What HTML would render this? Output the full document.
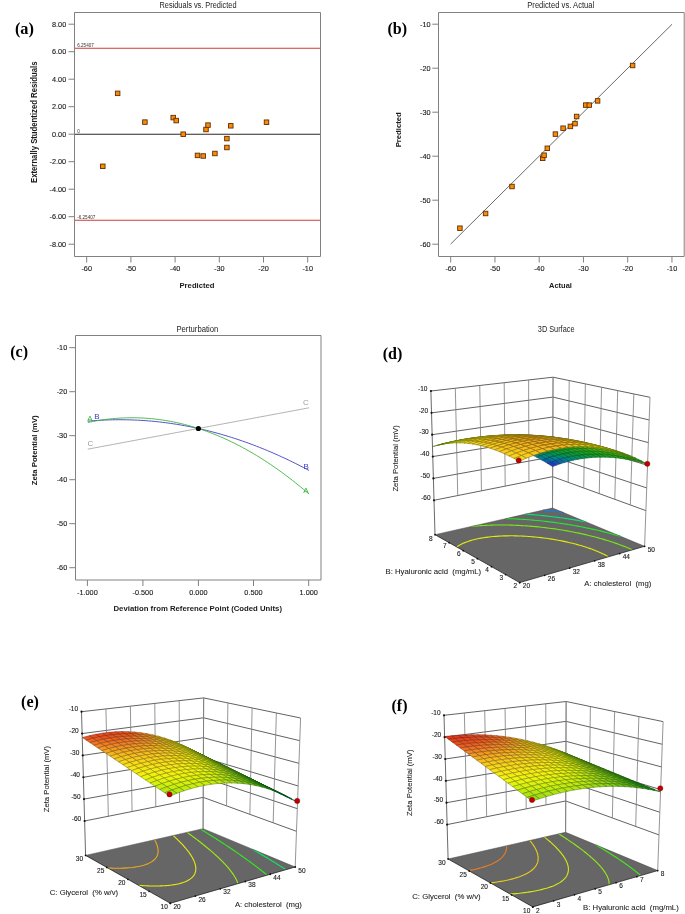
<!DOCTYPE html>
<html><head><meta charset="utf-8"><style>
html,body{margin:0;padding:0;background:#fff;}
svg{display:block;will-change:transform;filter:blur(0.3px);}
.s{font-family:"Liberation Sans",sans-serif;}
.tk{font-family:"Liberation Sans",sans-serif;fill:#1a1a1a;stroke:#1a1a1a;stroke-width:0.12px;}
.tk2{font-family:"Liberation Sans",sans-serif;fill:#222;stroke:#222;stroke-width:0.08px;}
.t{font-family:"Liberation Sans",sans-serif;fill:#222;}
.b{font-family:"Liberation Sans",sans-serif;font-weight:bold;fill:#1a1a1a;}
.pl{font-family:"Liberation Serif",serif;font-weight:bold;fill:#000;}
</style></head><body>
<svg width="685" height="914" viewBox="0 0 685 914">
<rect width="685" height="914" fill="#fff"/>
<text x="198.00" y="8.40" font-size="8.3" class="t" text-anchor="middle" textLength="77.00" lengthAdjust="spacingAndGlyphs">Residuals vs. Predicted</text>
<line x1="74.50" y1="48.30" x2="320.50" y2="48.30" stroke="#d23a3a" stroke-width="1.1"/>
<line x1="74.50" y1="220.20" x2="320.50" y2="220.20" stroke="#d23a3a" stroke-width="1.1"/>
<line x1="74.50" y1="134.30" x2="320.50" y2="134.30" stroke="#2a2a2a" stroke-width="1.1"/>
<text x="77.20" y="47.00" font-size="4.6" class="s" fill="#333">6.25407</text>
<text x="77.20" y="132.90" font-size="4.6" class="s" fill="#333">0</text>
<text x="77.20" y="218.80" font-size="4.6" class="s" fill="#333">-6.25407</text>
<path d="M74.50,12.50 L320.50,12.50 L320.50,256.50 L74.50,256.50 Z" fill="none" stroke="#808080" stroke-width="1"/>
<line x1="68.50" y1="24.20" x2="74.50" y2="24.20" stroke="#808080" stroke-width="1"/>
<text x="66.20" y="26.70" font-size="7.3" class="tk" text-anchor="end">8.00</text>
<line x1="68.50" y1="51.70" x2="74.50" y2="51.70" stroke="#808080" stroke-width="1"/>
<text x="66.20" y="54.20" font-size="7.3" class="tk" text-anchor="end">6.00</text>
<line x1="68.50" y1="79.20" x2="74.50" y2="79.20" stroke="#808080" stroke-width="1"/>
<text x="66.20" y="81.70" font-size="7.3" class="tk" text-anchor="end">4.00</text>
<line x1="68.50" y1="106.70" x2="74.50" y2="106.70" stroke="#808080" stroke-width="1"/>
<text x="66.20" y="109.20" font-size="7.3" class="tk" text-anchor="end">2.00</text>
<line x1="68.50" y1="134.20" x2="74.50" y2="134.20" stroke="#808080" stroke-width="1"/>
<text x="66.20" y="136.70" font-size="7.3" class="tk" text-anchor="end">0.00</text>
<line x1="68.50" y1="161.70" x2="74.50" y2="161.70" stroke="#808080" stroke-width="1"/>
<text x="66.20" y="164.20" font-size="7.3" class="tk" text-anchor="end">-2.00</text>
<line x1="68.50" y1="189.20" x2="74.50" y2="189.20" stroke="#808080" stroke-width="1"/>
<text x="66.20" y="191.70" font-size="7.3" class="tk" text-anchor="end">-4.00</text>
<line x1="68.50" y1="216.70" x2="74.50" y2="216.70" stroke="#808080" stroke-width="1"/>
<text x="66.20" y="219.20" font-size="7.3" class="tk" text-anchor="end">-6.00</text>
<line x1="68.50" y1="244.20" x2="74.50" y2="244.20" stroke="#808080" stroke-width="1"/>
<text x="66.20" y="246.70" font-size="7.3" class="tk" text-anchor="end">-8.00</text>
<line x1="86.70" y1="256.50" x2="86.70" y2="262.50" stroke="#808080" stroke-width="1"/>
<text x="86.70" y="270.90" font-size="7.3" class="tk" text-anchor="middle">-60</text>
<line x1="130.90" y1="256.50" x2="130.90" y2="262.50" stroke="#808080" stroke-width="1"/>
<text x="130.90" y="270.90" font-size="7.3" class="tk" text-anchor="middle">-50</text>
<line x1="175.10" y1="256.50" x2="175.10" y2="262.50" stroke="#808080" stroke-width="1"/>
<text x="175.10" y="270.90" font-size="7.3" class="tk" text-anchor="middle">-40</text>
<line x1="219.30" y1="256.50" x2="219.30" y2="262.50" stroke="#808080" stroke-width="1"/>
<text x="219.30" y="270.90" font-size="7.3" class="tk" text-anchor="middle">-30</text>
<line x1="263.50" y1="256.50" x2="263.50" y2="262.50" stroke="#808080" stroke-width="1"/>
<text x="263.50" y="270.90" font-size="7.3" class="tk" text-anchor="middle">-20</text>
<line x1="307.70" y1="256.50" x2="307.70" y2="262.50" stroke="#808080" stroke-width="1"/>
<text x="307.70" y="270.90" font-size="7.3" class="tk" text-anchor="middle">-10</text>
<text x="197.00" y="287.70" font-size="7.6" class="b" text-anchor="middle" textLength="35.00" lengthAdjust="spacingAndGlyphs">Predicted</text>
<text x="37.40" y="122.20" font-size="8.4" class="b" text-anchor="middle" textLength="121.50" lengthAdjust="spacingAndGlyphs" transform="rotate(-90 37.40 122.20)">Externally Studentized Residuals</text>
<rect x="115.40" y="91.10" width="4.5" height="4.5" fill="#ff8a00" stroke="#5a300a" stroke-width="0.9"/>
<rect x="142.65" y="119.85" width="4.5" height="4.5" fill="#ff8a00" stroke="#5a300a" stroke-width="0.9"/>
<rect x="170.95" y="115.35" width="4.5" height="4.5" fill="#ff8a00" stroke="#5a300a" stroke-width="0.9"/>
<rect x="173.95" y="118.35" width="4.5" height="4.5" fill="#ff8a00" stroke="#5a300a" stroke-width="0.9"/>
<rect x="180.95" y="131.95" width="4.5" height="4.5" fill="#ff8a00" stroke="#5a300a" stroke-width="0.9"/>
<rect x="203.75" y="127.25" width="4.5" height="4.5" fill="#ff8a00" stroke="#5a300a" stroke-width="0.9"/>
<rect x="205.75" y="122.85" width="4.5" height="4.5" fill="#ff8a00" stroke="#5a300a" stroke-width="0.9"/>
<rect x="228.55" y="123.55" width="4.5" height="4.5" fill="#ff8a00" stroke="#5a300a" stroke-width="0.9"/>
<rect x="264.25" y="119.95" width="4.5" height="4.5" fill="#ff8a00" stroke="#5a300a" stroke-width="0.9"/>
<rect x="224.65" y="136.35" width="4.5" height="4.5" fill="#ff8a00" stroke="#5a300a" stroke-width="0.9"/>
<rect x="224.65" y="145.25" width="4.5" height="4.5" fill="#ff8a00" stroke="#5a300a" stroke-width="0.9"/>
<rect x="212.65" y="151.25" width="4.5" height="4.5" fill="#ff8a00" stroke="#5a300a" stroke-width="0.9"/>
<rect x="195.25" y="153.15" width="4.5" height="4.5" fill="#ff8a00" stroke="#5a300a" stroke-width="0.9"/>
<rect x="200.95" y="153.75" width="4.5" height="4.5" fill="#ff8a00" stroke="#5a300a" stroke-width="0.9"/>
<rect x="100.55" y="164.05" width="4.5" height="4.5" fill="#ff8a00" stroke="#5a300a" stroke-width="0.9"/>
<text x="14.90" y="33.60" font-size="16" class="pl" textLength="19.00" lengthAdjust="spacingAndGlyphs">(a)</text>
<text x="560.75" y="8.40" font-size="8.3" class="t" text-anchor="middle" textLength="67.00" lengthAdjust="spacingAndGlyphs">Predicted vs. Actual</text>
<line x1="450.60" y1="244.10" x2="672.00" y2="24.30" stroke="#6a6a6a" stroke-width="1"/>
<path d="M438.50,12.50 L684.20,12.50 L684.20,256.50 L438.50,256.50 Z" fill="none" stroke="#808080" stroke-width="1"/>
<line x1="432.30" y1="24.20" x2="438.50" y2="24.20" stroke="#808080" stroke-width="1"/>
<text x="430.50" y="26.70" font-size="7.3" class="tk" text-anchor="end">-10</text>
<line x1="432.30" y1="68.20" x2="438.50" y2="68.20" stroke="#808080" stroke-width="1"/>
<text x="430.50" y="70.70" font-size="7.3" class="tk" text-anchor="end">-20</text>
<line x1="432.30" y1="112.20" x2="438.50" y2="112.20" stroke="#808080" stroke-width="1"/>
<text x="430.50" y="114.70" font-size="7.3" class="tk" text-anchor="end">-30</text>
<line x1="432.30" y1="156.20" x2="438.50" y2="156.20" stroke="#808080" stroke-width="1"/>
<text x="430.50" y="158.70" font-size="7.3" class="tk" text-anchor="end">-40</text>
<line x1="432.30" y1="200.20" x2="438.50" y2="200.20" stroke="#808080" stroke-width="1"/>
<text x="430.50" y="202.70" font-size="7.3" class="tk" text-anchor="end">-50</text>
<line x1="432.30" y1="244.20" x2="438.50" y2="244.20" stroke="#808080" stroke-width="1"/>
<text x="430.50" y="246.70" font-size="7.3" class="tk" text-anchor="end">-60</text>
<line x1="450.70" y1="256.50" x2="450.70" y2="262.50" stroke="#808080" stroke-width="1"/>
<text x="450.70" y="270.90" font-size="7.3" class="tk" text-anchor="middle">-60</text>
<line x1="494.95" y1="256.50" x2="494.95" y2="262.50" stroke="#808080" stroke-width="1"/>
<text x="494.95" y="270.90" font-size="7.3" class="tk" text-anchor="middle">-50</text>
<line x1="539.20" y1="256.50" x2="539.20" y2="262.50" stroke="#808080" stroke-width="1"/>
<text x="539.20" y="270.90" font-size="7.3" class="tk" text-anchor="middle">-40</text>
<line x1="583.45" y1="256.50" x2="583.45" y2="262.50" stroke="#808080" stroke-width="1"/>
<text x="583.45" y="270.90" font-size="7.3" class="tk" text-anchor="middle">-30</text>
<line x1="627.70" y1="256.50" x2="627.70" y2="262.50" stroke="#808080" stroke-width="1"/>
<text x="627.70" y="270.90" font-size="7.3" class="tk" text-anchor="middle">-20</text>
<line x1="671.95" y1="256.50" x2="671.95" y2="262.50" stroke="#808080" stroke-width="1"/>
<text x="671.95" y="270.90" font-size="7.3" class="tk" text-anchor="middle">-10</text>
<text x="560.50" y="287.80" font-size="7.6" class="b" text-anchor="middle" textLength="22.90" lengthAdjust="spacingAndGlyphs">Actual</text>
<text x="401.20" y="129.80" font-size="7.6" class="b" text-anchor="middle" textLength="35.10" lengthAdjust="spacingAndGlyphs" transform="rotate(-90 401.20 129.80)">Predicted</text>
<rect x="457.65" y="225.95" width="4.5" height="4.5" fill="#ff8a00" stroke="#5a300a" stroke-width="0.9"/>
<rect x="483.35" y="211.25" width="4.5" height="4.5" fill="#ff8a00" stroke="#5a300a" stroke-width="0.9"/>
<rect x="509.75" y="184.25" width="4.5" height="4.5" fill="#ff8a00" stroke="#5a300a" stroke-width="0.9"/>
<rect x="540.45" y="156.05" width="4.5" height="4.5" fill="#ff8a00" stroke="#5a300a" stroke-width="0.9"/>
<rect x="541.85" y="152.95" width="4.5" height="4.5" fill="#ff8a00" stroke="#5a300a" stroke-width="0.9"/>
<rect x="545.05" y="146.05" width="4.5" height="4.5" fill="#ff8a00" stroke="#5a300a" stroke-width="0.9"/>
<rect x="553.15" y="131.85" width="4.5" height="4.5" fill="#ff8a00" stroke="#5a300a" stroke-width="0.9"/>
<rect x="560.85" y="125.95" width="4.5" height="4.5" fill="#ff8a00" stroke="#5a300a" stroke-width="0.9"/>
<rect x="568.15" y="124.15" width="4.5" height="4.5" fill="#ff8a00" stroke="#5a300a" stroke-width="0.9"/>
<rect x="572.75" y="121.35" width="4.5" height="4.5" fill="#ff8a00" stroke="#5a300a" stroke-width="0.9"/>
<rect x="574.35" y="114.25" width="4.5" height="4.5" fill="#ff8a00" stroke="#5a300a" stroke-width="0.9"/>
<rect x="583.55" y="102.85" width="4.5" height="4.5" fill="#ff8a00" stroke="#5a300a" stroke-width="0.9"/>
<rect x="587.05" y="102.85" width="4.5" height="4.5" fill="#ff8a00" stroke="#5a300a" stroke-width="0.9"/>
<rect x="595.35" y="98.65" width="4.5" height="4.5" fill="#ff8a00" stroke="#5a300a" stroke-width="0.9"/>
<rect x="630.35" y="63.25" width="4.5" height="4.5" fill="#ff8a00" stroke="#5a300a" stroke-width="0.9"/>
<text x="387.50" y="34.30" font-size="16" class="pl" textLength="19.60" lengthAdjust="spacingAndGlyphs">(b)</text>
<text x="197.40" y="331.70" font-size="8.3" class="t" text-anchor="middle" textLength="42.00" lengthAdjust="spacingAndGlyphs">Perturbation</text>
<path d="M75.50,335.50 L321.00,335.50 L321.00,580.00 L75.50,580.00 Z" fill="none" stroke="#808080" stroke-width="1"/>
<line x1="69.30" y1="347.70" x2="75.50" y2="347.70" stroke="#808080" stroke-width="1"/>
<text x="67.20" y="350.20" font-size="7.3" class="tk" text-anchor="end">-10</text>
<line x1="69.30" y1="391.70" x2="75.50" y2="391.70" stroke="#808080" stroke-width="1"/>
<text x="67.20" y="394.20" font-size="7.3" class="tk" text-anchor="end">-20</text>
<line x1="69.30" y1="435.70" x2="75.50" y2="435.70" stroke="#808080" stroke-width="1"/>
<text x="67.20" y="438.20" font-size="7.3" class="tk" text-anchor="end">-30</text>
<line x1="69.30" y1="479.70" x2="75.50" y2="479.70" stroke="#808080" stroke-width="1"/>
<text x="67.20" y="482.20" font-size="7.3" class="tk" text-anchor="end">-40</text>
<line x1="69.30" y1="523.70" x2="75.50" y2="523.70" stroke="#808080" stroke-width="1"/>
<text x="67.20" y="526.20" font-size="7.3" class="tk" text-anchor="end">-50</text>
<line x1="69.30" y1="567.70" x2="75.50" y2="567.70" stroke="#808080" stroke-width="1"/>
<text x="67.20" y="570.20" font-size="7.3" class="tk" text-anchor="end">-60</text>
<line x1="87.40" y1="580.00" x2="87.40" y2="586.00" stroke="#808080" stroke-width="1"/>
<text x="87.40" y="594.60" font-size="7.3" class="tk" text-anchor="middle">-1.000</text>
<line x1="142.90" y1="580.00" x2="142.90" y2="586.00" stroke="#808080" stroke-width="1"/>
<text x="142.90" y="594.60" font-size="7.3" class="tk" text-anchor="middle">-0.500</text>
<line x1="198.40" y1="580.00" x2="198.40" y2="586.00" stroke="#808080" stroke-width="1"/>
<text x="198.40" y="594.60" font-size="7.3" class="tk" text-anchor="middle">0.000</text>
<line x1="253.50" y1="580.00" x2="253.50" y2="586.00" stroke="#808080" stroke-width="1"/>
<text x="253.50" y="594.60" font-size="7.3" class="tk" text-anchor="middle">0.500</text>
<line x1="308.70" y1="580.00" x2="308.70" y2="586.00" stroke="#808080" stroke-width="1"/>
<text x="308.70" y="594.60" font-size="7.3" class="tk" text-anchor="middle">1.000</text>
<text x="197.75" y="611.00" font-size="7.6" class="b" text-anchor="middle" textLength="168.50" lengthAdjust="spacingAndGlyphs">Deviation from Reference Point (Coded Units)</text>
<text x="37.30" y="450.30" font-size="7.6" class="b" text-anchor="middle" textLength="70.00" lengthAdjust="spacingAndGlyphs" transform="rotate(-90 37.30 450.30)">Zeta Potential (mV)</text>
<path d="M87.75,449.16 L90.52,448.65 L93.28,448.13 L96.05,447.61 L98.81,447.10 L101.58,446.58 L104.35,446.06 L107.11,445.54 L109.88,445.03 L112.65,444.51 L115.41,443.99 L118.18,443.48 L120.95,442.96 L123.71,442.44 L126.48,441.93 L129.24,441.41 L132.01,440.89 L134.78,440.38 L137.54,439.86 L140.31,439.34 L143.07,438.82 L145.84,438.31 L148.61,437.79 L151.37,437.27 L154.14,436.76 L156.91,436.24 L159.67,435.72 L162.44,435.20 L165.21,434.69 L167.97,434.17 L170.74,433.65 L173.50,433.14 L176.27,432.62 L179.04,432.10 L181.80,431.59 L184.57,431.07 L187.34,430.55 L190.10,430.03 L192.87,429.52 L195.63,429.00 L198.40,428.48 L201.17,427.97 L203.93,427.45 L206.70,426.93 L209.47,426.42 L212.23,425.90 L215.00,425.38 L217.76,424.87 L220.53,424.35 L223.30,423.83 L226.06,423.31 L228.83,422.80 L231.60,422.28 L234.36,421.76 L237.13,421.25 L239.89,420.73 L242.66,420.21 L245.43,419.69 L248.19,419.18 L250.96,418.66 L253.73,418.14 L256.49,417.63 L259.26,417.11 L262.02,416.59 L264.79,416.08 L267.56,415.56 L270.32,415.04 L273.09,414.52 L275.86,414.01 L278.62,413.49 L281.39,412.97 L284.15,412.46 L286.92,411.94 L289.69,411.42 L292.45,410.91 L295.22,410.39 L297.99,409.87 L300.75,409.36 L303.52,408.84 L306.28,408.32 L309.05,407.80" fill="none" stroke="#a8a8a8" stroke-width="0.9" stroke-linejoin="round"/>
<path d="M87.75,421.18 L90.52,420.94 L93.28,420.72 L96.05,420.53 L98.81,420.35 L101.58,420.20 L104.35,420.07 L107.11,419.96 L109.88,419.87 L112.65,419.80 L115.41,419.76 L118.18,419.73 L120.95,419.73 L123.71,419.75 L126.48,419.79 L129.24,419.86 L132.01,419.94 L134.78,420.05 L137.54,420.18 L140.31,420.33 L143.07,420.50 L145.84,420.69 L148.61,420.91 L151.37,421.14 L154.14,421.40 L156.91,421.68 L159.67,421.98 L162.44,422.31 L165.21,422.65 L167.97,423.02 L170.74,423.41 L173.50,423.82 L176.27,424.25 L179.04,424.70 L181.80,425.18 L184.57,425.67 L187.34,426.19 L190.10,426.73 L192.87,427.30 L195.63,427.88 L198.40,428.48 L201.17,429.11 L203.93,429.76 L206.70,430.43 L209.47,431.12 L212.23,431.83 L215.00,432.57 L217.76,433.33 L220.53,434.11 L223.30,434.91 L226.06,435.73 L228.83,436.57 L231.60,437.44 L234.36,438.32 L237.13,439.23 L239.89,440.16 L242.66,441.11 L245.43,442.09 L248.19,443.08 L250.96,444.10 L253.73,445.14 L256.49,446.20 L259.26,447.28 L262.02,448.38 L264.79,449.51 L267.56,450.66 L270.32,451.82 L273.09,453.01 L275.86,454.23 L278.62,455.46 L281.39,456.72 L284.15,457.99 L286.92,459.29 L289.69,460.61 L292.45,461.95 L295.22,463.32 L297.99,464.70 L300.75,466.11 L303.52,467.54 L306.28,468.99 L309.05,470.46" fill="none" stroke="#4040c8" stroke-width="0.9" stroke-linejoin="round"/>
<path d="M87.75,422.52 L90.52,421.94 L93.28,421.41 L96.05,420.90 L98.81,420.44 L101.58,420.01 L104.35,419.62 L107.11,419.26 L109.88,418.95 L112.65,418.67 L115.41,418.43 L118.18,418.22 L120.95,418.06 L123.71,417.92 L126.48,417.83 L129.24,417.78 L132.01,417.76 L134.78,417.78 L137.54,417.83 L140.31,417.93 L143.07,418.06 L145.84,418.22 L148.61,418.43 L151.37,418.67 L154.14,418.95 L156.91,419.27 L159.67,419.62 L162.44,420.01 L165.21,420.44 L167.97,420.91 L170.74,421.41 L173.50,421.95 L176.27,422.53 L179.04,423.14 L181.80,423.79 L184.57,424.48 L187.34,425.21 L190.10,425.97 L192.87,426.77 L195.63,427.61 L198.40,428.48 L201.17,429.40 L203.93,430.35 L206.70,431.33 L209.47,432.36 L212.23,433.42 L215.00,434.52 L217.76,435.65 L220.53,436.83 L223.30,438.04 L226.06,439.28 L228.83,440.57 L231.60,441.89 L234.36,443.25 L237.13,444.65 L239.89,446.08 L242.66,447.55 L245.43,449.06 L248.19,450.60 L250.96,452.19 L253.73,453.81 L256.49,455.46 L259.26,457.16 L262.02,458.89 L264.79,460.66 L267.56,462.46 L270.32,464.31 L273.09,466.19 L275.86,468.11 L278.62,470.06 L281.39,472.05 L284.15,474.08 L286.92,476.15 L289.69,478.25 L292.45,480.39 L295.22,482.57 L297.99,484.79 L300.75,487.04 L303.52,489.33 L306.28,491.66 L309.05,494.02" fill="none" stroke="#3cb43c" stroke-width="0.9" stroke-linejoin="round"/>
<circle cx="198.40" cy="428.48" r="2.6" fill="#000"/>
<text x="90.40" y="446.20" font-size="8" class="s" fill="#9a9a9a" text-anchor="middle">C</text>
<text x="89.80" y="421.30" font-size="8" class="s" fill="#3cb43c" text-anchor="middle">A</text>
<text x="96.80" y="418.80" font-size="8" class="s" fill="#3a3ac8" text-anchor="middle">B</text>
<text x="305.90" y="404.50" font-size="8" class="s" fill="#9a9a9a" text-anchor="middle">C</text>
<text x="306.10" y="468.70" font-size="8" class="s" fill="#3a3ac8" text-anchor="middle">B</text>
<text x="306.00" y="492.60" font-size="8" class="s" fill="#3cb43c" text-anchor="middle">A</text>
<text x="10.20" y="357.40" font-size="16" class="pl" textLength="17.80" lengthAdjust="spacingAndGlyphs">(c)</text>
<path d="M430.90,391.00 L553.05,377.20 L650.00,397.30" fill="none" stroke="#3a3a3a" stroke-width="0.8"/>
<path d="M431.52,412.86 L552.97,397.09 L649.18,419.96" fill="none" stroke="#3a3a3a" stroke-width="0.8"/>
<path d="M432.15,434.71 L552.88,416.99 L648.36,442.62" fill="none" stroke="#3a3a3a" stroke-width="0.8"/>
<path d="M432.77,456.57 L552.80,436.88 L647.54,465.28" fill="none" stroke="#3a3a3a" stroke-width="0.8"/>
<path d="M433.39,478.42 L552.72,456.77 L646.71,487.95" fill="none" stroke="#3a3a3a" stroke-width="0.8"/>
<path d="M434.02,500.28 L552.63,476.67 L645.89,510.61" fill="none" stroke="#3a3a3a" stroke-width="0.8"/>
<line x1="430.90" y1="391.00" x2="435.00" y2="534.70" stroke="#444" stroke-width="0.8"/>
<line x1="455.33" y1="388.24" x2="457.74" y2="495.56" stroke="#7a7a7a" stroke-width="0.8"/>
<line x1="479.76" y1="385.48" x2="481.46" y2="490.83" stroke="#7a7a7a" stroke-width="0.8"/>
<line x1="504.19" y1="382.72" x2="505.19" y2="486.11" stroke="#7a7a7a" stroke-width="0.8"/>
<line x1="528.62" y1="379.96" x2="528.91" y2="481.39" stroke="#7a7a7a" stroke-width="0.8"/>
<line x1="553.05" y1="377.20" x2="552.50" y2="508.00" stroke="#7a7a7a" stroke-width="0.8"/>
<line x1="650.00" y1="397.30" x2="644.60" y2="546.30" stroke="#7a7a7a" stroke-width="0.8"/>
<line x1="633.84" y1="393.95" x2="630.35" y2="504.95" stroke="#7a7a7a" stroke-width="0.8"/>
<line x1="617.68" y1="390.60" x2="614.81" y2="499.29" stroke="#7a7a7a" stroke-width="0.8"/>
<line x1="601.52" y1="387.25" x2="599.26" y2="493.64" stroke="#7a7a7a" stroke-width="0.8"/>
<line x1="585.37" y1="383.90" x2="583.72" y2="487.98" stroke="#7a7a7a" stroke-width="0.8"/>
<line x1="569.21" y1="380.55" x2="568.18" y2="482.32" stroke="#7a7a7a" stroke-width="0.8"/>
<line x1="553.05" y1="377.20" x2="552.50" y2="508.00" stroke="#7a7a7a" stroke-width="0.8"/>
<circle cx="430.90" cy="391.00" r="1.1" fill="#111"/>
<text x="427.50" y="390.70" font-size="6.5" class="tk" text-anchor="end">-10</text>
<circle cx="431.52" cy="412.86" r="1.1" fill="#111"/>
<text x="428.12" y="412.56" font-size="6.5" class="tk" text-anchor="end">-20</text>
<circle cx="432.15" cy="434.71" r="1.1" fill="#111"/>
<text x="428.75" y="434.41" font-size="6.5" class="tk" text-anchor="end">-30</text>
<circle cx="432.77" cy="456.57" r="1.1" fill="#111"/>
<text x="429.37" y="456.27" font-size="6.5" class="tk" text-anchor="end">-40</text>
<circle cx="433.39" cy="478.42" r="1.1" fill="#111"/>
<text x="429.99" y="478.12" font-size="6.5" class="tk" text-anchor="end">-50</text>
<circle cx="434.02" cy="500.28" r="1.1" fill="#111"/>
<text x="430.62" y="499.98" font-size="6.5" class="tk" text-anchor="end">-60</text>
<text x="398.50" y="458.40" font-size="7.7" class="tk2" text-anchor="middle" textLength="66.40" lengthAdjust="spacingAndGlyphs" transform="rotate(-90 398.50 458.40)">Zeta Potential (mV)</text>
<path d="M519.70,582.60 L644.60,546.30 L552.50,508.00 L435.00,534.70 Z" fill="#666666" stroke="none" stroke-width="1"/>
<path d="M608.55,556.71 L607.02,555.87 L605.45,555.04 L603.84,554.24 L602.19,553.45 L600.50,552.68 L598.78,551.92 L597.02,551.18 L595.23,550.46 L593.40,549.75 L591.54,549.06 L589.64,548.38 L588.34,547.94 L587.71,547.72 L585.74,547.08 L583.74,546.44 L581.70,545.82 L579.64,545.22 L578.61,544.93 L577.53,544.63 L575.38,544.06 L573.21,543.49 L571.36,543.03 L571.00,542.95 L568.73,542.42 L566.44,541.90 L565.21,541.63 L564.10,541.39 L561.72,540.91 L559.70,540.51 L559.30,540.43 L556.82,539.98 L554.66,539.60 L554.31,539.54 L551.73,539.12 L549.98,538.84 L549.10,538.71 L546.41,538.32 L545.56,538.21 L543.65,537.96 L541.37,537.67 L540.83,537.61 L537.93,537.28 L537.38,537.23 L534.94,536.98 L533.55,536.85 L531.86,536.71 L529.87,536.55 L528.68,536.46 L526.32,536.30 L525.38,536.25 L522.88,536.11 L521.93,536.07 L519.55,535.97 L518.33,535.93 L516.32,535.88 L514.52,535.84 L513.18,535.82 L510.48,535.81 L510.13,535.81 L507.16,535.85 L506.10,535.87 L504.26,535.92 L501.43,536.02 L501.30,536.03 L498.68,536.17 L495.98,536.35 L495.78,536.36 L493.36,536.56 L490.80,536.81 L488.92,537.02 L488.29,537.09 L485.86,537.41 L483.47,537.76 L481.15,538.15 L478.88,538.57 L476.68,539.03 L474.53,539.53 L472.45,540.06 L470.43,540.64 L468.47,541.25 L466.58,541.91 L464.76,542.62 L463.17,543.30 L463.00,543.37 L461.34,544.18 L459.74,545.04 L459.35,545.28 L458.25,545.97 L456.85,546.94 L456.84,546.95" fill="none" stroke="#e2eb0c" stroke-width="1.1"/>
<path d="M632.31,549.80 L630.60,549.04 L628.86,548.30 L627.10,547.56 L625.32,546.84 L623.52,546.13 L621.70,545.43 L619.86,544.74 L618.00,544.06 L616.12,543.39 L614.22,542.74 L614.02,542.67 L612.29,542.09 L610.35,541.46 L608.39,540.84 L606.41,540.22 L604.41,539.62 L602.69,539.11 L602.40,539.03 L600.35,538.44 L598.29,537.87 L596.21,537.31 L594.33,536.81 L594.11,536.75 L591.98,536.21 L589.84,535.68 L587.68,535.16 L587.28,535.06 L585.48,534.64 L583.27,534.14 L581.04,533.65 L581.02,533.64 L578.77,533.16 L576.49,532.69 L575.31,532.45 L574.17,532.23 L571.83,531.77 L570.00,531.43 L569.47,531.33 L567.07,530.90 L565.02,530.54 L564.65,530.48 L562.19,530.07 L560.30,529.76 L559.70,529.67 L557.18,529.28 L555.80,529.08 L554.62,528.91 L552.03,528.54 L551.49,528.47 L549.39,528.19 L547.35,527.93 L546.71,527.85 L543.99,527.53 L543.35,527.45 L541.22,527.22 L539.48,527.03 L538.40,526.92 L535.73,526.65 L535.53,526.64 L532.59,526.37 L532.08,526.33 L529.59,526.13 L528.53,526.04 L526.52,525.90 L525.07,525.80 L523.37,525.69 L521.70,525.59 L520.14,525.50 L518.39,525.41 L516.82,525.34 L515.17,525.27 L513.39,525.20 L512.00,525.15 L509.84,525.09 L508.91,525.07 L506.16,525.02 L505.87,525.01 L502.89,524.98 L502.30,524.98 L499.96,524.98 L498.25,524.99 L497.09,525.00 L494.26,525.05 L493.98,525.06 L491.48,525.12 L489.39,525.20 L488.75,525.22 L486.06,525.34 L484.39,525.43 L483.42,525.48 L480.82,525.64 L478.83,525.79 L478.25,525.83 L475.73,526.04 L473.25,526.27 L472.32,526.36" fill="none" stroke="#76eb12" stroke-width="1.1"/>
<path d="M621.00,536.52 L620.48,536.37 L618.49,535.78 L616.48,535.19 L614.47,534.62 L612.44,534.05 L611.39,533.77 L610.39,533.50 L608.32,532.95 L606.24,532.41 L604.15,531.88 L603.51,531.71 L602.04,531.35 L599.91,530.84 L597.77,530.33 L596.61,530.06 L595.61,529.83 L593.43,529.34 L591.24,528.86 L590.37,528.67 L589.03,528.38 L586.79,527.92 L584.60,527.47 L584.55,527.46 L582.27,527.01 L579.98,526.57 L579.23,526.43 L577.67,526.14 L575.34,525.71 L574.15,525.50 L572.98,525.30 L570.60,524.89 L569.32,524.68 L568.20,524.50 L565.77,524.11 L564.70,523.94 L563.32,523.73 L560.84,523.36 L560.27,523.27 L558.33,523.00 L556.00,522.67 L555.80,522.64 L553.23,522.30 L551.88,522.13 L550.63,521.97 L548.00,521.65 L547.88,521.64 L545.32,521.34 L544.00,521.20 L542.62,521.05 L540.23,520.79 L539.87,520.76 L537.08,520.48 L536.55,520.43 L534.24,520.22 L532.96,520.11 L531.35,519.98 L529.45,519.82 L528.42,519.74 L526.02,519.56 L525.43,519.52 L522.66,519.33 L522.38,519.32 L519.37,519.14 L519.26,519.13 L516.14,518.96 L516.06,518.96 L512.97,518.82 L512.79,518.81 L509.86,518.70 L509.43,518.68 L506.80,518.60 L505.97,518.58" fill="none" stroke="#25eb2b" stroke-width="1.1"/>
<path d="M585.81,521.84 L584.06,521.52 L581.77,521.10 L580.75,520.92 L579.45,520.70 L577.13,520.30 L575.91,520.10 L574.78,519.91 L572.41,519.53 L571.27,519.35 L570.02,519.15 L567.62,518.78 L566.81,518.66 L565.19,518.42 L562.74,518.07 L562.50,518.04 L560.26,517.73 L558.32,517.47 L557.76,517.39 L555.23,517.07 L554.27,516.95 L552.67,516.75 L550.33,516.47 L550.10,516.44 L547.48,516.14 L546.50,516.03 L544.84,515.85 L542.76,515.63 L542.17,515.57 L539.46,515.30 L539.10,515.26 L536.71,515.04 L535.53,514.93 L533.92,514.79 L532.03,514.62 L531.10,514.55 L528.60,514.35 L528.23,514.32 L525.32,514.10" fill="none" stroke="#01eb7a" stroke-width="1.1"/>
<path d="M563.39,512.48 L563.06,512.44 L560.60,512.11 L559.35,511.95 L558.12,511.80 L555.63,511.49 L555.41,511.46 L553.10,511.19 L551.57,511.01 L550.56,510.90 L547.99,510.61 L547.81,510.59 L545.39,510.33 L544.14,510.20 L542.77,510.07" fill="none" stroke="#157ceb" stroke-width="1.1"/>
<path d="M435.00,534.70 L519.70,582.60 L644.60,546.30" fill="none" stroke="#111" stroke-width="0.7"/>
<line x1="552.50" y1="508.00" x2="435.00" y2="534.70" stroke="#444" stroke-width="0.5"/>
<line x1="552.50" y1="508.00" x2="644.60" y2="546.30" stroke="#444" stroke-width="0.5"/>
<circle cx="519.70" cy="582.60" r="0.9" fill="#111"/>
<text x="522.80" y="588.30" font-size="6.5" class="tk">20</text>
<circle cx="544.68" cy="575.34" r="0.9" fill="#111"/>
<text x="547.78" y="581.04" font-size="6.5" class="tk">26</text>
<circle cx="569.66" cy="568.08" r="0.9" fill="#111"/>
<text x="572.76" y="573.78" font-size="6.5" class="tk">32</text>
<circle cx="594.64" cy="560.82" r="0.9" fill="#111"/>
<text x="597.74" y="566.52" font-size="6.5" class="tk">38</text>
<circle cx="619.62" cy="553.56" r="0.9" fill="#111"/>
<text x="622.72" y="559.26" font-size="6.5" class="tk">44</text>
<circle cx="644.60" cy="546.30" r="0.9" fill="#111"/>
<text x="647.70" y="552.00" font-size="6.5" class="tk">50</text>
<circle cx="519.70" cy="582.60" r="0.9" fill="#111"/>
<text x="517.20" y="588.40" font-size="6.5" class="tk" text-anchor="end">2</text>
<circle cx="505.58" cy="574.62" r="0.9" fill="#111"/>
<text x="503.08" y="580.42" font-size="6.5" class="tk" text-anchor="end">3</text>
<circle cx="491.47" cy="566.63" r="0.9" fill="#111"/>
<text x="488.97" y="572.43" font-size="6.5" class="tk" text-anchor="end">4</text>
<circle cx="477.35" cy="558.65" r="0.9" fill="#111"/>
<text x="474.85" y="564.45" font-size="6.5" class="tk" text-anchor="end">5</text>
<circle cx="463.23" cy="550.67" r="0.9" fill="#111"/>
<text x="460.73" y="556.47" font-size="6.5" class="tk" text-anchor="end">6</text>
<circle cx="449.12" cy="542.68" r="0.9" fill="#111"/>
<text x="446.62" y="548.48" font-size="6.5" class="tk" text-anchor="end">7</text>
<circle cx="435.00" cy="534.70" r="0.9" fill="#111"/>
<text x="432.50" y="540.50" font-size="6.5" class="tk" text-anchor="end">8</text>
<text x="433.35" y="574.40" font-size="7.7" class="tk2" text-anchor="middle" textLength="95.70" lengthAdjust="spacingAndGlyphs">B: Hyaluronic acid &#160;(mg/mL)</text>
<text x="617.80" y="586.10" font-size="7.7" class="tk2" text-anchor="middle" textLength="67.00" lengthAdjust="spacingAndGlyphs">A: cholesterol &#160;(mg)</text>
<path d="M551.33,461.64 L556.70,465.04 L552.58,466.61 L547.23,463.21 Z" fill="#1e3cbe" stroke="#0f1e5f" stroke-width="0.5" stroke-linejoin="round"/>
<path d="M545.89,458.47 L551.33,461.64 L547.23,463.21 L541.81,460.03 Z" fill="#0f5eaf" stroke="#082f58" stroke-width="0.5" stroke-linejoin="round"/>
<path d="M555.49,460.22 L560.88,463.61 L556.70,465.04 L551.33,461.64 Z" fill="#1453b4" stroke="#0a2a5a" stroke-width="0.5" stroke-linejoin="round"/>
<path d="M540.39,455.53 L545.89,458.47 L541.81,460.03 L536.32,457.07 Z" fill="#017fa1" stroke="#013f51" stroke-width="0.5" stroke-linejoin="round"/>
<path d="M550.04,457.05 L555.49,460.22 L551.33,461.64 L545.89,458.47 Z" fill="#0575a5" stroke="#033b53" stroke-width="0.5" stroke-linejoin="round"/>
<path d="M559.72,458.92 L565.12,462.31 L560.88,463.61 L555.49,460.22 Z" fill="#0b69ab" stroke="#053555" stroke-width="0.5" stroke-linejoin="round"/>
<path d="M534.81,452.82 L540.39,455.53 L536.32,457.07 L530.76,454.35 Z" fill="#008c79" stroke="#00463c" stroke-width="0.5" stroke-linejoin="round"/>
<path d="M544.52,454.12 L550.04,457.05 L545.89,458.47 L540.39,455.53 Z" fill="#008984" stroke="#004542" stroke-width="0.5" stroke-linejoin="round"/>
<path d="M554.25,455.77 L559.72,458.92 L555.49,460.22 L550.04,457.05 Z" fill="#008593" stroke="#004349" stroke-width="0.5" stroke-linejoin="round"/>
<path d="M564.01,457.77 L569.42,461.15 L565.12,462.31 L559.72,458.92 Z" fill="#027ea2" stroke="#013f51" stroke-width="0.5" stroke-linejoin="round"/>
<path d="M529.16,450.35 L534.81,452.82 L530.76,454.35 L525.13,451.87 Z" fill="#009650" stroke="#004b28" stroke-width="0.5" stroke-linejoin="round"/>
<path d="M538.93,451.42 L544.52,454.12 L540.39,455.53 L534.81,452.82 Z" fill="#009458" stroke="#004a2c" stroke-width="0.5" stroke-linejoin="round"/>
<path d="M548.72,452.84 L554.25,455.77 L550.04,457.05 L544.52,454.12 Z" fill="#009164" stroke="#004832" stroke-width="0.5" stroke-linejoin="round"/>
<path d="M558.53,454.62 L564.01,457.77 L559.72,458.92 L554.25,455.77 Z" fill="#008d75" stroke="#00463a" stroke-width="0.5" stroke-linejoin="round"/>
<path d="M568.36,456.76 L573.79,460.12 L569.42,461.15 L564.01,457.77 Z" fill="#008889" stroke="#004445" stroke-width="0.5" stroke-linejoin="round"/>
<path d="M523.45,448.12 L529.16,450.35 L525.13,451.87 L519.43,449.63 Z" fill="#079b3d" stroke="#044d1e" stroke-width="0.5" stroke-linejoin="round"/>
<path d="M533.26,448.96 L538.93,451.42 L534.81,452.82 L529.16,450.35 Z" fill="#069a40" stroke="#034d20" stroke-width="0.5" stroke-linejoin="round"/>
<path d="M543.11,450.16 L548.72,452.84 L544.52,454.12 L538.93,451.42 Z" fill="#049945" stroke="#024c22" stroke-width="0.5" stroke-linejoin="round"/>
<path d="M552.97,451.71 L558.53,454.62 L554.25,455.77 L548.72,452.84 Z" fill="#02974b" stroke="#014c26" stroke-width="0.5" stroke-linejoin="round"/>
<path d="M562.87,453.62 L568.36,456.76 L564.01,457.77 L558.53,454.62 Z" fill="#009459" stroke="#004a2c" stroke-width="0.5" stroke-linejoin="round"/>
<path d="M517.67,446.15 L523.45,448.12 L519.43,449.63 L513.67,447.64 Z" fill="#0e9f2b" stroke="#075016" stroke-width="0.5" stroke-linejoin="round"/>
<path d="M572.78,455.89 L578.22,459.25 L573.79,460.12 L568.36,456.76 Z" fill="#008e6e" stroke="#004737" stroke-width="0.5" stroke-linejoin="round"/>
<path d="M527.53,446.75 L533.26,448.96 L529.16,450.35 L523.45,448.12 Z" fill="#0d9f2d" stroke="#074f16" stroke-width="0.5" stroke-linejoin="round"/>
<path d="M537.42,447.72 L543.11,450.16 L538.93,451.42 L533.26,448.96 Z" fill="#0c9e31" stroke="#064f18" stroke-width="0.5" stroke-linejoin="round"/>
<path d="M547.35,449.04 L552.97,451.71 L548.72,452.84 L543.11,450.16 Z" fill="#0a9c36" stroke="#054e1b" stroke-width="0.5" stroke-linejoin="round"/>
<path d="M557.30,450.72 L562.87,453.62 L558.53,454.62 L552.97,451.71 Z" fill="#079b3e" stroke="#034d1f" stroke-width="0.5" stroke-linejoin="round"/>
<path d="M511.81,444.43 L517.67,446.15 L513.67,447.64 L507.84,445.90 Z" fill="#17a522" stroke="#0b5211" stroke-width="0.5" stroke-linejoin="round"/>
<path d="M567.27,452.77 L572.78,455.89 L568.36,456.76 L562.87,453.62 Z" fill="#039847" stroke="#024c24" stroke-width="0.5" stroke-linejoin="round"/>
<path d="M521.72,444.80 L527.53,446.75 L523.45,448.12 L517.67,446.15 Z" fill="#17a522" stroke="#0b5211" stroke-width="0.5" stroke-linejoin="round"/>
<path d="M577.26,455.17 L582.71,458.52 L578.22,459.25 L572.78,455.89 Z" fill="#009555" stroke="#004a2b" stroke-width="0.5" stroke-linejoin="round"/>
<path d="M531.67,445.53 L537.42,447.72 L533.26,448.96 L527.53,446.75 Z" fill="#15a423" stroke="#0b5211" stroke-width="0.5" stroke-linejoin="round"/>
<path d="M541.65,446.62 L547.35,449.04 L543.11,450.16 L537.42,447.72 Z" fill="#13a225" stroke="#095113" stroke-width="0.5" stroke-linejoin="round"/>
<path d="M505.89,442.97 L511.81,444.43 L507.84,445.90 L501.94,444.42 Z" fill="#20aa1b" stroke="#10550d" stroke-width="0.5" stroke-linejoin="round"/>
<path d="M551.66,448.07 L557.30,450.72 L552.97,451.71 L547.35,449.04 Z" fill="#0fa028" stroke="#075014" stroke-width="0.5" stroke-linejoin="round"/>
<path d="M561.69,449.89 L567.27,452.77 L562.87,453.62 L557.30,450.72 Z" fill="#0c9e31" stroke="#064f18" stroke-width="0.5" stroke-linejoin="round"/>
<path d="M515.85,443.10 L521.72,444.80 L517.67,446.15 L511.81,444.43 Z" fill="#20aa1a" stroke="#10550d" stroke-width="0.5" stroke-linejoin="round"/>
<path d="M571.74,452.06 L577.26,455.17 L572.78,455.89 L567.27,452.77 Z" fill="#089b3b" stroke="#044e1d" stroke-width="0.5" stroke-linejoin="round"/>
<path d="M525.85,443.59 L531.67,445.53 L527.53,446.75 L521.72,444.80 Z" fill="#20aa1a" stroke="#10550d" stroke-width="0.5" stroke-linejoin="round"/>
<path d="M581.81,454.61 L587.27,457.94 L582.71,458.52 L577.26,455.17 Z" fill="#039847" stroke="#024c23" stroke-width="0.5" stroke-linejoin="round"/>
<path d="M535.88,444.45 L541.65,446.62 L537.42,447.72 L531.67,445.53 Z" fill="#1ea91c" stroke="#0f550e" stroke-width="0.5" stroke-linejoin="round"/>
<path d="M499.90,441.78 L505.89,442.97 L501.94,444.42 L495.97,443.20 Z" fill="#28af14" stroke="#14570a" stroke-width="0.5" stroke-linejoin="round"/>
<path d="M545.94,445.67 L551.66,448.07 L547.35,449.04 L541.65,446.62 Z" fill="#1ba71e" stroke="#0d540f" stroke-width="0.5" stroke-linejoin="round"/>
<path d="M509.91,441.66 L515.85,443.10 L511.81,444.43 L505.89,442.97 Z" fill="#2cb114" stroke="#16580a" stroke-width="0.5" stroke-linejoin="round"/>
<path d="M556.03,447.25 L561.69,449.89 L557.30,450.72 L551.66,448.07 Z" fill="#17a522" stroke="#0b5211" stroke-width="0.5" stroke-linejoin="round"/>
<path d="M566.14,449.20 L571.74,452.06 L567.27,452.77 L561.69,449.89 Z" fill="#11a126" stroke="#095113" stroke-width="0.5" stroke-linejoin="round"/>
<path d="M519.95,441.92 L525.85,443.59 L521.72,444.80 L515.85,443.10 Z" fill="#2db114" stroke="#16590a" stroke-width="0.5" stroke-linejoin="round"/>
<path d="M576.28,451.52 L581.81,454.61 L577.26,455.17 L571.74,452.06 Z" fill="#0c9e2f" stroke="#064f18" stroke-width="0.5" stroke-linejoin="round"/>
<path d="M530.04,442.53 L535.88,444.45 L531.67,445.53 L525.85,443.59 Z" fill="#2ab014" stroke="#15580a" stroke-width="0.5" stroke-linejoin="round"/>
<path d="M586.43,454.20 L591.90,457.52 L587.27,457.94 L581.81,454.61 Z" fill="#079b3c" stroke="#044d1e" stroke-width="0.5" stroke-linejoin="round"/>
<path d="M493.85,440.85 L499.90,441.78 L495.97,443.20 L489.94,442.25 Z" fill="#3db912" stroke="#1f5c09" stroke-width="0.5" stroke-linejoin="round"/>
<path d="M540.15,443.51 L545.94,445.67 L541.65,446.62 L535.88,444.45 Z" fill="#26ae15" stroke="#13570b" stroke-width="0.5" stroke-linejoin="round"/>
<path d="M503.90,440.50 L509.91,441.66 L505.89,442.97 L499.90,441.78 Z" fill="#44bc11" stroke="#225e09" stroke-width="0.5" stroke-linejoin="round"/>
<path d="M550.30,444.86 L556.03,447.25 L551.66,448.07 L545.94,445.67 Z" fill="#23ac18" stroke="#11560c" stroke-width="0.5" stroke-linejoin="round"/>
<path d="M560.47,446.58 L566.14,449.20 L561.69,449.89 L556.03,447.25 Z" fill="#1ea91c" stroke="#0f550e" stroke-width="0.5" stroke-linejoin="round"/>
<path d="M513.99,440.51 L519.95,441.92 L515.85,443.10 L509.91,441.66 Z" fill="#47bd11" stroke="#245f09" stroke-width="0.5" stroke-linejoin="round"/>
<path d="M570.66,448.67 L576.28,451.52 L571.74,452.06 L566.14,449.20 Z" fill="#18a521" stroke="#0c5310" stroke-width="0.5" stroke-linejoin="round"/>
<path d="M524.12,440.88 L530.04,442.53 L525.85,443.59 L519.95,441.92 Z" fill="#47bd11" stroke="#235f09" stroke-width="0.5" stroke-linejoin="round"/>
<path d="M487.72,440.20 L493.85,440.85 L489.94,442.25 L483.84,441.57 Z" fill="#50c110" stroke="#286108" stroke-width="0.5" stroke-linejoin="round"/>
<path d="M580.88,451.13 L586.43,454.20 L581.81,454.61 L576.28,451.52 Z" fill="#11a126" stroke="#085113" stroke-width="0.5" stroke-linejoin="round"/>
<path d="M591.11,453.95 L596.59,457.25 L591.90,457.52 L586.43,454.20 Z" fill="#0b9d32" stroke="#064f19" stroke-width="0.5" stroke-linejoin="round"/>
<path d="M534.29,441.62 L540.15,443.51 L535.88,444.45 L530.04,442.53 Z" fill="#43bb12" stroke="#215e09" stroke-width="0.5" stroke-linejoin="round"/>
<path d="M497.82,439.60 L503.90,440.50 L499.90,441.78 L493.85,440.85 Z" fill="#5ac60f" stroke="#2d6308" stroke-width="0.5" stroke-linejoin="round"/>
<path d="M544.49,442.74 L550.30,444.86 L545.94,445.67 L540.15,443.51 Z" fill="#3ab712" stroke="#1d5c09" stroke-width="0.5" stroke-linejoin="round"/>
<path d="M507.95,439.37 L513.99,440.51 L509.91,441.66 L503.90,440.50 Z" fill="#5fc80f" stroke="#306408" stroke-width="0.5" stroke-linejoin="round"/>
<path d="M554.72,444.22 L560.47,446.58 L556.03,447.25 L550.30,444.86 Z" fill="#2eb213" stroke="#17590a" stroke-width="0.5" stroke-linejoin="round"/>
<path d="M564.97,446.07 L570.66,448.67 L566.14,449.20 L560.47,446.58 Z" fill="#25ad16" stroke="#12570b" stroke-width="0.5" stroke-linejoin="round"/>
<path d="M481.53,439.84 L487.72,440.20 L483.84,441.57 L477.68,441.17 Z" fill="#60c80f" stroke="#306408" stroke-width="0.5" stroke-linejoin="round"/>
<path d="M518.13,439.50 L524.12,440.88 L519.95,441.92 L513.99,440.51 Z" fill="#61c90f" stroke="#316408" stroke-width="0.5" stroke-linejoin="round"/>
<path d="M575.25,448.30 L580.88,451.13 L576.28,451.52 L570.66,448.67 Z" fill="#1fa91c" stroke="#0f550e" stroke-width="0.5" stroke-linejoin="round"/>
<path d="M528.35,440.00 L534.29,441.62 L530.04,442.53 L524.12,440.88 Z" fill="#5fc80f" stroke="#306408" stroke-width="0.5" stroke-linejoin="round"/>
<path d="M491.67,438.99 L497.82,439.60 L493.85,440.85 L487.72,440.20 Z" fill="#6ccd10" stroke="#366608" stroke-width="0.5" stroke-linejoin="round"/>
<path d="M585.55,450.90 L591.11,453.95 L586.43,454.20 L580.88,451.13 Z" fill="#17a522" stroke="#0b5211" stroke-width="0.5" stroke-linejoin="round"/>
<path d="M595.86,453.87 L601.35,457.15 L596.59,457.25 L591.11,453.95 Z" fill="#0ea029" stroke="#075015" stroke-width="0.5" stroke-linejoin="round"/>
<path d="M538.61,440.87 L544.49,442.74 L540.15,443.51 L534.29,441.62 Z" fill="#5ac60f" stroke="#2d6308" stroke-width="0.5" stroke-linejoin="round"/>
<path d="M501.85,438.50 L507.95,439.37 L503.90,440.50 L497.82,439.60 Z" fill="#74d011" stroke="#3a6808" stroke-width="0.5" stroke-linejoin="round"/>
<path d="M548.89,442.11 L554.72,444.22 L550.30,444.86 L544.49,442.74 Z" fill="#50c110" stroke="#286108" stroke-width="0.5" stroke-linejoin="round"/>
<path d="M475.28,439.75 L481.53,439.84 L477.68,441.17 L471.45,441.05 Z" fill="#6dcd10" stroke="#366608" stroke-width="0.5" stroke-linejoin="round"/>
<path d="M512.08,438.39 L518.13,439.50 L513.99,440.51 L507.95,439.37 Z" fill="#79d111" stroke="#3c6909" stroke-width="0.5" stroke-linejoin="round"/>
<path d="M559.21,443.73 L564.97,446.07 L560.47,446.58 L554.72,444.22 Z" fill="#43bb12" stroke="#215e09" stroke-width="0.5" stroke-linejoin="round"/>
<path d="M569.55,445.72 L575.25,448.30 L570.66,448.67 L564.97,446.07 Z" fill="#32b313" stroke="#195a0a" stroke-width="0.5" stroke-linejoin="round"/>
<path d="M485.45,438.65 L491.67,438.99 L487.72,440.20 L481.53,439.84 Z" fill="#7bd212" stroke="#3e6909" stroke-width="0.5" stroke-linejoin="round"/>
<path d="M522.35,438.64 L528.35,440.00 L524.12,440.88 L518.13,439.50 Z" fill="#79d211" stroke="#3d6909" stroke-width="0.5" stroke-linejoin="round"/>
<path d="M579.91,448.09 L585.55,450.90 L580.88,451.13 L575.25,448.30 Z" fill="#24ad17" stroke="#12560b" stroke-width="0.5" stroke-linejoin="round"/>
<path d="M532.65,439.27 L538.61,440.87 L534.29,441.62 L528.35,440.00 Z" fill="#76d011" stroke="#3b6809" stroke-width="0.5" stroke-linejoin="round"/>
<path d="M590.29,450.83 L595.86,453.87 L591.11,453.95 L585.55,450.90 Z" fill="#1ca81d" stroke="#0e540f" stroke-width="0.5" stroke-linejoin="round"/>
<path d="M495.68,437.92 L501.85,438.50 L497.82,439.60 L491.67,438.99 Z" fill="#86d613" stroke="#436b09" stroke-width="0.5" stroke-linejoin="round"/>
<path d="M600.68,453.95 L606.18,457.21 L601.35,457.15 L595.86,453.87 Z" fill="#13a225" stroke="#0a5112" stroke-width="0.5" stroke-linejoin="round"/>
<path d="M543.00,440.27 L548.89,442.11 L544.49,442.74 L538.61,440.87 Z" fill="#6fce10" stroke="#386708" stroke-width="0.5" stroke-linejoin="round"/>
<path d="M468.95,439.96 L475.28,439.75 L471.45,441.05 L465.15,441.22 Z" fill="#76d011" stroke="#3b6809" stroke-width="0.5" stroke-linejoin="round"/>
<path d="M505.95,437.55 L512.08,438.39 L507.95,439.37 L501.85,438.50 Z" fill="#8dd913" stroke="#466c0a" stroke-width="0.5" stroke-linejoin="round"/>
<path d="M553.37,441.65 L559.21,443.73 L554.72,444.22 L548.89,442.11 Z" fill="#64ca0f" stroke="#326508" stroke-width="0.5" stroke-linejoin="round"/>
<path d="M479.17,438.61 L485.45,438.65 L481.53,439.84 L475.28,439.75 Z" fill="#87d713" stroke="#446b09" stroke-width="0.5" stroke-linejoin="round"/>
<path d="M516.27,437.56 L522.35,438.64 L518.13,439.50 L512.08,438.39 Z" fill="#90da13" stroke="#486d0a" stroke-width="0.5" stroke-linejoin="round"/>
<path d="M563.77,443.40 L569.55,445.72 L564.97,446.07 L559.21,443.73 Z" fill="#56c410" stroke="#2b6208" stroke-width="0.5" stroke-linejoin="round"/>
<path d="M574.19,445.54 L579.91,448.09 L575.25,448.30 L569.55,445.72 Z" fill="#43bb12" stroke="#225e09" stroke-width="0.5" stroke-linejoin="round"/>
<path d="M526.63,437.94 L532.65,439.27 L528.35,440.00 L522.35,438.64 Z" fill="#8fda13" stroke="#486d0a" stroke-width="0.5" stroke-linejoin="round"/>
<path d="M489.43,437.62 L495.68,437.92 L491.67,438.99 L485.45,438.65 Z" fill="#95dc14" stroke="#4a6e0a" stroke-width="0.5" stroke-linejoin="round"/>
<path d="M584.64,448.05 L590.29,450.83 L585.55,450.90 L579.91,448.09 Z" fill="#2db114" stroke="#17590a" stroke-width="0.5" stroke-linejoin="round"/>
<path d="M462.57,440.46 L468.95,439.96 L465.15,441.22 L458.80,441.68 Z" fill="#7dd312" stroke="#3f6909" stroke-width="0.5" stroke-linejoin="round"/>
<path d="M537.02,438.70 L543.00,440.27 L538.61,440.87 L532.65,439.27 Z" fill="#8bd813" stroke="#456c09" stroke-width="0.5" stroke-linejoin="round"/>
<path d="M595.10,450.94 L600.68,453.95 L595.86,453.87 L590.29,450.83 Z" fill="#21ab19" stroke="#11550d" stroke-width="0.5" stroke-linejoin="round"/>
<path d="M499.75,437.00 L505.95,437.55 L501.85,438.50 L495.68,437.92 Z" fill="#a0e013" stroke="#507009" stroke-width="0.5" stroke-linejoin="round"/>
<path d="M605.57,454.21 L611.09,457.45 L606.18,457.21 L600.68,453.95 Z" fill="#18a521" stroke="#0c5311" stroke-width="0.5" stroke-linejoin="round"/>
<path d="M547.45,439.83 L553.37,441.65 L548.89,442.11 L543.00,440.27 Z" fill="#83d512" stroke="#416a09" stroke-width="0.5" stroke-linejoin="round"/>
<path d="M472.82,438.85 L479.17,438.61 L475.28,439.75 L468.95,439.96 Z" fill="#91da14" stroke="#486d0a" stroke-width="0.5" stroke-linejoin="round"/>
<path d="M510.12,436.76 L516.27,437.56 L512.08,438.39 L505.95,437.55 Z" fill="#a7e211" stroke="#547109" stroke-width="0.5" stroke-linejoin="round"/>
<path d="M557.91,441.35 L563.77,443.40 L559.21,443.73 L553.37,441.65 Z" fill="#77d111" stroke="#3b6809" stroke-width="0.5" stroke-linejoin="round"/>
<path d="M483.12,437.61 L489.43,437.62 L485.45,438.65 L479.17,438.61 Z" fill="#a3e112" stroke="#527009" stroke-width="0.5" stroke-linejoin="round"/>
<path d="M568.40,443.24 L574.19,445.54 L569.55,445.72 L563.77,443.40 Z" fill="#67cb10" stroke="#336508" stroke-width="0.5" stroke-linejoin="round"/>
<path d="M520.52,436.89 L526.63,437.94 L522.35,438.64 L516.27,437.56 Z" fill="#aae311" stroke="#557209" stroke-width="0.5" stroke-linejoin="round"/>
<path d="M456.12,441.27 L462.57,440.46 L458.80,441.68 L452.38,442.44 Z" fill="#81d412" stroke="#416a09" stroke-width="0.5" stroke-linejoin="round"/>
<path d="M578.91,445.52 L584.64,448.05 L579.91,448.09 L574.19,445.54 Z" fill="#53c310" stroke="#2a6108" stroke-width="0.5" stroke-linejoin="round"/>
<path d="M530.97,437.40 L537.02,438.70 L532.65,439.27 L526.63,437.94 Z" fill="#a7e211" stroke="#547109" stroke-width="0.5" stroke-linejoin="round"/>
<path d="M493.48,436.74 L499.75,437.00 L495.68,437.92 L489.43,437.62 Z" fill="#b2e610" stroke="#597308" stroke-width="0.5" stroke-linejoin="round"/>
<path d="M589.43,448.18 L595.10,450.94 L590.29,450.83 L584.64,448.05 Z" fill="#3cb812" stroke="#1e5c09" stroke-width="0.5" stroke-linejoin="round"/>
<path d="M466.40,439.40 L472.82,438.85 L468.95,439.96 L462.57,440.46 Z" fill="#97dd14" stroke="#4c6e0a" stroke-width="0.5" stroke-linejoin="round"/>
<path d="M599.98,451.22 L605.57,454.21 L600.68,453.95 L595.10,450.94 Z" fill="#26ae16" stroke="#13570b" stroke-width="0.5" stroke-linejoin="round"/>
<path d="M541.46,438.29 L547.45,439.83 L543.00,440.27 L537.02,438.70 Z" fill="#a0e013" stroke="#507009" stroke-width="0.5" stroke-linejoin="round"/>
<path d="M503.89,436.25 L510.12,436.76 L505.95,437.55 L499.75,437.00 Z" fill="#bdea0e" stroke="#5e7507" stroke-width="0.5" stroke-linejoin="round"/>
<path d="M610.53,454.64 L616.06,457.85 L611.09,457.45 L605.57,454.21 Z" fill="#1ba71e" stroke="#0e540f" stroke-width="0.5" stroke-linejoin="round"/>
<path d="M551.97,439.56 L557.91,441.35 L553.37,441.65 L547.45,439.83 Z" fill="#95dc14" stroke="#4a6e0a" stroke-width="0.5" stroke-linejoin="round"/>
<path d="M476.75,437.90 L483.12,437.61 L479.17,438.61 L472.82,438.85 Z" fill="#aee510" stroke="#577208" stroke-width="0.5" stroke-linejoin="round"/>
<path d="M449.60,442.37 L456.12,441.27 L452.38,442.44 L445.89,443.50 Z" fill="#82d512" stroke="#416a09" stroke-width="0.5" stroke-linejoin="round"/>
<path d="M514.35,436.13 L520.52,436.89 L516.27,437.56 L510.12,436.76 Z" fill="#c2ec0e" stroke="#617607" stroke-width="0.5" stroke-linejoin="round"/>
<path d="M562.52,441.22 L568.40,443.24 L563.77,443.40 L557.91,441.35 Z" fill="#87d713" stroke="#446b09" stroke-width="0.5" stroke-linejoin="round"/>
<path d="M573.09,443.25 L578.91,445.52 L574.19,445.54 L568.40,443.24 Z" fill="#76d011" stroke="#3b6809" stroke-width="0.5" stroke-linejoin="round"/>
<path d="M487.15,436.78 L493.48,436.74 L489.43,437.62 L483.12,437.61 Z" fill="#c1eb0e" stroke="#607607" stroke-width="0.5" stroke-linejoin="round"/>
<path d="M524.85,436.39 L530.97,437.40 L526.63,437.94 L520.52,436.89 Z" fill="#c3ec0d" stroke="#617607" stroke-width="0.5" stroke-linejoin="round"/>
<path d="M459.92,440.25 L466.40,439.40 L462.57,440.46 L456.12,441.27 Z" fill="#9cde13" stroke="#4e6f0a" stroke-width="0.5" stroke-linejoin="round"/>
<path d="M583.69,445.67 L589.43,448.18 L584.64,448.05 L578.91,445.52 Z" fill="#61c90f" stroke="#316408" stroke-width="0.5" stroke-linejoin="round"/>
<path d="M535.39,437.03 L541.46,438.29 L537.02,438.70 L530.97,437.40 Z" fill="#bfeb0e" stroke="#5f7507" stroke-width="0.5" stroke-linejoin="round"/>
<path d="M497.60,436.03 L503.89,436.25 L499.75,437.00 L493.48,436.74 Z" fill="#cef00c" stroke="#677806" stroke-width="0.5" stroke-linejoin="round"/>
<path d="M594.30,448.48 L599.98,451.22 L595.10,450.94 L589.43,448.18 Z" fill="#49be11" stroke="#245f09" stroke-width="0.5" stroke-linejoin="round"/>
<path d="M604.93,451.67 L610.53,454.64 L605.57,454.21 L599.98,451.22 Z" fill="#2cb114" stroke="#16580a" stroke-width="0.5" stroke-linejoin="round"/>
<path d="M470.30,438.49 L476.75,437.90 L472.82,438.85 L466.40,439.40 Z" fill="#b6e80f" stroke="#5b7408" stroke-width="0.5" stroke-linejoin="round"/>
<path d="M545.96,438.05 L551.97,439.56 L547.45,439.83 L541.46,438.29 Z" fill="#b6e80f" stroke="#5b7408" stroke-width="0.5" stroke-linejoin="round"/>
<path d="M443.02,443.79 L449.60,442.37 L445.89,443.50 L439.35,444.87 Z" fill="#80d412" stroke="#406a09" stroke-width="0.5" stroke-linejoin="round"/>
<path d="M615.57,455.25 L621.10,458.44 L616.06,457.85 L610.53,454.64 Z" fill="#1fa91b" stroke="#0f550e" stroke-width="0.5" stroke-linejoin="round"/>
<path d="M508.10,435.65 L514.35,436.13 L510.12,436.76 L503.89,436.25 Z" fill="#d5f10c" stroke="#6a7906" stroke-width="0.5" stroke-linejoin="round"/>
<path d="M556.57,439.46 L562.52,441.22 L557.91,441.35 L551.97,439.56 Z" fill="#a9e311" stroke="#547109" stroke-width="0.5" stroke-linejoin="round"/>
<path d="M480.74,437.11 L487.15,436.78 L483.12,437.61 L476.75,437.90 Z" fill="#cbef0c" stroke="#667806" stroke-width="0.5" stroke-linejoin="round"/>
<path d="M518.65,435.66 L524.85,436.39 L520.52,436.89 L514.35,436.13 Z" fill="#d8f20c" stroke="#6c7906" stroke-width="0.5" stroke-linejoin="round"/>
<path d="M453.37,441.41 L459.92,440.25 L456.12,441.27 L449.60,442.37 Z" fill="#9cde13" stroke="#4e6f0a" stroke-width="0.5" stroke-linejoin="round"/>
<path d="M567.20,441.26 L573.09,443.25 L568.40,443.24 L562.52,441.22 Z" fill="#96dc14" stroke="#4b6e0a" stroke-width="0.5" stroke-linejoin="round"/>
<path d="M577.86,443.44 L583.69,445.67 L578.91,445.52 L573.09,443.25 Z" fill="#84d512" stroke="#426b09" stroke-width="0.5" stroke-linejoin="round"/>
<path d="M491.24,436.10 L497.60,436.03 L493.48,436.74 L487.15,436.78 Z" fill="#d9f20c" stroke="#6c7906" stroke-width="0.5" stroke-linejoin="round"/>
<path d="M529.24,436.05 L535.39,437.03 L530.97,437.40 L524.85,436.39 Z" fill="#d7f20c" stroke="#6c7906" stroke-width="0.5" stroke-linejoin="round"/>
<path d="M588.54,446.01 L594.30,448.48 L589.43,448.18 L583.69,445.67 Z" fill="#6ecd10" stroke="#376708" stroke-width="0.5" stroke-linejoin="round"/>
<path d="M463.79,439.39 L470.30,438.49 L466.40,439.40 L459.92,440.25 Z" fill="#b9e90f" stroke="#5d7407" stroke-width="0.5" stroke-linejoin="round"/>
<path d="M436.38,445.52 L443.02,443.79 L439.35,444.87 L432.74,446.54 Z" fill="#7bd212" stroke="#3d6909" stroke-width="0.5" stroke-linejoin="round"/>
<path d="M539.87,436.83 L545.96,438.05 L541.46,438.29 L535.39,437.03 Z" fill="#d3f10c" stroke="#697806" stroke-width="0.5" stroke-linejoin="round"/>
<path d="M599.24,448.96 L604.93,451.67 L599.98,451.22 L594.30,448.48 Z" fill="#54c310" stroke="#2a6108" stroke-width="0.5" stroke-linejoin="round"/>
<path d="M501.79,435.47 L508.10,435.65 L503.89,436.25 L497.60,436.03 Z" fill="#e2f30c" stroke="#717a06" stroke-width="0.5" stroke-linejoin="round"/>
<path d="M609.95,452.31 L615.57,455.25 L610.53,454.64 L604.93,451.67 Z" fill="#36b513" stroke="#1b5b09" stroke-width="0.5" stroke-linejoin="round"/>
<path d="M550.54,437.99 L556.57,439.46 L551.97,439.56 L545.96,438.05 Z" fill="#caef0c" stroke="#657706" stroke-width="0.5" stroke-linejoin="round"/>
<path d="M474.27,437.75 L480.74,437.11 L476.75,437.90 L470.30,438.49 Z" fill="#d1f10c" stroke="#687806" stroke-width="0.5" stroke-linejoin="round"/>
<path d="M620.67,456.04 L626.21,459.21 L621.10,458.44 L615.57,455.25 Z" fill="#22ab19" stroke="#11560d" stroke-width="0.5" stroke-linejoin="round"/>
<path d="M446.77,442.87 L453.37,441.41 L449.60,442.37 L443.02,443.79 Z" fill="#99dd14" stroke="#4d6f0a" stroke-width="0.5" stroke-linejoin="round"/>
<path d="M512.38,435.22 L518.65,435.66 L514.35,436.13 L508.10,435.65 Z" fill="#e8f40c" stroke="#747a06" stroke-width="0.5" stroke-linejoin="round"/>
<path d="M561.23,439.54 L567.20,441.26 L562.52,441.22 L556.57,439.46 Z" fill="#bbe90f" stroke="#5d7507" stroke-width="0.5" stroke-linejoin="round"/>
<path d="M484.81,436.48 L491.24,436.10 L487.15,436.78 L480.74,437.11 Z" fill="#e1f30c" stroke="#707906" stroke-width="0.5" stroke-linejoin="round"/>
<path d="M523.03,435.36 L529.24,436.05 L524.85,436.39 L518.65,435.66 Z" fill="#eaf40c" stroke="#757a06" stroke-width="0.5" stroke-linejoin="round"/>
<path d="M571.96,441.47 L577.86,443.44 L573.09,443.25 L567.20,441.26 Z" fill="#a7e212" stroke="#537109" stroke-width="0.5" stroke-linejoin="round"/>
<path d="M457.21,440.60 L463.79,439.39 L459.92,440.25 L453.37,441.41 Z" fill="#b9e90f" stroke="#5d7407" stroke-width="0.5" stroke-linejoin="round"/>
<path d="M582.70,443.80 L588.54,446.01 L583.69,445.67 L577.86,443.44 Z" fill="#90da13" stroke="#486d0a" stroke-width="0.5" stroke-linejoin="round"/>
<path d="M533.71,435.88 L539.87,436.83 L535.39,437.03 L529.24,436.05 Z" fill="#e8f40c" stroke="#747a06" stroke-width="0.5" stroke-linejoin="round"/>
<path d="M495.40,435.59 L501.79,435.47 L497.60,436.03 L491.24,436.10 Z" fill="#edf50c" stroke="#767a06" stroke-width="0.5" stroke-linejoin="round"/>
<path d="M593.47,446.52 L599.24,448.96 L594.30,448.48 L588.54,446.01 Z" fill="#78d111" stroke="#3c6909" stroke-width="0.5" stroke-linejoin="round"/>
<path d="M467.73,438.69 L474.27,437.75 L470.30,438.49 L463.79,439.39 Z" fill="#d3f10c" stroke="#6a7806" stroke-width="0.5" stroke-linejoin="round"/>
<path d="M440.09,444.66 L446.77,442.87 L443.02,443.79 L436.38,445.52 Z" fill="#93db14" stroke="#496d0a" stroke-width="0.5" stroke-linejoin="round"/>
<path d="M604.25,449.63 L609.95,452.31 L604.93,451.67 L599.24,448.96 Z" fill="#5dc70f" stroke="#2f6408" stroke-width="0.5" stroke-linejoin="round"/>
<path d="M544.43,436.79 L550.54,437.99 L545.96,438.05 L539.87,436.83 Z" fill="#e2f30c" stroke="#717a06" stroke-width="0.5" stroke-linejoin="round"/>
<path d="M506.04,435.09 L512.38,435.22 L508.10,435.65 L501.79,435.47 Z" fill="#f0f20e" stroke="#787907" stroke-width="0.5" stroke-linejoin="round"/>
<path d="M615.05,453.13 L620.67,456.04 L615.57,455.25 L609.95,452.31 Z" fill="#3eb912" stroke="#1f5c09" stroke-width="0.5" stroke-linejoin="round"/>
<path d="M555.19,438.09 L561.23,439.54 L556.57,439.46 L550.54,437.99 Z" fill="#d8f20c" stroke="#6c7906" stroke-width="0.5" stroke-linejoin="round"/>
<path d="M625.85,457.02 L631.40,460.16 L626.21,459.21 L620.67,456.04 Z" fill="#24ac17" stroke="#12560c" stroke-width="0.5" stroke-linejoin="round"/>
<path d="M478.30,437.16 L484.81,436.48 L480.74,437.11 L474.27,437.75 Z" fill="#e6f40c" stroke="#737a06" stroke-width="0.5" stroke-linejoin="round"/>
<path d="M450.57,442.12 L457.21,440.60 L453.37,441.41 L446.77,442.87 Z" fill="#b6e80f" stroke="#5b7408" stroke-width="0.5" stroke-linejoin="round"/>
<path d="M516.73,434.96 L523.03,435.36 L518.65,435.66 L512.38,435.22 Z" fill="#f1f10f" stroke="#797807" stroke-width="0.5" stroke-linejoin="round"/>
<path d="M565.97,439.78 L571.96,441.47 L567.20,441.26 L561.23,439.54 Z" fill="#cbef0c" stroke="#657806" stroke-width="0.5" stroke-linejoin="round"/>
<path d="M488.94,436.01 L495.40,435.59 L491.24,436.10 L484.81,436.48 Z" fill="#f0f30e" stroke="#787907" stroke-width="0.5" stroke-linejoin="round"/>
<path d="M576.78,441.87 L582.70,443.80 L577.86,443.44 L571.96,441.47 Z" fill="#b5e70f" stroke="#5b7408" stroke-width="0.5" stroke-linejoin="round"/>
<path d="M527.47,435.23 L533.71,435.88 L529.24,436.05 L523.03,435.36 Z" fill="#f2f00f" stroke="#797807" stroke-width="0.5" stroke-linejoin="round"/>
<path d="M461.12,439.95 L467.73,438.69 L463.79,439.39 L457.21,440.60 Z" fill="#d3f10c" stroke="#697806" stroke-width="0.5" stroke-linejoin="round"/>
<path d="M587.62,444.35 L593.47,446.52 L588.54,446.01 L582.70,443.80 Z" fill="#9bde13" stroke="#4d6f0a" stroke-width="0.5" stroke-linejoin="round"/>
<path d="M538.24,435.89 L544.43,436.79 L539.87,436.83 L533.71,435.88 Z" fill="#f1f20e" stroke="#787907" stroke-width="0.5" stroke-linejoin="round"/>
<path d="M499.62,435.25 L506.04,435.09 L501.79,435.47 L495.40,435.59 Z" fill="#f3ee10" stroke="#7a7708" stroke-width="0.5" stroke-linejoin="round"/>
<path d="M598.47,447.22 L604.25,449.63 L599.24,448.96 L593.47,446.52 Z" fill="#81d412" stroke="#416a09" stroke-width="0.5" stroke-linejoin="round"/>
<path d="M471.73,438.16 L478.30,437.16 L474.27,437.75 L467.73,438.69 Z" fill="#e8f40c" stroke="#747a06" stroke-width="0.5" stroke-linejoin="round"/>
<path d="M443.87,443.96 L450.57,442.12 L446.77,442.87 L440.09,444.66 Z" fill="#aee510" stroke="#577208" stroke-width="0.5" stroke-linejoin="round"/>
<path d="M609.34,450.48 L615.05,453.13 L609.95,452.31 L604.25,449.63 Z" fill="#65ca10" stroke="#326508" stroke-width="0.5" stroke-linejoin="round"/>
<path d="M549.06,436.94 L555.19,438.09 L550.54,437.99 L544.43,436.79 Z" fill="#eef40c" stroke="#777a06" stroke-width="0.5" stroke-linejoin="round"/>
<path d="M620.22,454.14 L625.85,457.02 L620.67,456.04 L615.05,453.13 Z" fill="#44bc11" stroke="#225e09" stroke-width="0.5" stroke-linejoin="round"/>
<path d="M510.36,434.87 L516.73,434.96 L512.38,435.22 L506.04,435.09 Z" fill="#f5ec12" stroke="#7b7609" stroke-width="0.5" stroke-linejoin="round"/>
<path d="M631.11,458.19 L636.66,461.30 L631.40,460.16 L625.85,457.02 Z" fill="#25ad16" stroke="#13570b" stroke-width="0.5" stroke-linejoin="round"/>
<path d="M559.90,438.38 L565.97,439.78 L561.23,439.54 L555.19,438.09 Z" fill="#e5f40c" stroke="#727a06" stroke-width="0.5" stroke-linejoin="round"/>
<path d="M482.41,436.75 L488.94,436.01 L484.81,436.48 L478.30,437.16 Z" fill="#f1f10f" stroke="#797807" stroke-width="0.5" stroke-linejoin="round"/>
<path d="M454.45,441.53 L461.12,439.95 L457.21,440.60 L450.57,442.12 Z" fill="#cff00c" stroke="#687806" stroke-width="0.5" stroke-linejoin="round"/>
<path d="M521.15,434.88 L527.47,435.23 L523.03,435.36 L516.73,434.96 Z" fill="#f6ea13" stroke="#7b7509" stroke-width="0.5" stroke-linejoin="round"/>
<path d="M570.78,440.22 L576.78,441.87 L571.96,441.47 L565.97,439.78 Z" fill="#d6f10c" stroke="#6b7906" stroke-width="0.5" stroke-linejoin="round"/>
<path d="M581.68,442.45 L587.62,444.35 L582.70,443.80 L576.78,441.87 Z" fill="#c1ec0e" stroke="#617607" stroke-width="0.5" stroke-linejoin="round"/>
<path d="M493.14,435.72 L499.62,435.25 L495.40,435.59 L488.94,436.01 Z" fill="#f5ec12" stroke="#7b7609" stroke-width="0.5" stroke-linejoin="round"/>
<path d="M531.98,435.28 L538.24,435.89 L533.71,435.88 L527.47,435.23 Z" fill="#f6eb12" stroke="#7b7509" stroke-width="0.5" stroke-linejoin="round"/>
<path d="M465.09,439.47 L471.73,438.16 L467.73,438.69 L461.12,439.95 Z" fill="#e7f40c" stroke="#737a06" stroke-width="0.5" stroke-linejoin="round"/>
<path d="M592.61,445.08 L598.47,447.22 L593.47,446.52 L587.62,444.35 Z" fill="#a6e212" stroke="#537109" stroke-width="0.5" stroke-linejoin="round"/>
<path d="M542.85,436.07 L549.06,436.94 L544.43,436.79 L538.24,435.89 Z" fill="#f5ec11" stroke="#7a7609" stroke-width="0.5" stroke-linejoin="round"/>
<path d="M603.55,448.10 L609.34,450.48 L604.25,449.63 L598.47,447.22 Z" fill="#88d713" stroke="#446c09" stroke-width="0.5" stroke-linejoin="round"/>
<path d="M503.92,435.08 L510.36,434.87 L506.04,435.09 L499.62,435.25 Z" fill="#f8e814" stroke="#7c740a" stroke-width="0.5" stroke-linejoin="round"/>
<path d="M614.50,451.52 L620.22,454.14 L615.05,453.13 L609.34,450.48 Z" fill="#6bcc10" stroke="#356608" stroke-width="0.5" stroke-linejoin="round"/>
<path d="M475.81,437.79 L482.41,436.75 L478.30,437.16 L471.73,438.16 Z" fill="#f2f00f" stroke="#797808" stroke-width="0.5" stroke-linejoin="round"/>
<path d="M553.76,437.26 L559.90,438.38 L555.19,438.09 L549.06,436.94 Z" fill="#f2f00f" stroke="#797808" stroke-width="0.5" stroke-linejoin="round"/>
<path d="M447.71,443.43 L454.45,441.53 L450.57,442.12 L443.87,443.96 Z" fill="#c8ee0d" stroke="#647706" stroke-width="0.5" stroke-linejoin="round"/>
<path d="M625.46,455.34 L631.11,458.19 L625.85,457.02 L620.22,454.14 Z" fill="#49be11" stroke="#245f09" stroke-width="0.5" stroke-linejoin="round"/>
<path d="M514.76,434.83 L521.15,434.88 L516.73,434.96 L510.36,434.87 Z" fill="#f8e415" stroke="#7c720a" stroke-width="0.5" stroke-linejoin="round"/>
<path d="M636.43,459.56 L641.99,462.63 L636.66,461.30 L631.11,458.19 Z" fill="#27ae15" stroke="#13570b" stroke-width="0.5" stroke-linejoin="round"/>
<path d="M564.70,438.85 L570.78,440.22 L565.97,439.78 L559.90,438.38 Z" fill="#eef40c" stroke="#777a06" stroke-width="0.5" stroke-linejoin="round"/>
<path d="M486.58,436.50 L493.14,435.72 L488.94,436.01 L482.41,436.75 Z" fill="#f7ea13" stroke="#7b7509" stroke-width="0.5" stroke-linejoin="round"/>
<path d="M525.64,434.97 L531.98,435.28 L527.47,435.23 L521.15,434.88 Z" fill="#f8e315" stroke="#7c720b" stroke-width="0.5" stroke-linejoin="round"/>
<path d="M458.39,441.10 L465.09,439.47 L461.12,439.95 L454.45,441.53 Z" fill="#e3f30c" stroke="#717a06" stroke-width="0.5" stroke-linejoin="round"/>
<path d="M575.66,440.83 L581.68,442.45 L576.78,441.87 L570.78,440.22 Z" fill="#dff30c" stroke="#707906" stroke-width="0.5" stroke-linejoin="round"/>
<path d="M586.66,443.22 L592.61,445.08 L587.62,444.35 L581.68,442.45 Z" fill="#cbef0c" stroke="#667806" stroke-width="0.5" stroke-linejoin="round"/>
<path d="M497.41,435.60 L503.92,435.08 L499.62,435.25 L493.14,435.72 Z" fill="#f8e415" stroke="#7c720b" stroke-width="0.5" stroke-linejoin="round"/>
<path d="M536.57,435.51 L542.85,436.07 L538.24,435.89 L531.98,435.28 Z" fill="#f8e415" stroke="#7c720a" stroke-width="0.5" stroke-linejoin="round"/>
<path d="M597.67,446.00 L603.55,448.10 L598.47,447.22 L592.61,445.08 Z" fill="#aee511" stroke="#577208" stroke-width="0.5" stroke-linejoin="round"/>
<path d="M469.14,439.16 L475.81,437.79 L471.73,438.16 L465.09,439.47 Z" fill="#f1f10f" stroke="#797807" stroke-width="0.5" stroke-linejoin="round"/>
<path d="M547.53,436.44 L553.76,437.26 L549.06,436.94 L542.85,436.07 Z" fill="#f8e814" stroke="#7c740a" stroke-width="0.5" stroke-linejoin="round"/>
<path d="M608.70,449.18 L614.50,451.52 L609.34,450.48 L603.55,448.10 Z" fill="#8ed913" stroke="#476d0a" stroke-width="0.5" stroke-linejoin="round"/>
<path d="M508.29,435.09 L514.76,434.83 L510.36,434.87 L503.92,435.08 Z" fill="#f8df16" stroke="#7c6f0b" stroke-width="0.5" stroke-linejoin="round"/>
<path d="M619.74,452.76 L625.46,455.34 L620.22,454.14 L614.50,451.52 Z" fill="#6fce10" stroke="#376708" stroke-width="0.5" stroke-linejoin="round"/>
<path d="M558.53,437.77 L564.70,438.85 L559.90,438.38 L553.76,437.26 Z" fill="#f5ec12" stroke="#7b7609" stroke-width="0.5" stroke-linejoin="round"/>
<path d="M479.95,437.61 L486.58,436.50 L482.41,436.75 L475.81,437.79 Z" fill="#f7e913" stroke="#7b750a" stroke-width="0.5" stroke-linejoin="round"/>
<path d="M630.78,456.74 L636.43,459.56 L631.11,458.19 L625.46,455.34 Z" fill="#4cbf11" stroke="#266008" stroke-width="0.5" stroke-linejoin="round"/>
<path d="M451.62,443.07 L458.39,441.10 L454.45,441.53 L447.71,443.43 Z" fill="#dcf20c" stroke="#6e7906" stroke-width="0.5" stroke-linejoin="round"/>
<path d="M641.84,461.12 L647.40,464.17 L641.99,462.63 L636.43,459.56 Z" fill="#27ae15" stroke="#14570a" stroke-width="0.5" stroke-linejoin="round"/>
<path d="M519.22,434.97 L525.64,434.97 L521.15,434.88 L514.76,434.83 Z" fill="#f8dc17" stroke="#7c6e0b" stroke-width="0.5" stroke-linejoin="round"/>
<path d="M569.56,439.51 L575.66,440.83 L570.78,440.22 L564.70,438.85 Z" fill="#f1f10e" stroke="#797907" stroke-width="0.5" stroke-linejoin="round"/>
<path d="M490.82,436.44 L497.41,435.60 L493.14,435.72 L486.58,436.50 Z" fill="#f8e116" stroke="#7c710b" stroke-width="0.5" stroke-linejoin="round"/>
<path d="M530.20,435.25 L536.57,435.51 L531.98,435.28 L525.64,434.97 Z" fill="#f8dc17" stroke="#7c6e0c" stroke-width="0.5" stroke-linejoin="round"/>
<path d="M580.62,441.64 L586.66,443.22 L581.68,442.45 L575.66,440.83 Z" fill="#e7f40c" stroke="#737a06" stroke-width="0.5" stroke-linejoin="round"/>
<path d="M462.40,440.86 L469.14,439.16 L465.09,439.47 L458.39,441.10 Z" fill="#f0f20e" stroke="#787907" stroke-width="0.5" stroke-linejoin="round"/>
<path d="M591.70,444.18 L597.67,446.00 L592.61,445.08 L586.66,443.22 Z" fill="#d2f10c" stroke="#697806" stroke-width="0.5" stroke-linejoin="round"/>
<path d="M541.23,435.92 L547.53,436.44 L542.85,436.07 L536.57,435.51 Z" fill="#f8de17" stroke="#7c6f0b" stroke-width="0.5" stroke-linejoin="round"/>
<path d="M501.75,435.66 L508.29,435.09 L503.92,435.08 L497.41,435.60 Z" fill="#f8db17" stroke="#7c6e0c" stroke-width="0.5" stroke-linejoin="round"/>
<path d="M602.80,447.11 L608.70,449.18 L603.55,448.10 L597.67,446.00 Z" fill="#b4e710" stroke="#5a7308" stroke-width="0.5" stroke-linejoin="round"/>
<path d="M473.25,439.03 L479.95,437.61 L475.81,437.79 L469.14,439.16 Z" fill="#f6ea13" stroke="#7b7509" stroke-width="0.5" stroke-linejoin="round"/>
<path d="M613.92,450.46 L619.74,452.76 L614.50,451.52 L608.70,449.18 Z" fill="#92da14" stroke="#496d0a" stroke-width="0.5" stroke-linejoin="round"/>
<path d="M552.29,437.00 L558.53,437.77 L553.76,437.26 L547.53,436.44 Z" fill="#f8e215" stroke="#7c710b" stroke-width="0.5" stroke-linejoin="round"/>
<path d="M512.73,435.28 L519.22,434.97 L514.76,434.83 L508.29,435.09 Z" fill="#f8d718" stroke="#7c6b0c" stroke-width="0.5" stroke-linejoin="round"/>
<path d="M625.05,454.20 L630.78,456.74 L625.46,455.34 L619.74,452.76 Z" fill="#71cf11" stroke="#396708" stroke-width="0.5" stroke-linejoin="round"/>
<path d="M636.18,458.35 L641.84,461.12 L636.43,459.56 L630.78,456.74 Z" fill="#4dc011" stroke="#266008" stroke-width="0.5" stroke-linejoin="round"/>
<path d="M563.38,438.48 L569.56,439.51 L564.70,438.85 L558.53,437.77 Z" fill="#f8e814" stroke="#7c740a" stroke-width="0.5" stroke-linejoin="round"/>
<path d="M484.16,437.60 L490.82,436.44 L486.58,436.50 L479.95,437.61 Z" fill="#f8e116" stroke="#7c710b" stroke-width="0.5" stroke-linejoin="round"/>
<path d="M455.60,442.88 L462.40,440.86 L458.39,441.10 L451.62,443.07 Z" fill="#edf50c" stroke="#777a06" stroke-width="0.5" stroke-linejoin="round"/>
<path d="M523.76,435.29 L530.20,435.25 L525.64,434.97 L519.22,434.97 Z" fill="#f8d519" stroke="#7c6a0c" stroke-width="0.5" stroke-linejoin="round"/>
<path d="M574.50,440.36 L580.62,441.64 L575.66,440.83 L569.56,439.51 Z" fill="#f3ee10" stroke="#7a7708" stroke-width="0.5" stroke-linejoin="round"/>
<path d="M495.14,436.55 L501.75,435.66 L497.41,435.60 L490.82,436.44 Z" fill="#f8d918" stroke="#7c6d0c" stroke-width="0.5" stroke-linejoin="round"/>
<path d="M585.65,442.64 L591.70,444.18 L586.66,443.22 L580.62,441.64 Z" fill="#edf50c" stroke="#767a06" stroke-width="0.5" stroke-linejoin="round"/>
<path d="M534.84,435.71 L541.23,435.92 L536.57,435.51 L530.20,435.25 Z" fill="#f8d519" stroke="#7c6b0c" stroke-width="0.5" stroke-linejoin="round"/>
<path d="M466.48,440.79 L473.25,439.03 L469.14,439.16 L462.40,440.86 Z" fill="#f5ec11" stroke="#7a7609" stroke-width="0.5" stroke-linejoin="round"/>
<path d="M596.83,445.33 L602.80,447.11 L597.67,446.00 L591.70,444.18 Z" fill="#d6f10c" stroke="#6b7906" stroke-width="0.5" stroke-linejoin="round"/>
<path d="M545.96,436.52 L552.29,437.00 L547.53,436.44 L541.23,435.92 Z" fill="#f8d818" stroke="#7c6c0c" stroke-width="0.5" stroke-linejoin="round"/>
<path d="M506.17,435.90 L512.73,435.28 L508.29,435.09 L501.75,435.66 Z" fill="#f8d319" stroke="#7c6a0d" stroke-width="0.5" stroke-linejoin="round"/>
<path d="M608.02,448.43 L613.92,450.46 L608.70,449.18 L602.80,447.11 Z" fill="#b8e80f" stroke="#5c7408" stroke-width="0.5" stroke-linejoin="round"/>
<path d="M477.43,439.08 L484.16,437.60 L479.95,437.61 L473.25,439.03 Z" fill="#f8e215" stroke="#7c710b" stroke-width="0.5" stroke-linejoin="round"/>
<path d="M619.22,451.93 L625.05,454.20 L619.74,452.76 L613.92,450.46 Z" fill="#93db14" stroke="#4a6e0a" stroke-width="0.5" stroke-linejoin="round"/>
<path d="M557.11,437.74 L563.38,438.48 L558.53,437.77 L552.29,437.00 Z" fill="#f8dd17" stroke="#7c6f0b" stroke-width="0.5" stroke-linejoin="round"/>
<path d="M630.44,455.84 L636.18,458.35 L630.78,456.74 L625.05,454.20 Z" fill="#72cf11" stroke="#396708" stroke-width="0.5" stroke-linejoin="round"/>
<path d="M517.25,435.65 L523.76,435.29 L519.22,434.97 L512.73,435.28 Z" fill="#f8ce1a" stroke="#7c670d" stroke-width="0.5" stroke-linejoin="round"/>
<path d="M568.30,439.37 L574.50,440.36 L569.56,439.51 L563.38,438.48 Z" fill="#f8e515" stroke="#7c720a" stroke-width="0.5" stroke-linejoin="round"/>
<path d="M488.45,437.77 L495.14,436.55 L490.82,436.44 L484.16,437.60 Z" fill="#f8d918" stroke="#7c6c0c" stroke-width="0.5" stroke-linejoin="round"/>
<path d="M459.65,442.87 L466.48,440.79 L462.40,440.86 L455.60,442.88 Z" fill="#f2ef10" stroke="#797808" stroke-width="0.5" stroke-linejoin="round"/>
<path d="M528.38,435.80 L534.84,435.71 L530.20,435.25 L523.76,435.29 Z" fill="#f8cc1a" stroke="#7c660d" stroke-width="0.5" stroke-linejoin="round"/>
<path d="M579.52,441.40 L585.65,442.64 L580.62,441.64 L574.50,440.36 Z" fill="#f5ec11" stroke="#7a7609" stroke-width="0.5" stroke-linejoin="round"/>
<path d="M590.76,443.84 L596.83,445.33 L591.70,444.18 L585.65,442.64 Z" fill="#eff40d" stroke="#777a06" stroke-width="0.5" stroke-linejoin="round"/>
<path d="M499.52,436.85 L506.17,435.90 L501.75,435.66 L495.14,436.55 Z" fill="#f8d11a" stroke="#7c680d" stroke-width="0.5" stroke-linejoin="round"/>
<path d="M539.55,436.36 L545.96,436.52 L541.23,435.92 L534.84,435.71 Z" fill="#f8ce1a" stroke="#7c670d" stroke-width="0.5" stroke-linejoin="round"/>
<path d="M470.64,440.90 L477.43,439.08 L473.25,439.03 L466.48,440.79 Z" fill="#f8e615" stroke="#7c730a" stroke-width="0.5" stroke-linejoin="round"/>
<path d="M602.03,446.69 L608.02,448.43 L602.80,447.11 L596.83,445.33 Z" fill="#d9f20c" stroke="#6d7906" stroke-width="0.5" stroke-linejoin="round"/>
<path d="M550.77,437.32 L557.11,437.74 L552.29,437.00 L545.96,436.52 Z" fill="#f8d419" stroke="#7c6a0d" stroke-width="0.5" stroke-linejoin="round"/>
<path d="M613.31,449.95 L619.22,451.93 L613.92,450.46 L608.02,448.43 Z" fill="#bae90f" stroke="#5d7507" stroke-width="0.5" stroke-linejoin="round"/>
<path d="M510.65,436.33 L517.25,435.65 L512.73,435.28 L506.17,435.90 Z" fill="#f8c91b" stroke="#7c650d" stroke-width="0.5" stroke-linejoin="round"/>
<path d="M624.60,453.62 L630.44,455.84 L625.05,454.20 L619.22,451.93 Z" fill="#94db14" stroke="#4a6e0a" stroke-width="0.5" stroke-linejoin="round"/>
<path d="M481.69,439.31 L488.45,437.77 L484.16,437.60 L477.43,439.08 Z" fill="#f8db17" stroke="#7c6d0c" stroke-width="0.5" stroke-linejoin="round"/>
<path d="M562.02,438.69 L568.30,439.37 L563.38,438.48 L557.11,437.74 Z" fill="#f8da18" stroke="#7c6d0c" stroke-width="0.5" stroke-linejoin="round"/>
<path d="M521.84,436.22 L528.38,435.80 L523.76,435.29 L517.25,435.65 Z" fill="#f8c51b" stroke="#7c630e" stroke-width="0.5" stroke-linejoin="round"/>
<path d="M573.30,440.46 L579.52,441.40 L574.50,440.36 L568.30,439.37 Z" fill="#f8e216" stroke="#7c710b" stroke-width="0.5" stroke-linejoin="round"/>
<path d="M492.81,438.13 L499.52,436.85 L495.14,436.55 L488.45,437.77 Z" fill="#f8d11a" stroke="#7c680d" stroke-width="0.5" stroke-linejoin="round"/>
<path d="M463.77,443.05 L470.64,440.90 L466.48,440.79 L459.65,442.87 Z" fill="#f7ea13" stroke="#7b7509" stroke-width="0.5" stroke-linejoin="round"/>
<path d="M533.06,436.51 L539.55,436.36 L534.84,435.71 L528.38,435.80 Z" fill="#f7c51c" stroke="#7c620e" stroke-width="0.5" stroke-linejoin="round"/>
<path d="M584.61,442.65 L590.76,443.84 L585.65,442.64 L579.52,441.40 Z" fill="#f6eb12" stroke="#7b7509" stroke-width="0.5" stroke-linejoin="round"/>
<path d="M595.95,445.25 L602.03,446.69 L596.83,445.33 L590.76,443.84 Z" fill="#f0f30d" stroke="#787907" stroke-width="0.5" stroke-linejoin="round"/>
<path d="M503.98,437.34 L510.65,436.33 L506.17,435.90 L499.52,436.85 Z" fill="#f8c71b" stroke="#7c640e" stroke-width="0.5" stroke-linejoin="round"/>
<path d="M544.34,437.21 L550.77,437.32 L545.96,436.52 L539.55,436.36 Z" fill="#f8c81b" stroke="#7c640e" stroke-width="0.5" stroke-linejoin="round"/>
<path d="M607.31,448.26 L613.31,449.95 L608.02,448.43 L602.03,446.69 Z" fill="#daf20c" stroke="#6d7906" stroke-width="0.5" stroke-linejoin="round"/>
<path d="M474.86,441.20 L481.69,439.31 L477.43,439.08 L470.64,440.90 Z" fill="#f8de16" stroke="#7c6f0b" stroke-width="0.5" stroke-linejoin="round"/>
<path d="M618.68,451.68 L624.60,453.62 L619.22,451.93 L613.31,449.95 Z" fill="#bae90f" stroke="#5d7507" stroke-width="0.5" stroke-linejoin="round"/>
<path d="M555.65,438.31 L562.02,438.69 L557.11,437.74 L550.77,437.32 Z" fill="#f8ce1a" stroke="#7c670d" stroke-width="0.5" stroke-linejoin="round"/>
<path d="M515.22,436.96 L521.84,436.22 L517.25,435.65 L510.65,436.33 Z" fill="#f7c11c" stroke="#7c600e" stroke-width="0.5" stroke-linejoin="round"/>
<path d="M486.02,439.74 L492.81,438.13 L488.45,437.77 L481.69,439.31 Z" fill="#f8d419" stroke="#7c6a0d" stroke-width="0.5" stroke-linejoin="round"/>
<path d="M567.00,439.83 L573.30,440.46 L568.30,439.37 L562.02,438.69 Z" fill="#f8d718" stroke="#7c6b0c" stroke-width="0.5" stroke-linejoin="round"/>
<path d="M526.50,436.98 L533.06,436.51 L528.38,435.80 L521.84,436.22 Z" fill="#f7be1d" stroke="#7c5f0e" stroke-width="0.5" stroke-linejoin="round"/>
<path d="M578.38,441.76 L584.61,442.65 L579.52,441.40 L573.30,440.46 Z" fill="#f8e016" stroke="#7c700b" stroke-width="0.5" stroke-linejoin="round"/>
<path d="M497.24,438.68 L503.98,437.34 L499.52,436.85 L492.81,438.13 Z" fill="#f8c81b" stroke="#7c640e" stroke-width="0.5" stroke-linejoin="round"/>
<path d="M537.83,437.41 L544.34,437.21 L539.55,436.36 L533.06,436.51 Z" fill="#f7bf1d" stroke="#7c5f0e" stroke-width="0.5" stroke-linejoin="round"/>
<path d="M589.79,444.10 L595.95,445.25 L590.76,443.84 L584.61,442.65 Z" fill="#f7ea13" stroke="#7b7509" stroke-width="0.5" stroke-linejoin="round"/>
<path d="M467.96,443.42 L474.86,441.20 L470.64,440.90 L463.77,443.05 Z" fill="#f8e315" stroke="#7c720b" stroke-width="0.5" stroke-linejoin="round"/>
<path d="M601.22,446.86 L607.31,448.26 L602.03,446.69 L595.95,445.25 Z" fill="#f0f30d" stroke="#787907" stroke-width="0.5" stroke-linejoin="round"/>
<path d="M549.20,438.25 L555.65,438.31 L550.77,437.32 L544.34,437.21 Z" fill="#f7c31c" stroke="#7c620e" stroke-width="0.5" stroke-linejoin="round"/>
<path d="M508.52,438.03 L515.22,436.96 L510.65,436.33 L503.98,437.34 Z" fill="#f7bf1c" stroke="#7c600e" stroke-width="0.5" stroke-linejoin="round"/>
<path d="M612.66,450.03 L618.68,451.68 L613.31,449.95 L607.31,448.26 Z" fill="#daf20c" stroke="#6d7906" stroke-width="0.5" stroke-linejoin="round"/>
<path d="M479.16,441.69 L486.02,439.74 L481.69,439.31 L474.86,441.20 Z" fill="#f8d818" stroke="#7c6c0c" stroke-width="0.5" stroke-linejoin="round"/>
<path d="M560.61,439.51 L567.00,439.83 L562.02,438.69 L555.65,438.31 Z" fill="#f8cb1b" stroke="#7c650d" stroke-width="0.5" stroke-linejoin="round"/>
<path d="M519.85,437.78 L526.50,436.98 L521.84,436.22 L515.22,436.96 Z" fill="#f7ba1d" stroke="#7c5d0f" stroke-width="0.5" stroke-linejoin="round"/>
<path d="M572.06,441.18 L578.38,441.76 L573.30,440.46 L567.00,439.83 Z" fill="#f8d519" stroke="#7c6b0c" stroke-width="0.5" stroke-linejoin="round"/>
<path d="M490.42,440.35 L497.24,438.68 L492.81,438.13 L486.02,439.74 Z" fill="#f8cb1a" stroke="#7c660d" stroke-width="0.5" stroke-linejoin="round"/>
<path d="M531.24,437.94 L537.83,437.41 L533.06,436.51 L526.50,436.98 Z" fill="#f7b91e" stroke="#7c5c0f" stroke-width="0.5" stroke-linejoin="round"/>
<path d="M583.53,443.26 L589.79,444.10 L584.61,442.65 L578.38,441.76 Z" fill="#f8df16" stroke="#7c6f0b" stroke-width="0.5" stroke-linejoin="round"/>
<path d="M501.75,439.43 L508.52,438.03 L503.98,437.34 L497.24,438.68 Z" fill="#f7c01c" stroke="#7c600e" stroke-width="0.5" stroke-linejoin="round"/>
<path d="M595.04,445.77 L601.22,446.86 L595.95,445.25 L589.79,444.10 Z" fill="#f7ea13" stroke="#7b7509" stroke-width="0.5" stroke-linejoin="round"/>
<path d="M542.67,438.52 L549.20,438.25 L544.34,437.21 L537.83,437.41 Z" fill="#f7ba1d" stroke="#7c5d0f" stroke-width="0.5" stroke-linejoin="round"/>
<path d="M472.22,443.98 L479.16,441.69 L474.86,441.20 L467.96,443.42 Z" fill="#f8dd17" stroke="#7c6f0b" stroke-width="0.5" stroke-linejoin="round"/>
<path d="M606.56,448.69 L612.66,450.03 L607.31,448.26 L601.22,446.86 Z" fill="#eff30d" stroke="#787a07" stroke-width="0.5" stroke-linejoin="round"/>
<path d="M554.14,439.51 L560.61,439.51 L555.65,438.31 L549.20,438.25 Z" fill="#f7c01c" stroke="#7c600e" stroke-width="0.5" stroke-linejoin="round"/>
<path d="M513.13,438.91 L519.85,437.78 L515.22,436.96 L508.52,438.03 Z" fill="#f7b91e" stroke="#7c5c0f" stroke-width="0.5" stroke-linejoin="round"/>
<path d="M483.53,442.37 L490.42,440.35 L486.02,439.74 L479.16,441.69 Z" fill="#f8d119" stroke="#7c690d" stroke-width="0.5" stroke-linejoin="round"/>
<path d="M565.65,440.91 L572.06,441.18 L567.00,439.83 L560.61,439.51 Z" fill="#f8c91b" stroke="#7c640d" stroke-width="0.5" stroke-linejoin="round"/>
<path d="M524.57,438.80 L531.24,437.94 L526.50,436.98 L519.85,437.78 Z" fill="#f7b51e" stroke="#7b5a0f" stroke-width="0.5" stroke-linejoin="round"/>
<path d="M577.19,442.74 L583.53,443.26 L578.38,441.76 L572.06,441.18 Z" fill="#f8d519" stroke="#7c6a0c" stroke-width="0.5" stroke-linejoin="round"/>
<path d="M494.90,441.17 L501.75,439.43 L497.24,438.68 L490.42,440.35 Z" fill="#f7c41c" stroke="#7c620e" stroke-width="0.5" stroke-linejoin="round"/>
<path d="M536.05,439.11 L542.67,438.52 L537.83,437.41 L531.24,437.94 Z" fill="#f7b41e" stroke="#7b5a0f" stroke-width="0.5" stroke-linejoin="round"/>
<path d="M588.77,444.98 L595.04,445.77 L589.79,444.10 L583.53,443.26 Z" fill="#f8df16" stroke="#7c700b" stroke-width="0.5" stroke-linejoin="round"/>
<path d="M600.37,447.65 L606.56,448.69 L601.22,446.86 L595.04,445.77 Z" fill="#f6ea12" stroke="#7b7509" stroke-width="0.5" stroke-linejoin="round"/>
<path d="M506.33,440.38 L513.13,438.91 L508.52,438.03 L501.75,439.43 Z" fill="#f7ba1d" stroke="#7c5d0f" stroke-width="0.5" stroke-linejoin="round"/>
<path d="M547.59,439.83 L554.14,439.51 L549.20,438.25 L542.67,438.52 Z" fill="#f7b81e" stroke="#7c5c0f" stroke-width="0.5" stroke-linejoin="round"/>
<path d="M476.56,444.74 L483.53,442.37 L479.16,441.69 L472.22,443.98 Z" fill="#f8d818" stroke="#7c6c0c" stroke-width="0.5" stroke-linejoin="round"/>
<path d="M559.16,440.97 L565.65,440.91 L560.61,439.51 L554.14,439.51 Z" fill="#f7be1d" stroke="#7c5f0e" stroke-width="0.5" stroke-linejoin="round"/>
<path d="M517.82,440.00 L524.57,438.80 L519.85,437.78 L513.13,438.91 Z" fill="#f7b31e" stroke="#7b5a0f" stroke-width="0.5" stroke-linejoin="round"/>
<path d="M487.98,443.26 L494.90,441.17 L490.42,440.35 L483.53,442.37 Z" fill="#f8ca1b" stroke="#7c650d" stroke-width="0.5" stroke-linejoin="round"/>
<path d="M570.77,442.53 L577.19,442.74 L572.06,441.18 L565.65,440.91 Z" fill="#f8c81b" stroke="#7c640d" stroke-width="0.5" stroke-linejoin="round"/>
<path d="M529.36,440.03 L536.05,439.11 L531.24,437.94 L524.57,438.80 Z" fill="#f7b01f" stroke="#7b580f" stroke-width="0.5" stroke-linejoin="round"/>
<path d="M582.41,444.51 L588.77,444.98 L583.53,443.26 L577.19,442.74 Z" fill="#f8d519" stroke="#7c6b0c" stroke-width="0.5" stroke-linejoin="round"/>
<path d="M499.45,442.19 L506.33,440.38 L501.75,439.43 L494.90,441.17 Z" fill="#f7bf1d" stroke="#7c5f0e" stroke-width="0.5" stroke-linejoin="round"/>
<path d="M540.95,440.48 L547.59,439.83 L542.67,438.52 L536.05,439.11 Z" fill="#f7b11f" stroke="#7b580f" stroke-width="0.5" stroke-linejoin="round"/>
<path d="M594.08,446.92 L600.37,447.65 L595.04,445.77 L588.77,444.98 Z" fill="#f8e016" stroke="#7c700b" stroke-width="0.5" stroke-linejoin="round"/>
<path d="M510.99,441.53 L517.82,440.00 L513.13,438.91 L506.33,440.38 Z" fill="#f7b61e" stroke="#7c5b0f" stroke-width="0.5" stroke-linejoin="round"/>
<path d="M552.58,441.35 L559.16,440.97 L554.14,439.51 L547.59,439.83 Z" fill="#f7b61e" stroke="#7c5b0f" stroke-width="0.5" stroke-linejoin="round"/>
<path d="M480.98,445.70 L487.98,443.26 L483.53,442.37 L476.56,444.74 Z" fill="#f8d419" stroke="#7c6a0d" stroke-width="0.5" stroke-linejoin="round"/>
<path d="M564.26,442.65 L570.77,442.53 L565.65,440.91 L559.16,440.97 Z" fill="#f7be1d" stroke="#7c5f0e" stroke-width="0.5" stroke-linejoin="round"/>
<path d="M522.58,441.29 L529.36,440.03 L524.57,438.80 L517.82,440.00 Z" fill="#f7af1f" stroke="#7b570f" stroke-width="0.5" stroke-linejoin="round"/>
<path d="M492.50,444.35 L499.45,442.19 L494.90,441.17 L487.98,443.26 Z" fill="#f8c51b" stroke="#7c630e" stroke-width="0.5" stroke-linejoin="round"/>
<path d="M575.97,444.36 L582.41,444.51 L577.19,442.74 L570.77,442.53 Z" fill="#f8c91b" stroke="#7c650d" stroke-width="0.5" stroke-linejoin="round"/>
<path d="M534.23,441.47 L540.95,440.48 L536.05,439.11 L529.36,440.03 Z" fill="#f6ad1f" stroke="#7b560f" stroke-width="0.5" stroke-linejoin="round"/>
<path d="M587.71,446.50 L594.08,446.92 L588.77,444.98 L582.41,444.51 Z" fill="#f8d718" stroke="#7c6b0c" stroke-width="0.5" stroke-linejoin="round"/>
<path d="M504.08,443.42 L510.99,441.53 L506.33,440.38 L499.45,442.19 Z" fill="#f7bb1d" stroke="#7c5d0f" stroke-width="0.5" stroke-linejoin="round"/>
<path d="M545.92,442.07 L552.58,441.35 L547.59,439.83 L540.95,440.48 Z" fill="#f7af1f" stroke="#7b580f" stroke-width="0.5" stroke-linejoin="round"/>
<path d="M557.66,443.09 L564.26,442.65 L559.16,440.97 L552.58,441.35 Z" fill="#f7b71e" stroke="#7c5b0f" stroke-width="0.5" stroke-linejoin="round"/>
<path d="M515.73,442.90 L522.58,441.29 L517.82,440.00 L510.99,441.53 Z" fill="#f7b21e" stroke="#7b590f" stroke-width="0.5" stroke-linejoin="round"/>
<path d="M485.47,446.87 L492.50,444.35 L487.98,443.26 L480.98,445.70 Z" fill="#f8cf1a" stroke="#7c670d" stroke-width="0.5" stroke-linejoin="round"/>
<path d="M569.44,444.54 L575.97,444.36 L570.77,442.53 L564.26,442.65 Z" fill="#f7c01c" stroke="#7c600e" stroke-width="0.5" stroke-linejoin="round"/>
<path d="M527.43,442.80 L534.23,441.47 L529.36,440.03 L522.58,441.29 Z" fill="#f6ad1f" stroke="#7b560f" stroke-width="0.5" stroke-linejoin="round"/>
<path d="M581.25,446.42 L587.71,446.50 L582.41,444.51 L575.97,444.36 Z" fill="#f8cc1a" stroke="#7c660d" stroke-width="0.5" stroke-linejoin="round"/>
<path d="M497.10,445.65 L504.08,443.42 L499.45,442.19 L492.50,444.35 Z" fill="#f7c21c" stroke="#7c610e" stroke-width="0.5" stroke-linejoin="round"/>
<path d="M539.18,443.13 L545.92,442.07 L540.95,440.48 L534.23,441.47 Z" fill="#f6ac1f" stroke="#7b5610" stroke-width="0.5" stroke-linejoin="round"/>
<path d="M508.79,444.86 L515.73,442.90 L510.99,441.53 L504.08,443.42 Z" fill="#f7b81e" stroke="#7c5c0f" stroke-width="0.5" stroke-linejoin="round"/>
<path d="M550.98,443.88 L557.66,443.09 L552.58,441.35 L545.92,442.07 Z" fill="#f7b11f" stroke="#7b580f" stroke-width="0.5" stroke-linejoin="round"/>
<path d="M562.82,445.06 L569.44,444.54 L564.26,442.65 L557.66,443.09 Z" fill="#f7b91e" stroke="#7c5c0f" stroke-width="0.5" stroke-linejoin="round"/>
<path d="M520.54,444.48 L527.43,442.80 L522.58,441.29 L515.73,442.90 Z" fill="#f7b11f" stroke="#7b580f" stroke-width="0.5" stroke-linejoin="round"/>
<path d="M490.04,448.25 L497.10,445.65 L492.50,444.35 L485.47,446.87 Z" fill="#f8cc1a" stroke="#7c660d" stroke-width="0.5" stroke-linejoin="round"/>
<path d="M574.70,446.66 L581.25,446.42 L575.97,444.36 L569.44,444.54 Z" fill="#f7c31c" stroke="#7c610e" stroke-width="0.5" stroke-linejoin="round"/>
<path d="M532.35,444.53 L539.18,443.13 L534.23,441.47 L527.43,442.80 Z" fill="#f6ad1f" stroke="#7b560f" stroke-width="0.5" stroke-linejoin="round"/>
<path d="M501.78,447.17 L508.79,444.86 L504.08,443.42 L497.10,445.65 Z" fill="#f7c01c" stroke="#7c600e" stroke-width="0.5" stroke-linejoin="round"/>
<path d="M544.21,445.01 L550.98,443.88 L545.92,442.07 L539.18,443.13 Z" fill="#f6ae1f" stroke="#7b570f" stroke-width="0.5" stroke-linejoin="round"/>
<path d="M513.58,446.52 L520.54,444.48 L515.73,442.90 L508.79,444.86 Z" fill="#f7b81e" stroke="#7c5c0f" stroke-width="0.5" stroke-linejoin="round"/>
<path d="M556.11,445.91 L562.82,445.06 L557.66,443.09 L550.98,443.88 Z" fill="#f7b41e" stroke="#7b5a0f" stroke-width="0.5" stroke-linejoin="round"/>
<path d="M568.06,447.25 L574.70,446.66 L569.44,444.54 L562.82,445.06 Z" fill="#f7bc1d" stroke="#7c5e0e" stroke-width="0.5" stroke-linejoin="round"/>
<path d="M525.44,446.29 L532.35,444.53 L527.43,442.80 L520.54,444.48 Z" fill="#f7b11f" stroke="#7b590f" stroke-width="0.5" stroke-linejoin="round"/>
<path d="M494.69,449.85 L501.78,447.17 L497.10,445.65 L490.04,448.25 Z" fill="#f8ca1b" stroke="#7c650d" stroke-width="0.5" stroke-linejoin="round"/>
<path d="M537.36,446.48 L544.21,445.01 L539.18,443.13 L532.35,444.53 Z" fill="#f7af1f" stroke="#7b570f" stroke-width="0.5" stroke-linejoin="round"/>
<path d="M506.54,448.91 L513.58,446.52 L508.79,444.86 L501.78,447.17 Z" fill="#f7c01c" stroke="#7c600e" stroke-width="0.5" stroke-linejoin="round"/>
<path d="M549.32,447.11 L556.11,445.91 L550.98,443.88 L544.21,445.01 Z" fill="#f7b21e" stroke="#7b590f" stroke-width="0.5" stroke-linejoin="round"/>
<path d="M518.45,448.40 L525.44,446.29 L520.54,444.48 L513.58,446.52 Z" fill="#f7b81e" stroke="#7c5c0f" stroke-width="0.5" stroke-linejoin="round"/>
<path d="M561.33,448.17 L568.06,447.25 L562.82,445.06 L556.11,445.91 Z" fill="#f7b81e" stroke="#7c5c0f" stroke-width="0.5" stroke-linejoin="round"/>
<path d="M530.42,448.32 L537.36,446.48 L532.35,444.53 L525.44,446.29 Z" fill="#f7b41e" stroke="#7b5a0f" stroke-width="0.5" stroke-linejoin="round"/>
<path d="M499.42,451.67 L506.54,448.91 L501.78,447.17 L494.69,449.85 Z" fill="#f8ca1b" stroke="#7c650d" stroke-width="0.5" stroke-linejoin="round"/>
<path d="M542.44,448.67 L549.32,447.11 L544.21,445.01 L537.36,446.48 Z" fill="#f7b31e" stroke="#7b5a0f" stroke-width="0.5" stroke-linejoin="round"/>
<path d="M511.38,450.87 L518.45,448.40 L513.58,446.52 L506.54,448.91 Z" fill="#f7c11c" stroke="#7c600e" stroke-width="0.5" stroke-linejoin="round"/>
<path d="M554.51,449.45 L561.33,448.17 L556.11,445.91 L549.32,447.11 Z" fill="#f7b71e" stroke="#7c5c0f" stroke-width="0.5" stroke-linejoin="round"/>
<path d="M523.40,450.51 L530.42,448.32 L525.44,446.29 L518.45,448.40 Z" fill="#f7bb1d" stroke="#7c5d0f" stroke-width="0.5" stroke-linejoin="round"/>
<path d="M535.48,450.58 L542.44,448.67 L537.36,446.48 L530.42,448.32 Z" fill="#f7b81e" stroke="#7c5c0f" stroke-width="0.5" stroke-linejoin="round"/>
<path d="M504.22,453.72 L511.38,450.87 L506.54,448.91 L499.42,451.67 Z" fill="#f8cc1a" stroke="#7c660d" stroke-width="0.5" stroke-linejoin="round"/>
<path d="M547.61,451.08 L554.51,449.45 L549.32,447.11 L542.44,448.67 Z" fill="#f7b91e" stroke="#7c5c0f" stroke-width="0.5" stroke-linejoin="round"/>
<path d="M516.30,453.07 L523.40,450.51 L518.45,448.40 L511.38,450.87 Z" fill="#f7c41c" stroke="#7c620e" stroke-width="0.5" stroke-linejoin="round"/>
<path d="M528.43,452.86 L535.48,450.58 L530.42,448.32 L523.40,450.51 Z" fill="#f7bf1d" stroke="#7c5f0e" stroke-width="0.5" stroke-linejoin="round"/>
<path d="M540.62,453.08 L547.61,451.08 L542.44,448.67 L535.48,450.58 Z" fill="#f7bd1d" stroke="#7c5f0e" stroke-width="0.5" stroke-linejoin="round"/>
<path d="M509.11,456.00 L516.30,453.07 L511.38,450.87 L504.22,453.72 Z" fill="#f8cf1a" stroke="#7c680d" stroke-width="0.5" stroke-linejoin="round"/>
<path d="M521.30,455.50 L528.43,452.86 L523.40,450.51 L516.30,453.07 Z" fill="#f8c81b" stroke="#7c640d" stroke-width="0.5" stroke-linejoin="round"/>
<path d="M533.55,455.44 L540.62,453.08 L535.48,450.58 L528.43,452.86 Z" fill="#f7c41c" stroke="#7c620e" stroke-width="0.5" stroke-linejoin="round"/>
<path d="M514.09,458.53 L521.30,455.50 L516.30,453.07 L509.11,456.00 Z" fill="#f8d419" stroke="#7c6a0c" stroke-width="0.5" stroke-linejoin="round"/>
<path d="M526.39,458.18 L533.55,455.44 L528.43,452.86 L521.30,455.50 Z" fill="#f8ce1a" stroke="#7c670d" stroke-width="0.5" stroke-linejoin="round"/>
<path d="M519.15,461.29 L526.39,458.18 L521.30,455.50 L514.09,458.53 Z" fill="#f8d818" stroke="#7c6c0c" stroke-width="0.5" stroke-linejoin="round"/>
<circle cx="518.70" cy="460.40" r="2.6" fill="#c00000" stroke="#700" stroke-width="0.4"/>
<circle cx="647.30" cy="463.80" r="2.6" fill="#c00000" stroke="#700" stroke-width="0.4"/>
<text x="556.15" y="331.90" font-size="8.3" class="t" text-anchor="middle" textLength="36.70" lengthAdjust="spacingAndGlyphs">3D Surface</text>
<text x="382.70" y="358.70" font-size="16" class="pl" textLength="19.60" lengthAdjust="spacingAndGlyphs">(d)</text>
<path d="M81.50,711.70 L203.65,697.90 L300.60,718.00" fill="none" stroke="#3a3a3a" stroke-width="0.8"/>
<path d="M82.12,733.56 L203.57,717.79 L299.78,740.66" fill="none" stroke="#3a3a3a" stroke-width="0.8"/>
<path d="M82.75,755.41 L203.48,737.69 L298.96,763.32" fill="none" stroke="#3a3a3a" stroke-width="0.8"/>
<path d="M83.37,777.27 L203.40,757.58 L298.14,785.98" fill="none" stroke="#3a3a3a" stroke-width="0.8"/>
<path d="M83.99,799.12 L203.32,777.47 L297.31,808.65" fill="none" stroke="#3a3a3a" stroke-width="0.8"/>
<path d="M84.62,820.98 L203.23,797.37 L296.49,831.31" fill="none" stroke="#3a3a3a" stroke-width="0.8"/>
<line x1="81.50" y1="711.70" x2="85.60" y2="855.40" stroke="#444" stroke-width="0.8"/>
<line x1="105.93" y1="708.94" x2="108.34" y2="816.26" stroke="#7a7a7a" stroke-width="0.8"/>
<line x1="130.36" y1="706.18" x2="132.06" y2="811.53" stroke="#7a7a7a" stroke-width="0.8"/>
<line x1="154.79" y1="703.42" x2="155.79" y2="806.81" stroke="#7a7a7a" stroke-width="0.8"/>
<line x1="179.22" y1="700.66" x2="179.51" y2="802.09" stroke="#7a7a7a" stroke-width="0.8"/>
<line x1="203.65" y1="697.90" x2="203.10" y2="828.70" stroke="#7a7a7a" stroke-width="0.8"/>
<line x1="300.60" y1="718.00" x2="295.20" y2="867.00" stroke="#7a7a7a" stroke-width="0.8"/>
<line x1="276.36" y1="712.98" x2="273.18" y2="822.82" stroke="#7a7a7a" stroke-width="0.8"/>
<line x1="252.12" y1="707.95" x2="249.86" y2="814.34" stroke="#7a7a7a" stroke-width="0.8"/>
<line x1="227.89" y1="702.92" x2="226.55" y2="805.85" stroke="#7a7a7a" stroke-width="0.8"/>
<line x1="203.65" y1="697.90" x2="203.10" y2="828.70" stroke="#7a7a7a" stroke-width="0.8"/>
<circle cx="81.50" cy="711.70" r="1.1" fill="#111"/>
<text x="78.10" y="711.40" font-size="6.5" class="tk" text-anchor="end">-10</text>
<circle cx="82.12" cy="733.56" r="1.1" fill="#111"/>
<text x="78.72" y="733.26" font-size="6.5" class="tk" text-anchor="end">-20</text>
<circle cx="82.75" cy="755.41" r="1.1" fill="#111"/>
<text x="79.35" y="755.11" font-size="6.5" class="tk" text-anchor="end">-30</text>
<circle cx="83.37" cy="777.27" r="1.1" fill="#111"/>
<text x="79.97" y="776.97" font-size="6.5" class="tk" text-anchor="end">-40</text>
<circle cx="83.99" cy="799.12" r="1.1" fill="#111"/>
<text x="80.59" y="798.82" font-size="6.5" class="tk" text-anchor="end">-50</text>
<circle cx="84.62" cy="820.98" r="1.1" fill="#111"/>
<text x="81.22" y="820.68" font-size="6.5" class="tk" text-anchor="end">-60</text>
<text x="49.10" y="779.10" font-size="7.7" class="tk2" text-anchor="middle" textLength="66.40" lengthAdjust="spacingAndGlyphs" transform="rotate(-90 49.10 779.10)">Zeta Potential (mV)</text>
<path d="M170.30,903.30 L295.20,867.00 L203.10,828.70 L85.60,855.40 Z" fill="#666666" stroke="none" stroke-width="1"/>
<path d="M108.15,868.06 L109.87,868.11 L111.51,868.17 L113.81,868.21 L114.78,868.23 L117.95,868.23 L118.05,868.23 L121.03,868.18 L122.82,868.12 L124.01,868.08 L126.88,867.92 L128.42,867.80 L129.65,867.71 L132.30,867.43 L134.84,867.10 L136.68,866.81 L137.27,866.72 L139.58,866.27 L141.76,865.76 L143.82,865.20 L145.75,864.57 L146.01,864.47 L147.55,863.88 L149.22,863.13 L150.74,862.32 L151.01,862.15 L152.14,861.44 L153.39,860.51 L153.40,860.50 L154.50,859.51 L154.88,859.09 L155.46,858.45 L155.94,857.79 L156.27,857.33 L156.70,856.57 L156.94,856.14 L157.25,855.42 L157.46,854.90 L157.63,854.31 L157.83,853.59 L157.89,853.24 L158.04,852.22 L158.04,852.21 L158.09,851.20 L158.10,850.79 L158.07,850.22 L158.01,849.30 L158.01,849.26 L157.86,848.33 L157.76,847.75 L157.68,847.41 L157.45,846.50 L157.36,846.14 L157.18,845.62 L156.89,844.74 L156.80,844.47 L156.55,843.88 L156.20,843.03 L156.08,842.75 L155.81,842.20 L155.41,841.37 L155.21,840.97 L154.98,840.56 L154.53,839.75" fill="none" stroke="#eba91d" stroke-width="1.1"/>
<path d="M138.77,885.41 L140.05,885.49 L142.53,885.64 L143.83,885.70 L146.19,885.81 L147.79,885.86 L149.75,885.93 L152.00,885.96 L153.20,885.98 L156.51,885.98 L156.55,885.98 L159.78,885.92 L161.59,885.84 L162.90,885.79 L165.90,885.60 L167.58,885.45 L168.78,885.35 L171.53,885.03 L174.15,884.65 L176.63,884.20 L176.98,884.12 L178.98,883.68 L181.19,883.10 L183.25,882.45 L183.76,882.26 L185.17,881.73 L186.94,880.93 L188.55,880.08 L189.59,879.42 L190.01,879.15 L191.31,878.15 L191.95,877.55 L192.45,877.08 L193.43,875.94 L193.44,875.93 L194.25,874.73 L194.38,874.48 L194.89,873.45 L195.02,873.12 L195.37,872.10 L195.44,871.82 L195.68,870.68 L195.69,870.58 L195.81,869.39 L195.82,869.20 L195.81,868.24 L195.79,867.64 L195.73,867.12 L195.58,866.02 L195.58,866.02 L195.35,864.96 L195.20,864.33 L195.07,863.91 L194.75,862.89 L194.65,862.57 L194.38,861.88 L193.98,860.89 L193.92,860.75 L193.53,859.92 L193.07,858.96 L193.02,858.87 L192.56,858.02 L192.04,857.09 L191.94,856.92 L191.48,856.18 L190.92,855.27 L190.69,854.91 L190.33,854.38 L189.72,853.50 L189.27,852.84 L189.11,852.62 L188.47,851.76 L187.82,850.91 L187.67,850.71 L187.16,850.06 L186.48,849.23 L185.91,848.52 L185.81,848.40 L185.11,847.59 L184.41,846.78 L183.97,846.27 L183.70,845.97 L182.97,845.18 L182.25,844.39 L181.86,843.97 L181.52,843.61 L180.78,842.84 L180.03,842.07 L179.59,841.61 L179.28,841.31 L178.53,840.56 L177.77,839.81 L177.15,839.21 L177.01,839.07 L176.23,838.33 L175.46,837.60 L174.69,836.88 L174.55,836.75 L173.91,836.16 L173.13,835.45" fill="none" stroke="#ebeb0e" stroke-width="1.1"/>
<path d="M237.92,883.58 L237.80,883.21 L237.50,882.39 L237.07,881.28 L237.04,881.22 L236.51,880.08 L236.14,879.28 L235.96,878.96 L235.36,877.86 L235.01,877.21 L234.74,876.77 L234.08,875.70 L233.68,875.06 L233.41,874.65 L232.70,873.62 L232.16,872.85 L231.98,872.59 L231.22,871.59 L230.47,870.59 L230.45,870.56 L229.68,869.61 L228.89,868.64 L228.54,868.21 L228.08,867.68 L227.26,866.73 L226.45,865.80 L226.44,865.79 L225.59,864.86 L224.74,863.94 L224.16,863.32 L223.88,863.03 L223.01,862.13 L222.14,861.24 L221.69,860.78 L221.26,860.36 L220.37,859.49 L219.48,858.62 L219.03,858.18 L218.58,857.76 L217.67,856.91 L216.77,856.07 L216.18,855.52 L215.86,855.23 L214.94,854.40 L214.03,853.58 L213.16,852.81 L213.11,852.77 L212.18,851.96 L211.26,851.16 L210.33,850.36 L209.96,850.04 L209.40,849.57 L208.47,848.79 L207.53,848.01 L206.61,847.24 L206.59,847.22 L205.67,846.48 L204.73,845.72 L203.79,844.96 L203.04,844.36 L202.86,844.21 L201.92,843.47 L200.98,842.73 L200.04,842.00 L199.33,841.44 L199.11,841.27 L198.17,840.55 L197.23,839.83 L196.29,839.12 L195.45,838.48 L195.36,838.41 L194.42,837.71 L193.48,837.01 L192.55,836.32 L191.62,835.63 L191.42,835.48 L190.68,834.94 L189.75,834.26 L188.81,833.59 L187.89,832.92 L187.23,832.44 L186.96,832.25" fill="none" stroke="#9ceb15" stroke-width="1.1"/>
<path d="M267.07,875.11 L265.92,874.16 L264.78,873.23 L264.43,872.95 L263.62,872.30 L262.47,871.38 L261.32,870.47 L260.42,869.75 L260.17,869.56 L259.02,868.67 L257.87,867.78 L256.72,866.89 L256.20,866.50 L255.57,866.02 L254.41,865.15 L253.26,864.29 L252.12,863.43 L251.80,863.19 L250.97,862.58 L249.82,861.74 L248.68,860.90 L247.54,860.07 L247.22,859.84 L246.39,859.25 L245.25,858.43 L244.11,857.62 L242.98,856.81 L242.45,856.44 L241.84,856.01 L240.71,855.21 L239.57,854.42 L238.45,853.64 L237.51,852.99 L237.32,852.86 L236.19,852.08 L235.07,851.32 L233.95,850.55 L232.84,849.79 L232.41,849.50 L231.72,849.04 L230.60,848.29 L229.49,847.55 L228.39,846.81 L227.28,846.07 L227.14,845.97 L226.18,845.34 L225.08,844.62 L223.98,843.90 L222.89,843.18 L221.80,842.47 L221.71,842.41 L220.71,841.77 L219.62,841.06 L218.53,840.36 L217.45,839.67 L216.38,838.98 L216.13,838.82 L215.30,838.29 L214.23,837.61 L213.16,836.94 L212.09,836.26 L211.03,835.59 L210.40,835.19 L209.97,834.93 L208.91,834.26 L207.86,833.61 L206.80,832.95 L205.76,832.30 L204.71,831.65 L204.54,831.54 L203.67,831.01 L202.63,830.37 L201.59,829.74 L200.56,829.10" fill="none" stroke="#33eb1e" stroke-width="1.1"/>
<path d="M285.92,869.63 L284.56,868.77 L283.21,867.91 L281.87,867.06 L280.53,866.22 L280.34,866.09 L279.19,865.38 L277.86,864.55 L276.53,863.72 L275.21,862.90 L273.89,862.08 L273.70,861.96 L272.58,861.27 L271.27,860.47 L269.96,859.67 L268.66,858.87 L267.36,858.08 L266.91,857.80 L266.07,857.30 L264.78,856.52 L263.50,855.75 L262.22,854.97 L260.94,854.21 L259.96,853.62 L259.68,853.45 L258.41,852.69 L257.14,851.94 L255.89,851.19 L254.63,850.45 L253.39,849.71 L252.87,849.41" fill="none" stroke="#09eb62" stroke-width="1.1"/>
<path d="M85.60,855.40 L170.30,903.30 L295.20,867.00" fill="none" stroke="#111" stroke-width="0.7"/>
<line x1="203.10" y1="828.70" x2="85.60" y2="855.40" stroke="#444" stroke-width="0.5"/>
<line x1="203.10" y1="828.70" x2="295.20" y2="867.00" stroke="#444" stroke-width="0.5"/>
<circle cx="170.30" cy="903.30" r="0.9" fill="#111"/>
<text x="173.40" y="909.00" font-size="6.5" class="tk">20</text>
<circle cx="195.28" cy="896.04" r="0.9" fill="#111"/>
<text x="198.38" y="901.74" font-size="6.5" class="tk">26</text>
<circle cx="220.26" cy="888.78" r="0.9" fill="#111"/>
<text x="223.36" y="894.48" font-size="6.5" class="tk">32</text>
<circle cx="245.24" cy="881.52" r="0.9" fill="#111"/>
<text x="248.34" y="887.22" font-size="6.5" class="tk">38</text>
<circle cx="270.22" cy="874.26" r="0.9" fill="#111"/>
<text x="273.32" y="879.96" font-size="6.5" class="tk">44</text>
<circle cx="295.20" cy="867.00" r="0.9" fill="#111"/>
<text x="298.30" y="872.70" font-size="6.5" class="tk">50</text>
<circle cx="170.30" cy="903.30" r="0.9" fill="#111"/>
<text x="167.80" y="909.10" font-size="6.5" class="tk" text-anchor="end">10</text>
<circle cx="149.13" cy="891.33" r="0.9" fill="#111"/>
<text x="146.63" y="897.12" font-size="6.5" class="tk" text-anchor="end">15</text>
<circle cx="127.95" cy="879.35" r="0.9" fill="#111"/>
<text x="125.45" y="885.15" font-size="6.5" class="tk" text-anchor="end">20</text>
<circle cx="106.78" cy="867.38" r="0.9" fill="#111"/>
<text x="104.28" y="873.17" font-size="6.5" class="tk" text-anchor="end">25</text>
<circle cx="85.60" cy="855.40" r="0.9" fill="#111"/>
<text x="83.10" y="861.20" font-size="6.5" class="tk" text-anchor="end">30</text>
<text x="83.95" y="895.10" font-size="7.7" class="tk2" text-anchor="middle" textLength="68.40" lengthAdjust="spacingAndGlyphs">C: Glycerol &#160;(% w/v)</text>
<text x="268.40" y="906.80" font-size="7.7" class="tk2" text-anchor="middle" textLength="67.00" lengthAdjust="spacingAndGlyphs">A: cholesterol &#160;(mg)</text>
<path d="M202.09,755.47 L207.51,758.88 L203.38,756.89 L197.97,753.47 Z" fill="#25ad16" stroke="#12570b" stroke-width="0.5" stroke-linejoin="round"/>
<path d="M196.61,752.29 L202.09,755.47 L197.97,753.47 L192.50,750.28 Z" fill="#4dc011" stroke="#266008" stroke-width="0.5" stroke-linejoin="round"/>
<path d="M206.27,757.49 L211.69,760.89 L207.51,758.88 L202.09,755.47 Z" fill="#22ac19" stroke="#11560c" stroke-width="0.5" stroke-linejoin="round"/>
<path d="M191.05,749.34 L196.61,752.29 L192.50,750.28 L186.95,747.32 Z" fill="#78d111" stroke="#3c6909" stroke-width="0.5" stroke-linejoin="round"/>
<path d="M200.77,754.32 L206.27,757.49 L202.09,755.47 L196.61,752.29 Z" fill="#44bc11" stroke="#225e09" stroke-width="0.5" stroke-linejoin="round"/>
<path d="M210.50,759.54 L215.93,762.92 L211.69,760.89 L206.27,757.49 Z" fill="#20aa1b" stroke="#10550d" stroke-width="0.5" stroke-linejoin="round"/>
<path d="M185.43,746.64 L191.05,749.34 L186.95,747.32 L181.34,744.60 Z" fill="#a3e112" stroke="#517009" stroke-width="0.5" stroke-linejoin="round"/>
<path d="M195.21,751.39 L200.77,754.32 L196.61,752.29 L191.05,749.34 Z" fill="#6fce10" stroke="#386708" stroke-width="0.5" stroke-linejoin="round"/>
<path d="M204.99,756.38 L210.50,759.54 L206.27,757.49 L200.77,754.32 Z" fill="#3cb812" stroke="#1e5c09" stroke-width="0.5" stroke-linejoin="round"/>
<path d="M214.78,761.61 L220.22,764.99 L215.93,762.92 L210.50,759.54 Z" fill="#1da81d" stroke="#0e540e" stroke-width="0.5" stroke-linejoin="round"/>
<path d="M179.74,744.17 L185.43,746.64 L181.34,744.60 L175.66,742.12 Z" fill="#d1f10c" stroke="#687806" stroke-width="0.5" stroke-linejoin="round"/>
<path d="M189.57,748.70 L195.21,751.39 L191.05,749.34 L185.43,746.64 Z" fill="#98dd14" stroke="#4c6e0a" stroke-width="0.5" stroke-linejoin="round"/>
<path d="M199.42,753.46 L204.99,756.38 L200.77,754.32 L195.21,751.39 Z" fill="#67cb10" stroke="#336508" stroke-width="0.5" stroke-linejoin="round"/>
<path d="M209.27,758.47 L214.78,761.61 L210.50,759.54 L204.99,756.38 Z" fill="#33b413" stroke="#1a5a09" stroke-width="0.5" stroke-linejoin="round"/>
<path d="M219.12,763.71 L224.57,767.08 L220.22,764.99 L214.78,761.61 Z" fill="#1aa71f" stroke="#0d5310" stroke-width="0.5" stroke-linejoin="round"/>
<path d="M173.97,741.96 L179.74,744.17 L175.66,742.12 L169.91,739.89 Z" fill="#f0f30d" stroke="#787907" stroke-width="0.5" stroke-linejoin="round"/>
<path d="M183.87,746.25 L189.57,748.70 L185.43,746.64 L179.74,744.17 Z" fill="#c6ee0d" stroke="#637706" stroke-width="0.5" stroke-linejoin="round"/>
<path d="M193.77,750.79 L199.42,753.46 L195.21,751.39 L189.57,748.70 Z" fill="#8fd913" stroke="#476d0a" stroke-width="0.5" stroke-linejoin="round"/>
<path d="M203.68,755.57 L209.27,758.47 L204.99,756.38 L199.42,753.46 Z" fill="#5ec80f" stroke="#2f6408" stroke-width="0.5" stroke-linejoin="round"/>
<path d="M213.60,760.58 L219.12,763.71 L214.78,761.61 L209.27,758.47 Z" fill="#2bb014" stroke="#15580a" stroke-width="0.5" stroke-linejoin="round"/>
<path d="M223.52,765.84 L228.97,769.19 L224.57,767.08 L219.12,763.71 Z" fill="#18a521" stroke="#0c5311" stroke-width="0.5" stroke-linejoin="round"/>
<path d="M168.14,740.01 L173.97,741.96 L169.91,739.89 L164.09,737.91 Z" fill="#f8e615" stroke="#7c730a" stroke-width="0.5" stroke-linejoin="round"/>
<path d="M178.09,744.06 L183.87,746.25 L179.74,744.17 L173.97,741.96 Z" fill="#eaf40c" stroke="#757a06" stroke-width="0.5" stroke-linejoin="round"/>
<path d="M188.06,748.36 L193.77,750.79 L189.57,748.70 L183.87,746.25 Z" fill="#bbe90f" stroke="#5d7507" stroke-width="0.5" stroke-linejoin="round"/>
<path d="M198.03,752.91 L203.68,755.57 L199.42,753.46 L193.77,750.79 Z" fill="#86d613" stroke="#436b09" stroke-width="0.5" stroke-linejoin="round"/>
<path d="M208.01,757.70 L213.60,760.58 L209.27,758.47 L203.68,755.57 Z" fill="#55c410" stroke="#2b6208" stroke-width="0.5" stroke-linejoin="round"/>
<path d="M217.99,762.73 L223.52,765.84 L219.12,763.71 L213.60,760.58 Z" fill="#26ae15" stroke="#13570b" stroke-width="0.5" stroke-linejoin="round"/>
<path d="M227.98,768.00 L233.44,771.34 L228.97,769.19 L223.52,765.84 Z" fill="#15a323" stroke="#0a5212" stroke-width="0.5" stroke-linejoin="round"/>
<path d="M162.24,738.31 L168.14,740.01 L164.09,737.91 L158.20,736.19 Z" fill="#f8d519" stroke="#7c6a0c" stroke-width="0.5" stroke-linejoin="round"/>
<path d="M172.25,742.13 L178.09,744.06 L173.97,741.96 L168.14,740.01 Z" fill="#f6ea13" stroke="#7b7509" stroke-width="0.5" stroke-linejoin="round"/>
<path d="M182.27,746.19 L188.06,748.36 L183.87,746.25 L178.09,744.06 Z" fill="#e0f30c" stroke="#707906" stroke-width="0.5" stroke-linejoin="round"/>
<path d="M192.30,750.50 L198.03,752.91 L193.77,750.79 L188.06,748.36 Z" fill="#afe510" stroke="#587308" stroke-width="0.5" stroke-linejoin="round"/>
<path d="M202.34,755.05 L208.01,757.70 L203.68,755.57 L198.03,752.91 Z" fill="#7dd312" stroke="#3e6909" stroke-width="0.5" stroke-linejoin="round"/>
<path d="M212.39,759.86 L217.99,762.73 L213.60,760.58 L208.01,757.70 Z" fill="#4dc011" stroke="#266008" stroke-width="0.5" stroke-linejoin="round"/>
<path d="M222.44,764.90 L227.98,768.00 L223.52,765.84 L217.99,762.73 Z" fill="#23ac18" stroke="#12560c" stroke-width="0.5" stroke-linejoin="round"/>
<path d="M232.49,770.19 L237.96,773.52 L233.44,771.34 L227.98,768.00 Z" fill="#12a225" stroke="#095113" stroke-width="0.5" stroke-linejoin="round"/>
<path d="M156.27,736.88 L162.24,738.31 L158.20,736.19 L152.25,734.74 Z" fill="#f7be1d" stroke="#7c5f0e" stroke-width="0.5" stroke-linejoin="round"/>
<path d="M166.33,740.45 L172.25,742.13 L168.14,740.01 L162.24,738.31 Z" fill="#f8db17" stroke="#7c6d0c" stroke-width="0.5" stroke-linejoin="round"/>
<path d="M176.41,744.27 L182.27,746.19 L178.09,744.06 L172.25,742.13 Z" fill="#f3ee10" stroke="#7a7708" stroke-width="0.5" stroke-linejoin="round"/>
<path d="M186.50,748.35 L192.30,750.50 L188.06,748.36 L182.27,746.19 Z" fill="#d7f20c" stroke="#6c7906" stroke-width="0.5" stroke-linejoin="round"/>
<path d="M196.60,752.66 L202.34,755.05 L198.03,752.91 L192.30,750.50 Z" fill="#a4e112" stroke="#527109" stroke-width="0.5" stroke-linejoin="round"/>
<path d="M206.71,757.23 L212.39,759.86 L208.01,757.70 L202.34,755.05 Z" fill="#74d011" stroke="#3a6808" stroke-width="0.5" stroke-linejoin="round"/>
<path d="M216.83,762.04 L222.44,764.90 L217.99,762.73 L212.39,759.86 Z" fill="#44bc11" stroke="#225e09" stroke-width="0.5" stroke-linejoin="round"/>
<path d="M226.95,767.10 L232.49,770.19 L227.98,768.00 L222.44,764.90 Z" fill="#21ab1a" stroke="#10550d" stroke-width="0.5" stroke-linejoin="round"/>
<path d="M237.07,772.41 L242.55,775.72 L237.96,773.52 L232.49,770.19 Z" fill="#0fa028" stroke="#085014" stroke-width="0.5" stroke-linejoin="round"/>
<path d="M150.23,735.72 L156.27,736.88 L152.25,734.74 L146.22,733.55 Z" fill="#f6a420" stroke="#7b5210" stroke-width="0.5" stroke-linejoin="round"/>
<path d="M160.34,739.04 L166.33,740.45 L162.24,738.31 L156.27,736.88 Z" fill="#f8c71b" stroke="#7c630e" stroke-width="0.5" stroke-linejoin="round"/>
<path d="M170.47,742.62 L176.41,744.27 L172.25,742.13 L166.33,740.45 Z" fill="#f8e116" stroke="#7c700b" stroke-width="0.5" stroke-linejoin="round"/>
<path d="M180.62,746.45 L186.50,748.35 L182.27,746.19 L176.41,744.27 Z" fill="#f0f20e" stroke="#787907" stroke-width="0.5" stroke-linejoin="round"/>
<path d="M190.78,750.53 L196.60,752.66 L192.30,750.50 L186.50,748.35 Z" fill="#cef00c" stroke="#677806" stroke-width="0.5" stroke-linejoin="round"/>
<path d="M200.96,754.86 L206.71,757.23 L202.34,755.05 L196.60,752.66 Z" fill="#99dd14" stroke="#4c6e0a" stroke-width="0.5" stroke-linejoin="round"/>
<path d="M211.14,759.44 L216.83,762.04 L212.39,759.86 L206.71,757.23 Z" fill="#6bcc10" stroke="#356608" stroke-width="0.5" stroke-linejoin="round"/>
<path d="M221.33,764.26 L226.95,767.10 L222.44,764.90 L216.83,762.04 Z" fill="#3bb812" stroke="#1e5c09" stroke-width="0.5" stroke-linejoin="round"/>
<path d="M231.52,769.33 L237.07,772.41 L232.49,770.19 L226.95,767.10 Z" fill="#1ea91c" stroke="#0f540e" stroke-width="0.5" stroke-linejoin="round"/>
<path d="M241.71,774.65 L247.19,777.95 L242.55,775.72 L237.07,772.41 Z" fill="#0e9f2c" stroke="#075016" stroke-width="0.5" stroke-linejoin="round"/>
<path d="M144.12,734.83 L150.23,735.72 L146.22,733.55 L140.13,732.64 Z" fill="#f48b23" stroke="#7a4511" stroke-width="0.5" stroke-linejoin="round"/>
<path d="M154.29,737.91 L160.34,739.04 L156.27,736.88 L150.23,735.72 Z" fill="#f7b11e" stroke="#7b590f" stroke-width="0.5" stroke-linejoin="round"/>
<path d="M164.47,741.24 L170.47,742.62 L166.33,740.45 L160.34,739.04 Z" fill="#f8d01a" stroke="#7c680d" stroke-width="0.5" stroke-linejoin="round"/>
<path d="M174.68,744.82 L180.62,746.45 L176.41,744.27 L170.47,742.62 Z" fill="#f8e614" stroke="#7c730a" stroke-width="0.5" stroke-linejoin="round"/>
<path d="M184.90,748.66 L190.78,750.53 L186.50,748.35 L180.62,746.45 Z" fill="#ecf50c" stroke="#767a06" stroke-width="0.5" stroke-linejoin="round"/>
<path d="M195.13,752.75 L200.96,754.86 L196.60,752.66 L190.78,750.53 Z" fill="#c2ec0e" stroke="#617607" stroke-width="0.5" stroke-linejoin="round"/>
<path d="M205.37,757.08 L211.14,759.44 L206.71,757.23 L200.96,754.86 Z" fill="#8fd913" stroke="#476d0a" stroke-width="0.5" stroke-linejoin="round"/>
<path d="M215.63,761.67 L221.33,764.26 L216.83,762.04 L211.14,759.44 Z" fill="#62c90f" stroke="#316508" stroke-width="0.5" stroke-linejoin="round"/>
<path d="M225.89,766.51 L231.52,769.33 L226.95,767.10 L221.33,764.26 Z" fill="#33b413" stroke="#195a0a" stroke-width="0.5" stroke-linejoin="round"/>
<path d="M236.15,771.60 L241.71,774.65 L237.07,772.41 L231.52,769.33 Z" fill="#1ba71e" stroke="#0e540f" stroke-width="0.5" stroke-linejoin="round"/>
<path d="M246.41,776.93 L251.90,780.22 L247.19,777.95 L241.71,774.65 Z" fill="#0c9e30" stroke="#064f18" stroke-width="0.5" stroke-linejoin="round"/>
<path d="M137.95,734.23 L144.12,734.83 L140.13,732.64 L133.98,732.01 Z" fill="#f27523" stroke="#793b11" stroke-width="0.5" stroke-linejoin="round"/>
<path d="M148.16,737.05 L154.29,737.91 L150.23,735.72 L144.12,734.83 Z" fill="#f59821" stroke="#7a4c11" stroke-width="0.5" stroke-linejoin="round"/>
<path d="M158.40,740.13 L164.47,741.24 L160.34,739.04 L154.29,737.91 Z" fill="#f7bc1d" stroke="#7c5e0e" stroke-width="0.5" stroke-linejoin="round"/>
<path d="M168.66,743.47 L174.68,744.82 L170.47,742.62 L164.47,741.24 Z" fill="#f8d718" stroke="#7c6c0c" stroke-width="0.5" stroke-linejoin="round"/>
<path d="M178.94,747.06 L184.90,748.66 L180.62,746.45 L174.68,744.82 Z" fill="#f6eb12" stroke="#7b7509" stroke-width="0.5" stroke-linejoin="round"/>
<path d="M189.23,750.90 L195.13,752.75 L190.78,750.53 L184.90,748.66 Z" fill="#e3f30c" stroke="#717a06" stroke-width="0.5" stroke-linejoin="round"/>
<path d="M199.54,754.99 L205.37,757.08 L200.96,754.86 L195.13,752.75 Z" fill="#b6e80f" stroke="#5b7408" stroke-width="0.5" stroke-linejoin="round"/>
<path d="M209.85,759.34 L215.63,761.67 L211.14,759.44 L205.37,757.08 Z" fill="#86d613" stroke="#436b09" stroke-width="0.5" stroke-linejoin="round"/>
<path d="M220.18,763.94 L225.89,766.51 L221.33,764.26 L215.63,761.67 Z" fill="#59c510" stroke="#2d6308" stroke-width="0.5" stroke-linejoin="round"/>
<path d="M131.70,733.91 L137.95,734.23 L133.98,732.01 L127.76,731.65 Z" fill="#ef6420" stroke="#783210" stroke-width="0.5" stroke-linejoin="round"/>
<path d="M230.51,768.79 L236.15,771.60 L231.52,769.33 L225.89,766.51 Z" fill="#2ab014" stroke="#15580a" stroke-width="0.5" stroke-linejoin="round"/>
<path d="M240.85,773.89 L246.41,776.93 L241.71,774.65 L236.15,771.60 Z" fill="#18a620" stroke="#0c5310" stroke-width="0.5" stroke-linejoin="round"/>
<path d="M251.18,779.24 L256.68,782.51 L251.90,780.22 L246.41,776.93 Z" fill="#0a9d34" stroke="#054e1a" stroke-width="0.5" stroke-linejoin="round"/>
<path d="M141.97,736.48 L148.16,737.05 L144.12,734.83 L137.95,734.23 Z" fill="#f38323" stroke="#7a4212" stroke-width="0.5" stroke-linejoin="round"/>
<path d="M152.26,739.31 L158.40,740.13 L154.29,737.91 L148.16,737.05 Z" fill="#f6a620" stroke="#7b5310" stroke-width="0.5" stroke-linejoin="round"/>
<path d="M162.57,742.39 L168.66,743.47 L164.47,741.24 L158.40,740.13 Z" fill="#f8c51b" stroke="#7c630e" stroke-width="0.5" stroke-linejoin="round"/>
<path d="M172.90,745.73 L178.94,747.06 L174.68,744.82 L168.66,743.47 Z" fill="#f8de17" stroke="#7c6f0b" stroke-width="0.5" stroke-linejoin="round"/>
<path d="M183.25,749.32 L189.23,750.90 L184.90,748.66 L178.94,747.06 Z" fill="#f3ef10" stroke="#797708" stroke-width="0.5" stroke-linejoin="round"/>
<path d="M193.62,753.17 L199.54,754.99 L195.13,752.75 L189.23,750.90 Z" fill="#d9f20c" stroke="#6d7906" stroke-width="0.5" stroke-linejoin="round"/>
<path d="M125.40,733.88 L131.70,733.91 L127.76,731.65 L121.47,731.59 Z" fill="#ee561f" stroke="#772b0f" stroke-width="0.5" stroke-linejoin="round"/>
<path d="M204.00,757.27 L209.85,759.34 L205.37,757.08 L199.54,754.99 Z" fill="#abe411" stroke="#557208" stroke-width="0.5" stroke-linejoin="round"/>
<path d="M214.39,761.63 L220.18,763.94 L215.63,761.67 L209.85,759.34 Z" fill="#7dd312" stroke="#3e6909" stroke-width="0.5" stroke-linejoin="round"/>
<path d="M224.79,766.24 L230.51,768.79 L225.89,766.51 L220.18,763.94 Z" fill="#50c110" stroke="#286108" stroke-width="0.5" stroke-linejoin="round"/>
<path d="M135.71,736.19 L141.97,736.48 L137.95,734.23 L131.70,733.91 Z" fill="#f17222" stroke="#793911" stroke-width="0.5" stroke-linejoin="round"/>
<path d="M235.20,771.10 L240.85,773.89 L236.15,771.60 L230.51,768.79 Z" fill="#26ae16" stroke="#13570b" stroke-width="0.5" stroke-linejoin="round"/>
<path d="M245.61,776.21 L251.18,779.24 L246.41,776.93 L240.85,773.89 Z" fill="#16a423" stroke="#0b5211" stroke-width="0.5" stroke-linejoin="round"/>
<path d="M256.02,781.58 L261.52,784.84 L256.68,782.51 L251.18,779.24 Z" fill="#099c38" stroke="#044e1c" stroke-width="0.5" stroke-linejoin="round"/>
<path d="M146.05,738.76 L152.26,739.31 L148.16,737.05 L141.97,736.48 Z" fill="#f49122" stroke="#7a4911" stroke-width="0.5" stroke-linejoin="round"/>
<path d="M156.41,741.59 L162.57,742.39 L158.40,740.13 L152.26,739.31 Z" fill="#f7b31e" stroke="#7b5a0f" stroke-width="0.5" stroke-linejoin="round"/>
<path d="M166.80,744.67 L172.90,745.73 L168.66,743.47 L162.57,742.39 Z" fill="#f8cf1a" stroke="#7c670d" stroke-width="0.5" stroke-linejoin="round"/>
<path d="M177.21,748.01 L183.25,749.32 L178.94,747.06 L172.90,745.73 Z" fill="#f8e415" stroke="#7c720b" stroke-width="0.5" stroke-linejoin="round"/>
<path d="M119.02,734.15 L125.40,733.88 L121.47,731.59 L115.12,731.82 Z" fill="#ec4f1d" stroke="#76270f" stroke-width="0.5" stroke-linejoin="round"/>
<path d="M187.63,751.61 L193.62,753.17 L189.23,750.90 L183.25,749.32 Z" fill="#f0f30d" stroke="#787907" stroke-width="0.5" stroke-linejoin="round"/>
<path d="M198.07,755.47 L204.00,757.27 L199.54,754.99 L193.62,753.17 Z" fill="#cff00c" stroke="#687806" stroke-width="0.5" stroke-linejoin="round"/>
<path d="M129.38,736.20 L135.71,736.19 L131.70,733.91 L125.40,733.88 Z" fill="#f06421" stroke="#783210" stroke-width="0.5" stroke-linejoin="round"/>
<path d="M208.53,759.58 L214.39,761.63 L209.85,759.34 L204.00,757.27 Z" fill="#9fdf13" stroke="#507009" stroke-width="0.5" stroke-linejoin="round"/>
<path d="M219.00,763.94 L224.79,766.24 L220.18,763.94 L214.39,761.63 Z" fill="#74cf11" stroke="#3a6808" stroke-width="0.5" stroke-linejoin="round"/>
<path d="M139.77,738.51 L146.05,738.76 L141.97,736.48 L135.71,736.19 Z" fill="#f38024" stroke="#7a4012" stroke-width="0.5" stroke-linejoin="round"/>
<path d="M229.47,768.57 L235.20,771.10 L230.51,768.79 L224.79,766.24 Z" fill="#47bd11" stroke="#245f09" stroke-width="0.5" stroke-linejoin="round"/>
<path d="M239.95,773.44 L245.61,776.21 L240.85,773.89 L235.20,771.10 Z" fill="#23ac18" stroke="#11560c" stroke-width="0.5" stroke-linejoin="round"/>
<path d="M250.44,778.57 L256.02,781.58 L251.18,779.24 L245.61,776.21 Z" fill="#13a225" stroke="#095112" stroke-width="0.5" stroke-linejoin="round"/>
<path d="M260.92,783.96 L266.43,787.20 L261.52,784.84 L256.02,781.58 Z" fill="#079b3d" stroke="#044d1e" stroke-width="0.5" stroke-linejoin="round"/>
<path d="M150.18,741.08 L156.41,741.59 L152.26,739.31 L146.05,738.76 Z" fill="#f59f20" stroke="#7b4f10" stroke-width="0.5" stroke-linejoin="round"/>
<path d="M160.62,743.91 L166.80,744.67 L162.57,742.39 L156.41,741.59 Z" fill="#f7be1d" stroke="#7c5f0e" stroke-width="0.5" stroke-linejoin="round"/>
<path d="M171.08,746.99 L177.21,748.01 L172.90,745.73 L166.80,744.67 Z" fill="#f8d718" stroke="#7c6b0c" stroke-width="0.5" stroke-linejoin="round"/>
<path d="M112.58,734.72 L119.02,734.15 L115.12,731.82 L108.70,732.35 Z" fill="#eb4b1d" stroke="#76260e" stroke-width="0.5" stroke-linejoin="round"/>
<path d="M181.57,750.33 L187.63,751.61 L183.25,749.32 L177.21,748.01 Z" fill="#f7e913" stroke="#7c750a" stroke-width="0.5" stroke-linejoin="round"/>
<path d="M122.98,736.51 L129.38,736.20 L125.40,733.88 L119.02,734.15 Z" fill="#ee5b1f" stroke="#772d10" stroke-width="0.5" stroke-linejoin="round"/>
<path d="M192.07,753.94 L198.07,755.47 L193.62,753.17 L187.63,751.61 Z" fill="#eaf40c" stroke="#757a06" stroke-width="0.5" stroke-linejoin="round"/>
<path d="M202.59,757.80 L208.53,759.58 L204.00,757.27 L198.07,755.47 Z" fill="#c4ed0d" stroke="#627607" stroke-width="0.5" stroke-linejoin="round"/>
<path d="M133.42,738.55 L139.77,738.51 L135.71,736.19 L129.38,736.20 Z" fill="#f27323" stroke="#793911" stroke-width="0.5" stroke-linejoin="round"/>
<path d="M213.12,761.92 L219.00,763.94 L214.39,761.63 L208.53,759.58 Z" fill="#94db14" stroke="#4a6e0a" stroke-width="0.5" stroke-linejoin="round"/>
<path d="M223.66,766.29 L229.47,768.57 L224.79,766.24 L219.00,763.94 Z" fill="#6acc10" stroke="#356608" stroke-width="0.5" stroke-linejoin="round"/>
<path d="M143.88,740.86 L150.18,741.08 L146.05,738.76 L139.77,738.51 Z" fill="#f48e22" stroke="#7a4711" stroke-width="0.5" stroke-linejoin="round"/>
<path d="M234.21,770.93 L239.95,773.44 L235.20,771.10 L229.47,768.57 Z" fill="#3eb912" stroke="#1f5d09" stroke-width="0.5" stroke-linejoin="round"/>
<path d="M244.77,775.82 L250.44,778.57 L245.61,776.21 L239.95,773.44 Z" fill="#20aa1a" stroke="#10550d" stroke-width="0.5" stroke-linejoin="round"/>
<path d="M255.33,780.96 L260.92,783.96 L256.02,781.58 L250.44,778.57 Z" fill="#10a127" stroke="#085014" stroke-width="0.5" stroke-linejoin="round"/>
<path d="M265.89,786.36 L271.40,789.59 L266.43,787.20 L260.92,783.96 Z" fill="#069a41" stroke="#034d20" stroke-width="0.5" stroke-linejoin="round"/>
<path d="M154.37,743.43 L160.62,743.91 L156.41,741.59 L150.18,741.08 Z" fill="#f6ad1f" stroke="#7b560f" stroke-width="0.5" stroke-linejoin="round"/>
<path d="M106.08,735.59 L112.58,734.72 L108.70,732.35 L102.22,733.19 Z" fill="#eb4a1c" stroke="#75250e" stroke-width="0.5" stroke-linejoin="round"/>
<path d="M164.89,746.25 L171.08,746.99 L166.80,744.67 L160.62,743.91 Z" fill="#f8c71b" stroke="#7c640e" stroke-width="0.5" stroke-linejoin="round"/>
<path d="M175.43,749.34 L181.57,750.33 L177.21,748.01 L171.08,746.99 Z" fill="#f8dd17" stroke="#7c6e0b" stroke-width="0.5" stroke-linejoin="round"/>
<path d="M116.52,737.11 L122.98,736.51 L119.02,734.15 L112.58,734.72 Z" fill="#ed551e" stroke="#772b0f" stroke-width="0.5" stroke-linejoin="round"/>
<path d="M185.99,752.69 L192.07,753.94 L187.63,751.61 L181.57,750.33 Z" fill="#f4ed11" stroke="#7a7708" stroke-width="0.5" stroke-linejoin="round"/>
<path d="M127.00,738.90 L133.42,738.55 L129.38,736.20 L122.98,736.51 Z" fill="#f06a21" stroke="#783511" stroke-width="0.5" stroke-linejoin="round"/>
<path d="M196.57,756.30 L202.59,757.80 L198.07,755.47 L192.07,753.94 Z" fill="#e1f30c" stroke="#707906" stroke-width="0.5" stroke-linejoin="round"/>
<path d="M207.17,760.16 L213.12,761.92 L208.53,759.58 L202.59,757.80 Z" fill="#b8e80f" stroke="#5c7408" stroke-width="0.5" stroke-linejoin="round"/>
<path d="M137.51,740.94 L143.88,740.86 L139.77,738.51 L133.42,738.55 Z" fill="#f38124" stroke="#7a4112" stroke-width="0.5" stroke-linejoin="round"/>
<path d="M217.78,764.29 L223.66,766.29 L219.00,763.94 L213.12,761.92 Z" fill="#8bd813" stroke="#456c09" stroke-width="0.5" stroke-linejoin="round"/>
<path d="M228.40,768.68 L234.21,770.93 L229.47,768.57 L223.66,766.29 Z" fill="#61c90f" stroke="#316408" stroke-width="0.5" stroke-linejoin="round"/>
<path d="M148.05,743.24 L154.37,743.43 L150.18,741.08 L143.88,740.86 Z" fill="#f59c21" stroke="#7b4e10" stroke-width="0.5" stroke-linejoin="round"/>
<path d="M239.03,773.32 L244.77,775.82 L239.95,773.44 L234.21,770.93 Z" fill="#35b513" stroke="#1b5b09" stroke-width="0.5" stroke-linejoin="round"/>
<path d="M99.51,736.78 L106.08,735.59 L102.22,733.19 L95.68,734.33 Z" fill="#eb4b1d" stroke="#75250e" stroke-width="0.5" stroke-linejoin="round"/>
<path d="M249.66,778.23 L255.33,780.96 L250.44,778.57 L244.77,775.82 Z" fill="#1da91d" stroke="#0f540e" stroke-width="0.5" stroke-linejoin="round"/>
<path d="M260.30,783.39 L265.89,786.36 L260.92,783.96 L255.33,780.96 Z" fill="#0e9f2b" stroke="#075015" stroke-width="0.5" stroke-linejoin="round"/>
<path d="M270.93,788.81 L276.45,792.02 L271.40,789.59 L265.89,786.36 Z" fill="#049945" stroke="#024c23" stroke-width="0.5" stroke-linejoin="round"/>
<path d="M158.62,745.81 L164.89,746.25 L160.62,743.91 L154.37,743.43 Z" fill="#f7b91d" stroke="#7c5d0f" stroke-width="0.5" stroke-linejoin="round"/>
<path d="M110.00,738.03 L116.52,737.11 L112.58,734.72 L106.08,735.59 Z" fill="#ed531e" stroke="#772a0f" stroke-width="0.5" stroke-linejoin="round"/>
<path d="M169.22,748.63 L175.43,749.34 L171.08,746.99 L164.89,746.25 Z" fill="#f8d11a" stroke="#7c680d" stroke-width="0.5" stroke-linejoin="round"/>
<path d="M179.84,751.72 L185.99,752.69 L181.57,750.33 L175.43,749.34 Z" fill="#f8e315" stroke="#7c720b" stroke-width="0.5" stroke-linejoin="round"/>
<path d="M120.52,739.54 L127.00,738.90 L122.98,736.51 L116.52,737.11 Z" fill="#f06421" stroke="#783210" stroke-width="0.5" stroke-linejoin="round"/>
<path d="M190.48,755.07 L196.57,756.30 L192.07,753.94 L185.99,752.69 Z" fill="#f1f10e" stroke="#797807" stroke-width="0.5" stroke-linejoin="round"/>
<path d="M131.07,741.32 L137.51,740.94 L133.42,738.55 L127.00,738.90 Z" fill="#f27823" stroke="#793c12" stroke-width="0.5" stroke-linejoin="round"/>
<path d="M201.14,758.69 L207.17,760.16 L202.59,757.80 L196.57,756.30 Z" fill="#d7f10c" stroke="#6b7906" stroke-width="0.5" stroke-linejoin="round"/>
<path d="M92.88,738.28 L99.51,736.78 L95.68,734.33 L89.07,735.78 Z" fill="#ec4e1d" stroke="#76270f" stroke-width="0.5" stroke-linejoin="round"/>
<path d="M211.81,762.56 L217.78,764.29 L213.12,761.92 L207.17,760.16 Z" fill="#ace411" stroke="#567208" stroke-width="0.5" stroke-linejoin="round"/>
<path d="M141.66,743.36 L148.05,743.24 L143.88,740.86 L137.51,740.94 Z" fill="#f49022" stroke="#7a4811" stroke-width="0.5" stroke-linejoin="round"/>
<path d="M222.50,766.70 L228.40,768.68 L223.66,766.29 L217.78,764.29 Z" fill="#81d412" stroke="#416a09" stroke-width="0.5" stroke-linejoin="round"/>
<path d="M233.20,771.10 L239.03,773.32 L234.21,770.93 L228.40,768.68 Z" fill="#58c510" stroke="#2c6208" stroke-width="0.5" stroke-linejoin="round"/>
<path d="M152.28,745.66 L158.62,745.81 L154.37,743.43 L148.05,743.24 Z" fill="#f6aa1f" stroke="#7b5510" stroke-width="0.5" stroke-linejoin="round"/>
<path d="M103.40,739.26 L110.00,738.03 L106.08,735.59 L99.51,736.78 Z" fill="#ed551e" stroke="#772b0f" stroke-width="0.5" stroke-linejoin="round"/>
<path d="M243.91,775.75 L249.66,778.23 L244.77,775.82 L239.03,773.32 Z" fill="#2db114" stroke="#16590a" stroke-width="0.5" stroke-linejoin="round"/>
<path d="M254.62,780.67 L260.30,783.39 L255.33,780.96 L249.66,778.23 Z" fill="#1aa71f" stroke="#0d530f" stroke-width="0.5" stroke-linejoin="round"/>
<path d="M265.33,785.85 L270.93,788.81 L265.89,786.36 L260.30,783.39 Z" fill="#0c9e2f" stroke="#064f17" stroke-width="0.5" stroke-linejoin="round"/>
<path d="M162.93,748.22 L169.22,748.63 L164.89,746.25 L158.62,745.81 Z" fill="#f7c31c" stroke="#7c610e" stroke-width="0.5" stroke-linejoin="round"/>
<path d="M276.05,791.28 L281.57,794.48 L276.45,792.02 L270.93,788.81 Z" fill="#02984a" stroke="#014c25" stroke-width="0.5" stroke-linejoin="round"/>
<path d="M113.97,740.50 L120.52,739.54 L116.52,737.11 L110.00,738.03 Z" fill="#ef6320" stroke="#783110" stroke-width="0.5" stroke-linejoin="round"/>
<path d="M173.61,751.05 L179.84,751.72 L175.43,749.34 L169.22,748.63 Z" fill="#f8d818" stroke="#7c6c0c" stroke-width="0.5" stroke-linejoin="round"/>
<path d="M124.57,742.01 L131.07,741.32 L127.00,738.90 L120.52,739.54 Z" fill="#f27323" stroke="#793a11" stroke-width="0.5" stroke-linejoin="round"/>
<path d="M184.31,754.14 L190.48,755.07 L185.99,752.69 L179.84,751.72 Z" fill="#f7e914" stroke="#7c740a" stroke-width="0.5" stroke-linejoin="round"/>
<path d="M86.19,740.10 L92.88,738.28 L89.07,735.78 L82.41,737.55 Z" fill="#ed551e" stroke="#772a0f" stroke-width="0.5" stroke-linejoin="round"/>
<path d="M195.03,757.49 L201.14,758.69 L196.57,756.30 L190.48,755.07 Z" fill="#eef50c" stroke="#777a06" stroke-width="0.5" stroke-linejoin="round"/>
<path d="M135.20,743.78 L141.66,743.36 L137.51,740.94 L131.07,741.32 Z" fill="#f48723" stroke="#7a4411" stroke-width="0.5" stroke-linejoin="round"/>
<path d="M205.77,761.11 L211.81,762.56 L207.17,760.16 L201.14,758.69 Z" fill="#cdf00c" stroke="#677806" stroke-width="0.5" stroke-linejoin="round"/>
<path d="M96.75,740.80 L103.40,739.26 L99.51,736.78 L92.88,738.28 Z" fill="#ee5b1f" stroke="#772e10" stroke-width="0.5" stroke-linejoin="round"/>
<path d="M216.52,764.99 L222.50,766.70 L217.78,764.29 L211.81,762.56 Z" fill="#a0e013" stroke="#507009" stroke-width="0.5" stroke-linejoin="round"/>
<path d="M145.87,745.81 L152.28,745.66 L148.05,743.24 L141.66,743.36 Z" fill="#f59e21" stroke="#7b4f10" stroke-width="0.5" stroke-linejoin="round"/>
<path d="M227.29,769.14 L233.20,771.10 L228.40,768.68 L222.50,766.70 Z" fill="#78d111" stroke="#3c6909" stroke-width="0.5" stroke-linejoin="round"/>
<path d="M238.07,773.55 L243.91,775.75 L239.03,773.32 L233.20,771.10 Z" fill="#4fc110" stroke="#286008" stroke-width="0.5" stroke-linejoin="round"/>
<path d="M156.58,748.11 L162.93,748.22 L158.62,745.81 L152.28,745.66 Z" fill="#f7b81e" stroke="#7c5c0f" stroke-width="0.5" stroke-linejoin="round"/>
<path d="M107.35,741.77 L113.97,740.50 L110.00,738.03 L103.40,739.26 Z" fill="#f06521" stroke="#783210" stroke-width="0.5" stroke-linejoin="round"/>
<path d="M248.86,778.22 L254.62,780.67 L249.66,778.23 L243.91,775.75 Z" fill="#27ae15" stroke="#13570b" stroke-width="0.5" stroke-linejoin="round"/>
<path d="M259.65,783.15 L265.33,785.85 L260.30,783.39 L254.62,780.67 Z" fill="#18a521" stroke="#0c5311" stroke-width="0.5" stroke-linejoin="round"/>
<path d="M270.44,788.34 L276.05,791.28 L270.93,788.81 L265.33,785.85 Z" fill="#0b9d33" stroke="#054f1a" stroke-width="0.5" stroke-linejoin="round"/>
<path d="M167.31,750.67 L173.61,751.05 L169.22,748.63 L162.93,748.22 Z" fill="#f8cd1a" stroke="#7c660d" stroke-width="0.5" stroke-linejoin="round"/>
<path d="M281.24,793.80 L286.76,796.97 L281.57,794.48 L276.05,791.28 Z" fill="#01974e" stroke="#004b27" stroke-width="0.5" stroke-linejoin="round"/>
<path d="M117.99,743.01 L124.57,742.01 L120.52,739.54 L113.97,740.50 Z" fill="#f17222" stroke="#793911" stroke-width="0.5" stroke-linejoin="round"/>
<path d="M178.06,753.50 L184.31,754.14 L179.84,751.72 L173.61,751.05 Z" fill="#f8de16" stroke="#7c6f0b" stroke-width="0.5" stroke-linejoin="round"/>
<path d="M128.68,744.51 L135.20,743.78 L131.07,741.32 L124.57,742.01 Z" fill="#f38223" stroke="#7a4112" stroke-width="0.5" stroke-linejoin="round"/>
<path d="M188.84,756.59 L195.03,757.49 L190.48,755.07 L184.31,754.14 Z" fill="#f4ed11" stroke="#7a7609" stroke-width="0.5" stroke-linejoin="round"/>
<path d="M90.03,742.67 L96.75,740.80 L92.88,738.28 L86.19,740.10 Z" fill="#f06521" stroke="#783310" stroke-width="0.5" stroke-linejoin="round"/>
<path d="M199.65,759.95 L205.77,761.11 L201.14,758.69 L195.03,757.49 Z" fill="#e4f40c" stroke="#727a06" stroke-width="0.5" stroke-linejoin="round"/>
<path d="M139.39,746.27 L145.87,745.81 L141.66,743.36 L135.20,743.78 Z" fill="#f59621" stroke="#7a4b11" stroke-width="0.5" stroke-linejoin="round"/>
<path d="M210.47,763.57 L216.52,764.99 L211.81,762.56 L205.77,761.11 Z" fill="#c1ec0e" stroke="#607607" stroke-width="0.5" stroke-linejoin="round"/>
<path d="M100.67,743.37 L107.35,741.77 L103.40,739.26 L96.75,740.80 Z" fill="#f16b22" stroke="#783611" stroke-width="0.5" stroke-linejoin="round"/>
<path d="M221.30,767.46 L227.29,769.14 L222.50,766.70 L216.52,764.99 Z" fill="#95dc14" stroke="#4a6e0a" stroke-width="0.5" stroke-linejoin="round"/>
<path d="M150.15,748.30 L156.58,748.11 L152.28,745.66 L145.87,745.81 Z" fill="#f6ad1f" stroke="#7b560f" stroke-width="0.5" stroke-linejoin="round"/>
<path d="M232.15,771.62 L238.07,773.55 L233.20,771.10 L227.29,769.14 Z" fill="#6fce10" stroke="#376708" stroke-width="0.5" stroke-linejoin="round"/>
<path d="M243.01,776.04 L248.86,778.22 L243.91,775.75 L238.07,773.55 Z" fill="#46bd11" stroke="#235e09" stroke-width="0.5" stroke-linejoin="round"/>
<path d="M160.93,750.59 L167.31,750.67 L162.93,748.22 L156.58,748.11 Z" fill="#f7c21c" stroke="#7c610e" stroke-width="0.5" stroke-linejoin="round"/>
<path d="M111.35,744.33 L117.99,743.01 L113.97,740.50 L107.35,741.77 Z" fill="#f27523" stroke="#793a11" stroke-width="0.5" stroke-linejoin="round"/>
<path d="M253.88,780.72 L259.65,783.15 L254.62,780.67 L248.86,778.22 Z" fill="#24ac17" stroke="#12560c" stroke-width="0.5" stroke-linejoin="round"/>
<path d="M264.75,785.67 L270.44,788.34 L265.33,785.85 L259.65,783.15 Z" fill="#15a423" stroke="#0a5212" stroke-width="0.5" stroke-linejoin="round"/>
<path d="M275.63,790.87 L281.24,793.80 L276.05,791.28 L270.44,788.34 Z" fill="#099c38" stroke="#054e1c" stroke-width="0.5" stroke-linejoin="round"/>
<path d="M171.74,753.15 L178.06,753.50 L173.61,751.05 L167.31,750.67 Z" fill="#f8d619" stroke="#7c6b0c" stroke-width="0.5" stroke-linejoin="round"/>
<path d="M286.50,796.34 L292.03,799.51 L286.76,796.97 L281.24,793.80 Z" fill="#009554" stroke="#004a2a" stroke-width="0.5" stroke-linejoin="round"/>
<path d="M122.08,745.55 L128.68,744.51 L124.57,742.01 L117.99,743.01 Z" fill="#f38124" stroke="#7a4112" stroke-width="0.5" stroke-linejoin="round"/>
<path d="M182.58,755.98 L188.84,756.59 L184.31,754.14 L178.06,753.50 Z" fill="#f8e515" stroke="#7c720a" stroke-width="0.5" stroke-linejoin="round"/>
<path d="M132.84,747.04 L139.39,746.27 L135.20,743.78 L128.68,744.51 Z" fill="#f49122" stroke="#7a4911" stroke-width="0.5" stroke-linejoin="round"/>
<path d="M193.44,759.08 L199.65,759.95 L195.03,757.49 L188.84,756.59 Z" fill="#f1f10f" stroke="#797807" stroke-width="0.5" stroke-linejoin="round"/>
<path d="M93.93,745.29 L100.67,743.37 L96.75,740.80 L90.03,742.67 Z" fill="#f27523" stroke="#793b11" stroke-width="0.5" stroke-linejoin="round"/>
<path d="M204.33,762.44 L210.47,763.57 L205.77,761.11 L199.65,759.95 Z" fill="#daf20c" stroke="#6d7906" stroke-width="0.5" stroke-linejoin="round"/>
<path d="M143.64,748.80 L150.15,748.30 L145.87,745.81 L139.39,746.27 Z" fill="#f6a420" stroke="#7b5210" stroke-width="0.5" stroke-linejoin="round"/>
<path d="M215.23,766.07 L221.30,767.46 L216.52,764.99 L210.47,763.57 Z" fill="#b5e710" stroke="#5a7408" stroke-width="0.5" stroke-linejoin="round"/>
<path d="M104.65,745.97 L111.35,744.33 L107.35,741.77 L100.67,743.37 Z" fill="#f37b24" stroke="#793e12" stroke-width="0.5" stroke-linejoin="round"/>
<path d="M226.15,769.97 L232.15,771.62 L227.29,769.14 L221.30,767.46 Z" fill="#8bd813" stroke="#466c0a" stroke-width="0.5" stroke-linejoin="round"/>
<path d="M154.48,750.82 L160.93,750.59 L156.58,748.11 L150.15,748.30 Z" fill="#f7b91d" stroke="#7c5d0f" stroke-width="0.5" stroke-linejoin="round"/>
<path d="M237.08,774.13 L243.01,776.04 L238.07,773.55 L232.15,771.62 Z" fill="#65ca10" stroke="#336508" stroke-width="0.5" stroke-linejoin="round"/>
<path d="M248.02,778.56 L253.88,780.72 L248.86,778.22 L243.01,776.04 Z" fill="#3db812" stroke="#1e5c09" stroke-width="0.5" stroke-linejoin="round"/>
<path d="M165.35,753.11 L171.74,753.15 L167.31,750.67 L160.93,750.59 Z" fill="#f8cc1a" stroke="#7c660d" stroke-width="0.5" stroke-linejoin="round"/>
<path d="M115.41,746.92 L122.08,745.55 L117.99,743.01 L111.35,744.33 Z" fill="#f48423" stroke="#7a4212" stroke-width="0.5" stroke-linejoin="round"/>
<path d="M258.97,783.26 L264.75,785.67 L259.65,783.15 L253.88,780.72 Z" fill="#21ab1a" stroke="#10550d" stroke-width="0.5" stroke-linejoin="round"/>
<path d="M269.93,788.22 L275.63,790.87 L270.44,788.34 L264.75,785.67 Z" fill="#12a226" stroke="#095113" stroke-width="0.5" stroke-linejoin="round"/>
<path d="M280.89,793.44 L286.50,796.34 L281.24,793.80 L275.63,790.87 Z" fill="#079b3c" stroke="#044d1e" stroke-width="0.5" stroke-linejoin="round"/>
<path d="M176.24,755.67 L182.58,755.98 L178.06,753.50 L171.74,753.15 Z" fill="#f8dc17" stroke="#7c6e0b" stroke-width="0.5" stroke-linejoin="round"/>
<path d="M291.84,798.93 L297.37,802.08 L292.03,799.51 L286.50,796.34 Z" fill="#00935d" stroke="#00492e" stroke-width="0.5" stroke-linejoin="round"/>
<path d="M126.22,748.13 L132.84,747.04 L128.68,744.51 L122.08,745.55 Z" fill="#f49122" stroke="#7a4811" stroke-width="0.5" stroke-linejoin="round"/>
<path d="M187.16,758.50 L193.44,759.08 L188.84,756.59 L182.58,755.98 Z" fill="#f6ea13" stroke="#7b7509" stroke-width="0.5" stroke-linejoin="round"/>
<path d="M137.07,749.61 L143.64,748.80 L139.39,746.27 L132.84,747.04 Z" fill="#f5a020" stroke="#7b5010" stroke-width="0.5" stroke-linejoin="round"/>
<path d="M198.11,761.60 L204.33,762.44 L199.65,759.95 L193.44,759.08 Z" fill="#eef50c" stroke="#777a06" stroke-width="0.5" stroke-linejoin="round"/>
<path d="M97.88,747.94 L104.65,745.97 L100.67,743.37 L93.93,745.29 Z" fill="#f48523" stroke="#7a4312" stroke-width="0.5" stroke-linejoin="round"/>
<path d="M209.08,764.96 L215.23,766.07 L210.47,763.57 L204.33,762.44 Z" fill="#d0f00c" stroke="#687806" stroke-width="0.5" stroke-linejoin="round"/>
<path d="M147.95,751.36 L154.48,750.82 L150.15,748.30 L143.64,748.80 Z" fill="#f7b31e" stroke="#7b5a0f" stroke-width="0.5" stroke-linejoin="round"/>
<path d="M220.06,768.60 L226.15,769.97 L221.30,767.46 L215.23,766.07 Z" fill="#a8e311" stroke="#547109" stroke-width="0.5" stroke-linejoin="round"/>
<path d="M108.68,748.61 L115.41,746.92 L111.35,744.33 L104.65,745.97 Z" fill="#f48b23" stroke="#7a4511" stroke-width="0.5" stroke-linejoin="round"/>
<path d="M231.07,772.51 L237.08,774.13 L232.15,771.62 L226.15,769.97 Z" fill="#82d512" stroke="#416a09" stroke-width="0.5" stroke-linejoin="round"/>
<path d="M158.87,753.38 L165.35,753.11 L160.93,750.59 L154.48,750.82 Z" fill="#f7c41c" stroke="#7c620e" stroke-width="0.5" stroke-linejoin="round"/>
<path d="M242.08,776.68 L248.02,778.56 L243.01,776.04 L237.08,774.13 Z" fill="#5cc70f" stroke="#2e6308" stroke-width="0.5" stroke-linejoin="round"/>
<path d="M253.11,781.12 L258.97,783.26 L253.88,780.72 L248.02,778.56 Z" fill="#34b413" stroke="#1a5a09" stroke-width="0.5" stroke-linejoin="round"/>
<path d="M119.53,749.54 L126.22,748.13 L122.08,745.55 L115.41,746.92 Z" fill="#f59422" stroke="#7a4a11" stroke-width="0.5" stroke-linejoin="round"/>
<path d="M169.82,755.67 L176.24,755.67 L171.74,753.15 L165.35,753.11 Z" fill="#f8d519" stroke="#7c6a0c" stroke-width="0.5" stroke-linejoin="round"/>
<path d="M264.14,785.83 L269.93,788.22 L264.75,785.67 L258.97,783.26 Z" fill="#1ea91c" stroke="#0f540e" stroke-width="0.5" stroke-linejoin="round"/>
<path d="M275.18,790.81 L280.89,793.44 L275.63,790.87 L269.93,788.22 Z" fill="#0fa028" stroke="#085014" stroke-width="0.5" stroke-linejoin="round"/>
<path d="M180.81,758.23 L187.16,758.50 L182.58,755.98 L176.24,755.67 Z" fill="#f8e215" stroke="#7c710b" stroke-width="0.5" stroke-linejoin="round"/>
<path d="M286.22,796.05 L291.84,798.93 L286.50,796.34 L280.89,793.44 Z" fill="#069a41" stroke="#034d20" stroke-width="0.5" stroke-linejoin="round"/>
<path d="M130.42,750.75 L137.07,749.61 L132.84,747.04 L126.22,748.13 Z" fill="#f5a020" stroke="#7b5010" stroke-width="0.5" stroke-linejoin="round"/>
<path d="M191.81,761.06 L198.11,761.60 L193.44,759.08 L187.16,758.50 Z" fill="#f3ee10" stroke="#7a7708" stroke-width="0.5" stroke-linejoin="round"/>
<path d="M141.36,752.22 L147.95,751.36 L143.64,748.80 L137.07,749.61 Z" fill="#f7af1f" stroke="#7b580f" stroke-width="0.5" stroke-linejoin="round"/>
<path d="M202.84,764.16 L209.08,764.96 L204.33,762.44 L198.11,761.60 Z" fill="#e4f30c" stroke="#727a06" stroke-width="0.5" stroke-linejoin="round"/>
<path d="M101.88,750.63 L108.68,748.61 L104.65,745.97 L97.88,747.94 Z" fill="#f59621" stroke="#7a4b11" stroke-width="0.5" stroke-linejoin="round"/>
<path d="M213.90,767.53 L220.06,768.60 L215.23,766.07 L209.08,764.96 Z" fill="#c5ed0d" stroke="#627607" stroke-width="0.5" stroke-linejoin="round"/>
<path d="M152.33,753.96 L158.87,753.38 L154.48,750.82 L147.95,751.36 Z" fill="#f7be1d" stroke="#7c5f0e" stroke-width="0.5" stroke-linejoin="round"/>
<path d="M224.97,771.17 L231.07,772.51 L226.15,769.97 L220.06,768.60 Z" fill="#9cde13" stroke="#4e6f0a" stroke-width="0.5" stroke-linejoin="round"/>
<path d="M112.77,751.28 L119.53,749.54 L115.41,746.92 L108.68,748.61 Z" fill="#f59b21" stroke="#7b4d10" stroke-width="0.5" stroke-linejoin="round"/>
<path d="M236.06,775.08 L242.08,776.68 L237.08,774.13 L231.07,772.51 Z" fill="#78d111" stroke="#3c6909" stroke-width="0.5" stroke-linejoin="round"/>
<path d="M163.33,755.98 L169.82,755.67 L165.35,753.11 L158.87,753.38 Z" fill="#f8ce1a" stroke="#7c670d" stroke-width="0.5" stroke-linejoin="round"/>
<path d="M247.16,779.27 L253.11,781.12 L248.02,778.56 L242.08,776.68 Z" fill="#52c210" stroke="#296108" stroke-width="0.5" stroke-linejoin="round"/>
<path d="M123.71,752.21 L130.42,750.75 L126.22,748.13 L119.53,749.54 Z" fill="#f6a320" stroke="#7b5210" stroke-width="0.5" stroke-linejoin="round"/>
<path d="M258.27,783.72 L264.14,785.83 L258.97,783.26 L253.11,781.12 Z" fill="#2bb014" stroke="#15580a" stroke-width="0.5" stroke-linejoin="round"/>
<path d="M174.37,758.26 L180.81,758.23 L176.24,755.67 L169.82,755.67 Z" fill="#f8dc17" stroke="#7c6e0c" stroke-width="0.5" stroke-linejoin="round"/>
<path d="M269.39,788.44 L275.18,790.81 L269.93,788.22 L264.14,785.83 Z" fill="#1ba71e" stroke="#0e540f" stroke-width="0.5" stroke-linejoin="round"/>
<path d="M280.51,793.43 L286.22,796.05 L280.89,793.44 L275.18,790.81 Z" fill="#0d9f2c" stroke="#074f16" stroke-width="0.5" stroke-linejoin="round"/>
<path d="M185.44,760.82 L191.81,761.06 L187.16,758.50 L180.81,758.23 Z" fill="#f8e914" stroke="#7c740a" stroke-width="0.5" stroke-linejoin="round"/>
<path d="M134.69,753.40 L141.36,752.22 L137.07,749.61 L130.42,750.75 Z" fill="#f7af1f" stroke="#7b580f" stroke-width="0.5" stroke-linejoin="round"/>
<path d="M196.53,763.65 L202.84,764.16 L198.11,761.60 L191.81,761.06 Z" fill="#f0f20e" stroke="#787907" stroke-width="0.5" stroke-linejoin="round"/>
<path d="M145.71,754.87 L152.33,753.96 L147.95,751.36 L141.36,752.22 Z" fill="#f7bc1d" stroke="#7c5e0f" stroke-width="0.5" stroke-linejoin="round"/>
<path d="M207.65,766.75 L213.90,767.53 L209.08,764.96 L202.84,764.16 Z" fill="#daf20c" stroke="#6d7906" stroke-width="0.5" stroke-linejoin="round"/>
<path d="M105.95,753.35 L112.77,751.28 L108.68,748.61 L101.88,750.63 Z" fill="#f6a620" stroke="#7b5310" stroke-width="0.5" stroke-linejoin="round"/>
<path d="M218.79,770.13 L224.97,771.17 L220.06,768.60 L213.90,767.53 Z" fill="#b8e80f" stroke="#5c7408" stroke-width="0.5" stroke-linejoin="round"/>
<path d="M156.77,756.60 L163.33,755.98 L158.87,753.38 L152.33,753.96 Z" fill="#f8c91b" stroke="#7c640d" stroke-width="0.5" stroke-linejoin="round"/>
<path d="M229.95,773.78 L236.06,775.08 L231.07,772.51 L224.97,771.17 Z" fill="#91da14" stroke="#496d0a" stroke-width="0.5" stroke-linejoin="round"/>
<path d="M116.93,754.00 L123.71,752.21 L119.53,749.54 L112.77,751.28 Z" fill="#f6ab1f" stroke="#7b5510" stroke-width="0.5" stroke-linejoin="round"/>
<path d="M167.86,758.61 L174.37,758.26 L169.82,755.67 L163.33,755.98 Z" fill="#f8d718" stroke="#7c6b0c" stroke-width="0.5" stroke-linejoin="round"/>
<path d="M241.12,777.70 L247.16,779.27 L242.08,776.68 L236.06,775.08 Z" fill="#6ece10" stroke="#376708" stroke-width="0.5" stroke-linejoin="round"/>
<path d="M252.31,781.89 L258.27,783.72 L253.11,781.12 L247.16,779.27 Z" fill="#49be11" stroke="#255f08" stroke-width="0.5" stroke-linejoin="round"/>
<path d="M127.95,754.91 L134.69,753.40 L130.42,750.75 L123.71,752.21 Z" fill="#f7b31e" stroke="#7b590f" stroke-width="0.5" stroke-linejoin="round"/>
<path d="M178.98,760.90 L185.44,760.82 L180.81,758.23 L174.37,758.26 Z" fill="#f8e215" stroke="#7c710b" stroke-width="0.5" stroke-linejoin="round"/>
<path d="M263.51,786.36 L269.39,788.44 L264.14,785.83 L258.27,783.72 Z" fill="#26ae16" stroke="#13570b" stroke-width="0.5" stroke-linejoin="round"/>
<path d="M274.71,791.09 L280.51,793.43 L275.18,790.81 L269.39,788.44 Z" fill="#18a521" stroke="#0c5310" stroke-width="0.5" stroke-linejoin="round"/>
<path d="M190.14,763.45 L196.53,763.65 L191.81,761.06 L185.44,760.82 Z" fill="#f4ed11" stroke="#7a7609" stroke-width="0.5" stroke-linejoin="round"/>
<path d="M139.02,756.09 L145.71,754.87 L141.36,752.22 L134.69,753.40 Z" fill="#f7bc1d" stroke="#7c5e0f" stroke-width="0.5" stroke-linejoin="round"/>
<path d="M201.32,766.28 L207.65,766.75 L202.84,764.16 L196.53,763.65 Z" fill="#eaf40c" stroke="#757a06" stroke-width="0.5" stroke-linejoin="round"/>
<path d="M150.12,757.55 L156.77,756.60 L152.33,753.96 L145.71,754.87 Z" fill="#f8c61b" stroke="#7c630e" stroke-width="0.5" stroke-linejoin="round"/>
<path d="M212.52,769.39 L218.79,770.13 L213.90,767.53 L207.65,766.75 Z" fill="#d0f00c" stroke="#687806" stroke-width="0.5" stroke-linejoin="round"/>
<path d="M110.08,756.12 L116.93,754.00 L112.77,751.28 L105.95,753.35 Z" fill="#f7b61e" stroke="#7b5b0f" stroke-width="0.5" stroke-linejoin="round"/>
<path d="M223.75,772.77 L229.95,773.78 L224.97,771.17 L218.79,770.13 Z" fill="#ace411" stroke="#567208" stroke-width="0.5" stroke-linejoin="round"/>
<path d="M161.27,759.28 L167.86,758.61 L163.33,755.98 L156.77,756.60 Z" fill="#f8d319" stroke="#7c690d" stroke-width="0.5" stroke-linejoin="round"/>
<path d="M235.00,776.42 L241.12,777.70 L236.06,775.08 L229.95,773.78 Z" fill="#87d713" stroke="#446b09" stroke-width="0.5" stroke-linejoin="round"/>
<path d="M121.14,756.75 L127.95,754.91 L123.71,752.21 L116.93,754.00 Z" fill="#f7b91d" stroke="#7c5d0f" stroke-width="0.5" stroke-linejoin="round"/>
<path d="M172.45,761.29 L178.98,760.90 L174.37,758.26 L167.86,758.61 Z" fill="#f8dd17" stroke="#7c6f0b" stroke-width="0.5" stroke-linejoin="round"/>
<path d="M246.26,780.35 L252.31,781.89 L247.16,779.27 L241.12,777.70 Z" fill="#65ca10" stroke="#326508" stroke-width="0.5" stroke-linejoin="round"/>
<path d="M257.54,784.56 L263.51,786.36 L258.27,783.72 L252.31,781.89 Z" fill="#40ba12" stroke="#205d09" stroke-width="0.5" stroke-linejoin="round"/>
<path d="M132.25,757.65 L139.02,756.09 L134.69,753.40 L127.95,754.91 Z" fill="#f7bf1d" stroke="#7c5f0e" stroke-width="0.5" stroke-linejoin="round"/>
<path d="M183.66,763.57 L190.14,763.45 L185.44,760.82 L178.98,760.90 Z" fill="#f8e914" stroke="#7c740a" stroke-width="0.5" stroke-linejoin="round"/>
<path d="M268.82,789.03 L274.71,791.09 L269.39,788.44 L263.51,786.36 Z" fill="#23ac18" stroke="#11560c" stroke-width="0.5" stroke-linejoin="round"/>
<path d="M194.91,766.12 L201.32,766.28 L196.53,763.65 L190.14,763.45 Z" fill="#f1f10e" stroke="#797907" stroke-width="0.5" stroke-linejoin="round"/>
<path d="M143.41,758.83 L150.12,757.55 L145.71,754.87 L139.02,756.09 Z" fill="#f8c71b" stroke="#7c630e" stroke-width="0.5" stroke-linejoin="round"/>
<path d="M206.18,768.96 L212.52,769.39 L207.65,766.75 L201.32,766.28 Z" fill="#e0f30c" stroke="#707906" stroke-width="0.5" stroke-linejoin="round"/>
<path d="M154.60,760.28 L161.27,759.28 L156.77,756.60 L150.12,757.55 Z" fill="#f8d11a" stroke="#7c680d" stroke-width="0.5" stroke-linejoin="round"/>
<path d="M217.47,772.06 L223.75,772.77 L218.79,770.13 L212.52,769.39 Z" fill="#c3ed0d" stroke="#627607" stroke-width="0.5" stroke-linejoin="round"/>
<path d="M114.26,758.93 L121.14,756.75 L116.93,754.00 L110.08,756.12 Z" fill="#f7c11c" stroke="#7c610e" stroke-width="0.5" stroke-linejoin="round"/>
<path d="M228.79,775.45 L235.00,776.42 L229.95,773.78 L223.75,772.77 Z" fill="#9fdf13" stroke="#4f7009" stroke-width="0.5" stroke-linejoin="round"/>
<path d="M165.84,762.00 L172.45,761.29 L167.86,758.61 L161.27,759.28 Z" fill="#f8da17" stroke="#7c6d0c" stroke-width="0.5" stroke-linejoin="round"/>
<path d="M240.13,779.11 L246.26,780.35 L241.12,777.70 L235.00,776.42 Z" fill="#7dd312" stroke="#3f6a09" stroke-width="0.5" stroke-linejoin="round"/>
<path d="M125.42,759.55 L132.25,757.65 L127.95,754.91 L121.14,756.75 Z" fill="#f7c41c" stroke="#7c620e" stroke-width="0.5" stroke-linejoin="round"/>
<path d="M177.11,764.00 L183.66,763.57 L178.98,760.90 L172.45,761.29 Z" fill="#f8e415" stroke="#7c720b" stroke-width="0.5" stroke-linejoin="round"/>
<path d="M251.48,783.05 L257.54,784.56 L252.31,781.89 L246.26,780.35 Z" fill="#5bc60f" stroke="#2e6308" stroke-width="0.5" stroke-linejoin="round"/>
<path d="M262.84,787.26 L268.82,789.03 L263.51,786.36 L257.54,784.56 Z" fill="#36b613" stroke="#1b5b09" stroke-width="0.5" stroke-linejoin="round"/>
<path d="M136.62,760.44 L143.41,758.83 L139.02,756.09 L132.25,757.65 Z" fill="#f8ca1b" stroke="#7c650d" stroke-width="0.5" stroke-linejoin="round"/>
<path d="M188.41,766.28 L194.91,766.12 L190.14,763.45 L183.66,763.57 Z" fill="#f4ed11" stroke="#7a7609" stroke-width="0.5" stroke-linejoin="round"/>
<path d="M199.75,768.84 L206.18,768.96 L201.32,766.28 L194.91,766.12 Z" fill="#edf50c" stroke="#777a06" stroke-width="0.5" stroke-linejoin="round"/>
<path d="M147.87,761.60 L154.60,760.28 L150.12,757.55 L143.41,758.83 Z" fill="#f8d119" stroke="#7c690d" stroke-width="0.5" stroke-linejoin="round"/>
<path d="M211.11,771.67 L217.47,772.06 L212.52,769.39 L206.18,768.96 Z" fill="#d6f10c" stroke="#6b7906" stroke-width="0.5" stroke-linejoin="round"/>
<path d="M159.15,763.04 L165.84,762.00 L161.27,759.28 L154.60,760.28 Z" fill="#f8d918" stroke="#7c6c0c" stroke-width="0.5" stroke-linejoin="round"/>
<path d="M222.50,774.78 L228.79,775.45 L223.75,772.77 L217.47,772.06 Z" fill="#b7e80f" stroke="#5b7408" stroke-width="0.5" stroke-linejoin="round"/>
<path d="M118.51,761.78 L125.42,759.55 L121.14,756.75 L114.26,758.93 Z" fill="#f8cc1a" stroke="#7c660d" stroke-width="0.5" stroke-linejoin="round"/>
<path d="M233.90,778.17 L240.13,779.11 L235.00,776.42 L228.79,775.45 Z" fill="#93db14" stroke="#4a6d0a" stroke-width="0.5" stroke-linejoin="round"/>
<path d="M170.48,764.76 L177.11,764.00 L172.45,761.29 L165.84,762.00 Z" fill="#f8e116" stroke="#7c700b" stroke-width="0.5" stroke-linejoin="round"/>
<path d="M245.33,781.84 L251.48,783.05 L246.26,780.35 L240.13,779.11 Z" fill="#74d011" stroke="#3a6808" stroke-width="0.5" stroke-linejoin="round"/>
<path d="M129.76,762.39 L136.62,760.44 L132.25,757.65 L125.42,759.55 Z" fill="#f8cf1a" stroke="#7c680d" stroke-width="0.5" stroke-linejoin="round"/>
<path d="M181.84,766.76 L188.41,766.28 L183.66,763.57 L177.11,764.00 Z" fill="#f7ea13" stroke="#7b7509" stroke-width="0.5" stroke-linejoin="round"/>
<path d="M256.77,785.78 L262.84,787.26 L257.54,784.56 L251.48,783.05 Z" fill="#52c210" stroke="#296108" stroke-width="0.5" stroke-linejoin="round"/>
<path d="M141.05,763.26 L147.87,761.60 L143.41,758.83 L136.62,760.44 Z" fill="#f8d419" stroke="#7c6a0c" stroke-width="0.5" stroke-linejoin="round"/>
<path d="M193.24,769.03 L199.75,768.84 L194.91,766.12 L188.41,766.28 Z" fill="#f1f10e" stroke="#797907" stroke-width="0.5" stroke-linejoin="round"/>
<path d="M204.66,771.59 L211.11,771.67 L206.18,768.96 L199.75,768.84 Z" fill="#e3f30c" stroke="#717a06" stroke-width="0.5" stroke-linejoin="round"/>
<path d="M152.39,764.42 L159.15,763.04 L154.60,760.28 L147.87,761.60 Z" fill="#f8d918" stroke="#7c6d0c" stroke-width="0.5" stroke-linejoin="round"/>
<path d="M216.12,774.42 L222.50,774.78 L217.47,772.06 L211.11,771.67 Z" fill="#cbef0c" stroke="#657806" stroke-width="0.5" stroke-linejoin="round"/>
<path d="M163.77,765.85 L170.48,764.76 L165.84,762.00 L159.15,763.04 Z" fill="#f8e016" stroke="#7c700b" stroke-width="0.5" stroke-linejoin="round"/>
<path d="M227.60,777.54 L233.90,778.17 L228.79,775.45 L222.50,774.78 Z" fill="#aae311" stroke="#557209" stroke-width="0.5" stroke-linejoin="round"/>
<path d="M122.82,764.68 L129.76,762.39 L125.42,759.55 L118.51,761.78 Z" fill="#f8d618" stroke="#7c6b0c" stroke-width="0.5" stroke-linejoin="round"/>
<path d="M239.10,780.93 L245.33,781.84 L240.13,779.11 L233.90,778.17 Z" fill="#89d713" stroke="#456c09" stroke-width="0.5" stroke-linejoin="round"/>
<path d="M175.19,767.56 L181.84,766.76 L177.11,764.00 L170.48,764.76 Z" fill="#f8e814" stroke="#7c740a" stroke-width="0.5" stroke-linejoin="round"/>
<path d="M134.16,765.27 L141.05,763.26 L136.62,760.44 L129.76,762.39 Z" fill="#f8d818" stroke="#7c6c0c" stroke-width="0.5" stroke-linejoin="round"/>
<path d="M250.62,784.61 L256.77,785.78 L251.48,783.05 L245.33,781.84 Z" fill="#6acc10" stroke="#356608" stroke-width="0.5" stroke-linejoin="round"/>
<path d="M186.64,769.55 L193.24,769.03 L188.41,766.28 L181.84,766.76 Z" fill="#f3ee10" stroke="#7a7708" stroke-width="0.5" stroke-linejoin="round"/>
<path d="M145.55,766.13 L152.39,764.42 L147.87,761.60 L141.05,763.26 Z" fill="#f8dc17" stroke="#7c6e0c" stroke-width="0.5" stroke-linejoin="round"/>
<path d="M198.13,771.83 L204.66,771.59 L199.75,768.84 L193.24,769.03 Z" fill="#edf50c" stroke="#777a06" stroke-width="0.5" stroke-linejoin="round"/>
<path d="M209.65,774.38 L216.12,774.42 L211.11,771.67 L204.66,771.59 Z" fill="#d8f20c" stroke="#6c7906" stroke-width="0.5" stroke-linejoin="round"/>
<path d="M156.98,767.28 L163.77,765.85 L159.15,763.04 L152.39,764.42 Z" fill="#f8e016" stroke="#7c700b" stroke-width="0.5" stroke-linejoin="round"/>
<path d="M221.20,777.22 L227.60,777.54 L222.50,774.78 L216.12,774.42 Z" fill="#beea0e" stroke="#5f7507" stroke-width="0.5" stroke-linejoin="round"/>
<path d="M168.46,768.70 L175.19,767.56 L170.48,764.76 L163.77,765.85 Z" fill="#f8e714" stroke="#7c730a" stroke-width="0.5" stroke-linejoin="round"/>
<path d="M127.20,767.62 L134.16,765.27 L129.76,762.39 L122.82,764.68 Z" fill="#f8de16" stroke="#7c6f0b" stroke-width="0.5" stroke-linejoin="round"/>
<path d="M232.77,780.33 L239.10,780.93 L233.90,778.17 L227.60,777.54 Z" fill="#9ddf13" stroke="#4f6f09" stroke-width="0.5" stroke-linejoin="round"/>
<path d="M244.37,783.73 L250.62,784.61 L245.33,781.84 L239.10,780.93 Z" fill="#7fd412" stroke="#406a09" stroke-width="0.5" stroke-linejoin="round"/>
<path d="M179.97,770.41 L186.64,769.55 L181.84,766.76 L175.19,767.56 Z" fill="#f5ec11" stroke="#7a7609" stroke-width="0.5" stroke-linejoin="round"/>
<path d="M138.64,768.19 L145.55,766.13 L141.05,763.26 L134.16,765.27 Z" fill="#f8e016" stroke="#7c700b" stroke-width="0.5" stroke-linejoin="round"/>
<path d="M191.52,772.39 L198.13,771.83 L193.24,769.03 L186.64,769.55 Z" fill="#f0f30e" stroke="#787907" stroke-width="0.5" stroke-linejoin="round"/>
<path d="M150.12,769.04 L156.98,767.28 L152.39,764.42 L145.55,766.13 Z" fill="#f8e315" stroke="#7c710b" stroke-width="0.5" stroke-linejoin="round"/>
<path d="M203.10,774.66 L209.65,774.38 L204.66,771.59 L198.13,771.83 Z" fill="#e2f30c" stroke="#717a06" stroke-width="0.5" stroke-linejoin="round"/>
<path d="M214.72,777.22 L221.20,777.22 L216.12,774.42 L209.65,774.38 Z" fill="#cdf00c" stroke="#677806" stroke-width="0.5" stroke-linejoin="round"/>
<path d="M161.64,770.18 L168.46,768.70 L163.77,765.85 L156.98,767.28 Z" fill="#f8e814" stroke="#7c740a" stroke-width="0.5" stroke-linejoin="round"/>
<path d="M226.36,780.05 L232.77,780.33 L227.60,777.54 L221.20,777.22 Z" fill="#b1e610" stroke="#587308" stroke-width="0.5" stroke-linejoin="round"/>
<path d="M173.21,771.60 L179.97,770.41 L175.19,767.56 L168.46,768.70 Z" fill="#f5ec12" stroke="#7b7609" stroke-width="0.5" stroke-linejoin="round"/>
<path d="M131.65,770.60 L138.64,768.19 L134.16,765.27 L127.20,767.62 Z" fill="#f8e615" stroke="#7c730a" stroke-width="0.5" stroke-linejoin="round"/>
<path d="M238.03,783.18 L244.37,783.73 L239.10,780.93 L232.77,780.33 Z" fill="#91da14" stroke="#496d0a" stroke-width="0.5" stroke-linejoin="round"/>
<path d="M184.82,773.30 L191.52,772.39 L186.64,769.55 L179.97,770.41 Z" fill="#f1f10f" stroke="#797807" stroke-width="0.5" stroke-linejoin="round"/>
<path d="M143.18,771.16 L150.12,769.04 L145.55,766.13 L138.64,768.19 Z" fill="#f8e714" stroke="#7c740a" stroke-width="0.5" stroke-linejoin="round"/>
<path d="M196.47,775.28 L203.10,774.66 L198.13,771.83 L191.52,772.39 Z" fill="#e9f40c" stroke="#757a06" stroke-width="0.5" stroke-linejoin="round"/>
<path d="M154.75,772.00 L161.64,770.18 L156.98,767.28 L150.12,769.04 Z" fill="#f7e913" stroke="#7b750a" stroke-width="0.5" stroke-linejoin="round"/>
<path d="M208.15,777.55 L214.72,777.22 L209.65,774.38 L203.10,774.66 Z" fill="#d7f20c" stroke="#6c7906" stroke-width="0.5" stroke-linejoin="round"/>
<path d="M219.86,780.10 L226.36,780.05 L221.20,777.22 L214.72,777.22 Z" fill="#c0eb0e" stroke="#607607" stroke-width="0.5" stroke-linejoin="round"/>
<path d="M166.38,773.13 L173.21,771.60 L168.46,768.70 L161.64,770.18 Z" fill="#f5ec11" stroke="#7a7609" stroke-width="0.5" stroke-linejoin="round"/>
<path d="M231.60,782.94 L238.03,783.18 L232.77,780.33 L226.36,780.05 Z" fill="#a3e112" stroke="#527009" stroke-width="0.5" stroke-linejoin="round"/>
<path d="M178.04,774.53 L184.82,773.30 L179.97,770.41 L173.21,771.60 Z" fill="#f2f00f" stroke="#797807" stroke-width="0.5" stroke-linejoin="round"/>
<path d="M136.16,773.63 L143.18,771.16 L138.64,768.19 L131.65,770.60 Z" fill="#f5eb12" stroke="#7b7609" stroke-width="0.5" stroke-linejoin="round"/>
<path d="M189.75,776.23 L196.47,775.28 L191.52,772.39 L184.82,773.30 Z" fill="#edf50c" stroke="#777a06" stroke-width="0.5" stroke-linejoin="round"/>
<path d="M147.79,774.17 L154.75,772.00 L150.12,769.04 L143.18,771.16 Z" fill="#f5ec11" stroke="#7a7609" stroke-width="0.5" stroke-linejoin="round"/>
<path d="M201.50,778.21 L208.15,777.55 L203.10,774.66 L196.47,775.28 Z" fill="#def30c" stroke="#6f7906" stroke-width="0.5" stroke-linejoin="round"/>
<path d="M159.46,775.00 L166.38,773.13 L161.64,770.18 L154.75,772.00 Z" fill="#f3ee10" stroke="#7a7708" stroke-width="0.5" stroke-linejoin="round"/>
<path d="M213.28,780.47 L219.86,780.10 L214.72,777.22 L208.15,777.55 Z" fill="#ccf00c" stroke="#667806" stroke-width="0.5" stroke-linejoin="round"/>
<path d="M225.09,783.02 L231.60,782.94 L226.36,780.05 L219.86,780.10 Z" fill="#b3e610" stroke="#597308" stroke-width="0.5" stroke-linejoin="round"/>
<path d="M171.19,776.12 L178.04,774.53 L173.21,771.60 L166.38,773.13 Z" fill="#f1f10e" stroke="#797807" stroke-width="0.5" stroke-linejoin="round"/>
<path d="M182.95,777.52 L189.75,776.23 L184.82,773.30 L178.04,774.53 Z" fill="#eef50c" stroke="#777a06" stroke-width="0.5" stroke-linejoin="round"/>
<path d="M140.74,776.70 L147.79,774.17 L143.18,771.16 L136.16,773.63 Z" fill="#f2f00f" stroke="#797807" stroke-width="0.5" stroke-linejoin="round"/>
<path d="M194.76,779.21 L201.50,778.21 L196.47,775.28 L189.75,776.23 Z" fill="#e2f30c" stroke="#717a06" stroke-width="0.5" stroke-linejoin="round"/>
<path d="M152.47,777.24 L159.46,775.00 L154.75,772.00 L147.79,774.17 Z" fill="#f1f10e" stroke="#797907" stroke-width="0.5" stroke-linejoin="round"/>
<path d="M206.60,781.18 L213.28,780.47 L208.15,777.55 L201.50,778.21 Z" fill="#d3f10c" stroke="#697806" stroke-width="0.5" stroke-linejoin="round"/>
<path d="M164.25,778.05 L171.19,776.12 L166.38,773.13 L159.46,775.00 Z" fill="#f0f30d" stroke="#787907" stroke-width="0.5" stroke-linejoin="round"/>
<path d="M218.48,783.44 L225.09,783.02 L219.86,780.10 L213.28,780.47 Z" fill="#bfeb0e" stroke="#5f7507" stroke-width="0.5" stroke-linejoin="round"/>
<path d="M176.07,779.16 L182.95,777.52 L178.04,774.53 L171.19,776.12 Z" fill="#ecf50c" stroke="#767a06" stroke-width="0.5" stroke-linejoin="round"/>
<path d="M187.93,780.55 L194.76,779.21 L189.75,776.23 L182.95,777.52 Z" fill="#e3f30c" stroke="#717a06" stroke-width="0.5" stroke-linejoin="round"/>
<path d="M145.40,779.83 L152.47,777.24 L147.79,774.17 L140.74,776.70 Z" fill="#eef50c" stroke="#777a06" stroke-width="0.5" stroke-linejoin="round"/>
<path d="M199.84,782.23 L206.60,781.18 L201.50,778.21 L194.76,779.21 Z" fill="#d7f10c" stroke="#6b7906" stroke-width="0.5" stroke-linejoin="round"/>
<path d="M157.23,780.35 L164.25,778.05 L159.46,775.00 L152.47,777.24 Z" fill="#ecf50c" stroke="#767a06" stroke-width="0.5" stroke-linejoin="round"/>
<path d="M211.79,784.20 L218.48,783.44 L213.28,780.47 L206.60,781.18 Z" fill="#c7ee0d" stroke="#637706" stroke-width="0.5" stroke-linejoin="round"/>
<path d="M169.10,781.15 L176.07,779.16 L171.19,776.12 L164.25,778.05 Z" fill="#e8f40c" stroke="#747a06" stroke-width="0.5" stroke-linejoin="round"/>
<path d="M181.03,782.25 L187.93,780.55 L182.95,777.52 L176.07,779.16 Z" fill="#e1f30c" stroke="#707906" stroke-width="0.5" stroke-linejoin="round"/>
<path d="M193.00,783.63 L199.84,782.23 L194.76,779.21 L187.93,780.55 Z" fill="#d7f20c" stroke="#6c7906" stroke-width="0.5" stroke-linejoin="round"/>
<path d="M150.13,783.00 L157.23,780.35 L152.47,777.24 L145.40,779.83 Z" fill="#e1f30c" stroke="#717a06" stroke-width="0.5" stroke-linejoin="round"/>
<path d="M205.01,785.30 L211.79,784.20 L206.60,781.18 L199.84,782.23 Z" fill="#cbef0c" stroke="#657806" stroke-width="0.5" stroke-linejoin="round"/>
<path d="M162.06,783.50 L169.10,781.15 L164.25,778.05 L157.23,780.35 Z" fill="#e0f30c" stroke="#707906" stroke-width="0.5" stroke-linejoin="round"/>
<path d="M174.04,784.30 L181.03,782.25 L176.07,779.16 L169.10,781.15 Z" fill="#dcf20c" stroke="#6e7906" stroke-width="0.5" stroke-linejoin="round"/>
<path d="M186.07,785.38 L193.00,783.63 L187.93,780.55 L181.03,782.25 Z" fill="#d5f10c" stroke="#6a7906" stroke-width="0.5" stroke-linejoin="round"/>
<path d="M198.14,786.76 L205.01,785.30 L199.84,782.23 L193.00,783.63 Z" fill="#cbef0c" stroke="#667806" stroke-width="0.5" stroke-linejoin="round"/>
<path d="M154.93,786.22 L162.06,783.50 L157.23,780.35 L150.13,783.00 Z" fill="#d5f10c" stroke="#6a7906" stroke-width="0.5" stroke-linejoin="round"/>
<path d="M166.96,786.71 L174.04,784.30 L169.10,781.15 L162.06,783.50 Z" fill="#d4f10c" stroke="#6a7806" stroke-width="0.5" stroke-linejoin="round"/>
<path d="M179.05,787.49 L186.07,785.38 L181.03,782.25 L174.04,784.30 Z" fill="#d0f00c" stroke="#687806" stroke-width="0.5" stroke-linejoin="round"/>
<path d="M191.18,788.57 L198.14,786.76 L193.00,783.63 L186.07,785.38 Z" fill="#c8ee0d" stroke="#647706" stroke-width="0.5" stroke-linejoin="round"/>
<path d="M159.81,789.50 L166.96,786.71 L162.06,783.50 L154.93,786.22 Z" fill="#c7ee0d" stroke="#647706" stroke-width="0.5" stroke-linejoin="round"/>
<path d="M171.95,789.97 L179.05,787.49 L174.04,784.30 L166.96,786.71 Z" fill="#c6ed0d" stroke="#637707" stroke-width="0.5" stroke-linejoin="round"/>
<path d="M184.14,790.74 L191.18,788.57 L186.07,785.38 L179.05,787.49 Z" fill="#c1ec0e" stroke="#617607" stroke-width="0.5" stroke-linejoin="round"/>
<path d="M164.77,792.82 L171.95,789.97 L166.96,786.71 L159.81,789.50 Z" fill="#b8e80f" stroke="#5c7408" stroke-width="0.5" stroke-linejoin="round"/>
<path d="M177.02,793.29 L184.14,790.74 L179.05,787.49 L171.95,789.97 Z" fill="#b7e80f" stroke="#5b7408" stroke-width="0.5" stroke-linejoin="round"/>
<path d="M169.81,796.20 L177.02,793.29 L171.95,789.97 L164.77,792.82 Z" fill="#a8e311" stroke="#547109" stroke-width="0.5" stroke-linejoin="round"/>
<circle cx="169.50" cy="794.40" r="2.6" fill="#c00000" stroke="#700" stroke-width="0.4"/>
<circle cx="297.20" cy="800.90" r="2.6" fill="#c00000" stroke="#700" stroke-width="0.4"/>
<text x="21.10" y="706.90" font-size="16" class="pl" textLength="17.80" lengthAdjust="spacingAndGlyphs">(e)</text>
<path d="M444.00,715.30 L566.15,701.50 L663.10,721.60" fill="none" stroke="#3a3a3a" stroke-width="0.8"/>
<path d="M444.62,737.16 L566.07,721.39 L662.28,744.26" fill="none" stroke="#3a3a3a" stroke-width="0.8"/>
<path d="M445.25,759.01 L565.98,741.29 L661.46,766.92" fill="none" stroke="#3a3a3a" stroke-width="0.8"/>
<path d="M445.87,780.87 L565.90,761.18 L660.64,789.58" fill="none" stroke="#3a3a3a" stroke-width="0.8"/>
<path d="M446.49,802.72 L565.82,781.07 L659.81,812.25" fill="none" stroke="#3a3a3a" stroke-width="0.8"/>
<path d="M447.12,824.58 L565.73,800.97 L658.99,834.91" fill="none" stroke="#3a3a3a" stroke-width="0.8"/>
<line x1="444.00" y1="715.30" x2="448.10" y2="859.00" stroke="#444" stroke-width="0.8"/>
<line x1="464.36" y1="713.00" x2="466.89" y2="820.64" stroke="#7a7a7a" stroke-width="0.8"/>
<line x1="484.72" y1="710.70" x2="486.66" y2="816.71" stroke="#7a7a7a" stroke-width="0.8"/>
<line x1="505.07" y1="708.40" x2="506.42" y2="812.77" stroke="#7a7a7a" stroke-width="0.8"/>
<line x1="525.43" y1="706.10" x2="526.19" y2="808.84" stroke="#7a7a7a" stroke-width="0.8"/>
<line x1="545.79" y1="703.80" x2="545.96" y2="804.90" stroke="#7a7a7a" stroke-width="0.8"/>
<line x1="566.15" y1="701.50" x2="565.60" y2="832.30" stroke="#7a7a7a" stroke-width="0.8"/>
<line x1="663.10" y1="721.60" x2="657.70" y2="870.60" stroke="#7a7a7a" stroke-width="0.8"/>
<line x1="638.86" y1="716.58" x2="635.68" y2="826.42" stroke="#7a7a7a" stroke-width="0.8"/>
<line x1="614.62" y1="711.55" x2="612.36" y2="817.94" stroke="#7a7a7a" stroke-width="0.8"/>
<line x1="590.39" y1="706.52" x2="589.05" y2="809.45" stroke="#7a7a7a" stroke-width="0.8"/>
<line x1="566.15" y1="701.50" x2="565.60" y2="832.30" stroke="#7a7a7a" stroke-width="0.8"/>
<circle cx="444.00" cy="715.30" r="1.1" fill="#111"/>
<text x="440.60" y="715.00" font-size="6.5" class="tk" text-anchor="end">-10</text>
<circle cx="444.62" cy="737.16" r="1.1" fill="#111"/>
<text x="441.22" y="736.86" font-size="6.5" class="tk" text-anchor="end">-20</text>
<circle cx="445.25" cy="759.01" r="1.1" fill="#111"/>
<text x="441.85" y="758.71" font-size="6.5" class="tk" text-anchor="end">-30</text>
<circle cx="445.87" cy="780.87" r="1.1" fill="#111"/>
<text x="442.47" y="780.57" font-size="6.5" class="tk" text-anchor="end">-40</text>
<circle cx="446.49" cy="802.72" r="1.1" fill="#111"/>
<text x="443.09" y="802.42" font-size="6.5" class="tk" text-anchor="end">-50</text>
<circle cx="447.12" cy="824.58" r="1.1" fill="#111"/>
<text x="443.72" y="824.28" font-size="6.5" class="tk" text-anchor="end">-60</text>
<text x="411.60" y="782.70" font-size="7.7" class="tk2" text-anchor="middle" textLength="66.40" lengthAdjust="spacingAndGlyphs" transform="rotate(-90 411.60 782.70)">Zeta Potential (mV)</text>
<path d="M532.80,906.90 L657.70,870.60 L565.60,832.30 L448.10,859.00 Z" fill="#666666" stroke="none" stroke-width="1"/>
<path d="M468.78,870.60 L471.13,870.15 L473.43,869.67 L475.67,869.17 L477.86,868.64 L479.98,868.09 L482.05,867.51 L484.04,866.90 L485.92,866.28 L485.98,866.26 L487.84,865.59 L489.63,864.90 L491.35,864.17 L492.49,863.64 L493.00,863.41 L494.56,862.61 L496.04,861.79 L496.12,861.74 L497.44,860.92 L498.62,860.12 L498.76,860.03 L499.98,859.09 L500.48,858.67 L501.11,858.12 L501.93,857.33 L502.14,857.11 L503.08,856.07 L503.08,856.07 L503.91,854.98 L503.98,854.87 L504.64,853.85 L504.71,853.73 L505.26,852.68 L505.28,852.63 L505.72,851.57 L505.77,851.46 L506.06,850.54 L506.16,850.20 L506.30,849.54 L506.43,848.90 L506.47,848.57 L506.57,847.61 L506.57,847.54 L506.59,846.68 L506.59,846.14 L506.57,845.77" fill="none" stroke="#eb7e22" stroke-width="1.1"/>
<path d="M490.54,882.92 L493.20,882.58 L495.82,882.21 L498.38,881.81 L498.63,881.77 L500.89,881.39 L503.33,880.94 L505.72,880.46 L508.05,879.96 L510.32,879.42 L512.52,878.86 L514.64,878.27 L516.70,877.64 L518.68,876.99 L520.59,876.30 L522.42,875.58 L522.48,875.55 L524.16,874.82 L525.82,874.03 L527.39,873.20 L527.57,873.09 L528.87,872.33 L530.26,871.42 L530.57,871.19 L531.54,870.47 L532.66,869.54 L532.73,869.49 L533.81,868.46 L534.18,868.05 L534.78,867.38 L535.33,866.67 L535.64,866.26 L536.22,865.36 L536.38,865.10 L536.88,864.12 L537.00,863.89 L537.38,862.93 L537.49,862.63 L537.73,861.78 L537.86,861.32 L537.97,860.67 L538.09,859.96 L538.12,859.60 L538.18,858.55 L538.18,858.55 L538.15,857.53 L538.13,857.08 L538.07,856.53 L537.93,855.56 L537.93,855.55 L537.73,854.60 L537.58,853.98 L537.49,853.66 L537.21,852.74 L537.07,852.34 L536.88,851.84 L536.53,850.94 L536.40,850.64 L536.14,850.07 L535.72,849.21 L535.56,848.88 L535.27,848.35 L534.81,847.52 L534.54,847.05 L534.32,846.69 L533.80,845.87 L533.34,845.16 L533.27,845.06 L532.72,844.27 L532.16,843.48 L531.95,843.20 L531.57,842.70 L530.97,841.93 L530.37,841.17 L530.37,841.16 L529.74,840.41" fill="none" stroke="#ebcf16" stroke-width="1.1"/>
<path d="M510.25,894.09 L512.34,893.92 L513.21,893.85 L516.13,893.58 L519.00,893.29 L519.48,893.23 L521.81,892.97 L524.57,892.62 L527.28,892.25 L528.10,892.13 L529.92,891.85 L532.51,891.42 L535.03,890.97 L537.48,890.48 L539.87,889.96 L542.19,889.41 L544.43,888.83 L546.59,888.22 L548.67,887.57 L550.67,886.88 L552.59,886.16 L554.41,885.39 L556.14,884.59 L557.09,884.11 L557.78,883.75 L559.31,882.87 L560.74,881.95 L560.92,881.82 L562.07,880.98 L563.28,879.96 L563.30,879.94 L564.37,878.90 L564.92,878.29 L565.35,877.80 L566.11,876.77 L566.20,876.64 L566.92,875.43 L566.96,875.35 L567.50,874.17 L567.56,874.00 L567.95,872.85 L567.98,872.72 L568.25,871.49 L568.25,871.48 L568.38,870.30 L568.41,870.05 L568.41,869.15 L568.40,868.57 L568.36,868.04 L568.24,867.02 L568.23,866.95 L568.02,865.89 L567.91,865.41 L567.75,864.85 L567.44,863.83 L567.41,863.73 L567.07,862.84 L566.73,861.99 L566.67,861.86 L566.22,860.90 L565.86,860.18 L565.74,859.95 L565.22,859.02 L564.80,858.30 L564.68,858.11 L564.11,857.21 L563.55,856.34 L563.52,856.31 L562.90,855.44 L562.27,854.57 L562.08,854.32 L561.62,853.72 L560.94,852.87 L560.40,852.21 L560.26,852.04 L559.55,851.22 L558.84,850.40 L558.50,850.02 L558.11,849.59 L557.37,848.80 L556.62,848.01 L556.37,847.75 L555.85,847.23 L555.08,846.45 L554.30,845.69 L554.00,845.40 L553.51,844.93 L552.71,844.18 L551.91,843.43 L551.39,842.96 L551.10,842.69 L550.28,841.96 L549.46,841.24 L548.63,840.52 L548.52,840.42 L547.79,839.81 L546.95,839.10 L546.11,838.40 L545.38,837.80 L545.27,837.70 L544.42,837.02" fill="none" stroke="#d9eb0c" stroke-width="1.1"/>
<path d="M609.11,884.65 L609.11,883.35 L609.11,883.18 L609.00,882.09 L608.93,881.58 L608.79,880.88 L608.56,879.91 L608.50,879.69 L608.13,878.53 L608.00,878.16 L607.70,877.41 L607.23,876.33 L607.22,876.30 L606.67,875.22 L606.25,874.43 L606.10,874.16 L605.48,873.13 L605.05,872.44 L604.83,872.10 L604.14,871.10 L603.62,870.37 L603.43,870.11 L602.68,869.14 L601.95,868.21 L601.93,868.18 L601.13,867.23 L600.33,866.30 L600.04,865.96 L599.51,865.38 L598.67,864.47 L597.86,863.62 L597.82,863.57 L596.94,862.69 L596.06,861.81 L595.42,861.18 L595.17,860.94 L594.26,860.08 L593.34,859.23 L592.70,858.64 L592.42,858.39 L591.49,857.56 L590.55,856.74 L589.69,856.00 L589.60,855.92 L588.64,855.12 L587.68,854.32 L586.72,853.53 L586.38,853.25 L585.74,852.74 L584.76,851.96 L583.78,851.19 L582.80,850.43 L582.76,850.39 L581.81,849.67 L580.82,848.92 L579.82,848.17 L578.83,847.43 L578.81,847.42 L577.82,846.70 L576.82,845.97 L575.81,845.25 L574.81,844.53 L574.52,844.32 L573.80,843.82 L572.79,843.11 L571.78,842.41 L570.77,841.71 L569.88,841.11 L569.76,841.02 L568.74,840.34 L567.73,839.66 L566.71,838.98 L565.70,838.31 L564.88,837.76 L564.69,837.64 L563.67,836.98 L562.66,836.32 L561.65,835.67 L560.63,835.02 L559.62,834.37 L559.49,834.29 L558.61,833.73" fill="none" stroke="#92eb14" stroke-width="1.1"/>
<path d="M640.68,875.48 L639.57,874.54 L638.45,873.60 L637.47,872.79 L637.34,872.68 L636.20,871.77 L635.06,870.87 L633.92,869.97 L633.72,869.81 L632.77,869.09 L631.62,868.21 L630.46,867.35 L629.59,866.70 L629.30,866.49 L628.12,865.64 L626.95,864.79 L625.78,863.96 L625.07,863.45 L624.61,863.13 L623.42,862.31 L622.24,861.49 L621.06,860.68 L620.14,860.05 L619.88,859.88 L618.69,859.09 L617.51,858.30 L616.32,857.52 L615.14,856.74 L614.78,856.50 L613.95,855.97 L612.76,855.21 L611.57,854.45 L610.39,853.69 L609.20,852.95 L608.97,852.80 L608.01,852.20 L606.83,851.47 L605.64,850.74 L604.46,850.01 L603.28,849.29 L602.69,848.93 L602.10,848.57 L600.92,847.86 L599.74,847.16 L598.56,846.45 L597.39,845.76 L596.22,845.06 L595.93,844.89" fill="none" stroke="#43eb19" stroke-width="1.1"/>
<path d="M448.10,859.00 L532.80,906.90 L657.70,870.60" fill="none" stroke="#111" stroke-width="0.7"/>
<line x1="565.60" y1="832.30" x2="448.10" y2="859.00" stroke="#444" stroke-width="0.5"/>
<line x1="565.60" y1="832.30" x2="657.70" y2="870.60" stroke="#444" stroke-width="0.5"/>
<circle cx="532.80" cy="906.90" r="0.9" fill="#111"/>
<text x="535.90" y="912.60" font-size="6.5" class="tk">2</text>
<circle cx="553.62" cy="900.85" r="0.9" fill="#111"/>
<text x="556.72" y="906.55" font-size="6.5" class="tk">3</text>
<circle cx="574.43" cy="894.80" r="0.9" fill="#111"/>
<text x="577.53" y="900.50" font-size="6.5" class="tk">4</text>
<circle cx="595.25" cy="888.75" r="0.9" fill="#111"/>
<text x="598.35" y="894.45" font-size="6.5" class="tk">5</text>
<circle cx="616.07" cy="882.70" r="0.9" fill="#111"/>
<text x="619.17" y="888.40" font-size="6.5" class="tk">6</text>
<circle cx="636.88" cy="876.65" r="0.9" fill="#111"/>
<text x="639.98" y="882.35" font-size="6.5" class="tk">7</text>
<circle cx="657.70" cy="870.60" r="0.9" fill="#111"/>
<text x="660.80" y="876.30" font-size="6.5" class="tk">8</text>
<circle cx="532.80" cy="906.90" r="0.9" fill="#111"/>
<text x="530.30" y="912.70" font-size="6.5" class="tk" text-anchor="end">10</text>
<circle cx="511.63" cy="894.92" r="0.9" fill="#111"/>
<text x="509.13" y="900.72" font-size="6.5" class="tk" text-anchor="end">15</text>
<circle cx="490.45" cy="882.95" r="0.9" fill="#111"/>
<text x="487.95" y="888.75" font-size="6.5" class="tk" text-anchor="end">20</text>
<circle cx="469.28" cy="870.98" r="0.9" fill="#111"/>
<text x="466.78" y="876.78" font-size="6.5" class="tk" text-anchor="end">25</text>
<circle cx="448.10" cy="859.00" r="0.9" fill="#111"/>
<text x="445.60" y="864.80" font-size="6.5" class="tk" text-anchor="end">30</text>
<text x="446.45" y="898.70" font-size="7.7" class="tk2" text-anchor="middle" textLength="68.40" lengthAdjust="spacingAndGlyphs">C: Glycerol &#160;(% w/v)</text>
<text x="630.90" y="910.40" font-size="7.7" class="tk2" text-anchor="middle" textLength="95.70" lengthAdjust="spacingAndGlyphs">B: Hyaluronic acid &#160;(mg/mL)</text>
<path d="M564.63,752.89 L570.06,755.10 L565.92,753.42 L560.50,751.17 Z" fill="#68cb10" stroke="#346608" stroke-width="0.5" stroke-linejoin="round"/>
<path d="M559.13,750.82 L564.63,752.89 L560.50,751.17 L555.01,749.05 Z" fill="#89d713" stroke="#456c09" stroke-width="0.5" stroke-linejoin="round"/>
<path d="M568.81,754.64 L574.26,756.81 L570.06,755.10 L564.63,752.89 Z" fill="#62c90f" stroke="#316508" stroke-width="0.5" stroke-linejoin="round"/>
<path d="M553.57,748.88 L559.13,750.82 L555.01,749.05 L549.46,747.06 Z" fill="#ade411" stroke="#577208" stroke-width="0.5" stroke-linejoin="round"/>
<path d="M563.30,752.61 L568.81,754.64 L564.63,752.89 L559.13,750.82 Z" fill="#83d512" stroke="#416b09" stroke-width="0.5" stroke-linejoin="round"/>
<path d="M573.05,756.42 L578.51,758.54 L574.26,756.81 L568.81,754.64 Z" fill="#5dc70f" stroke="#2e6308" stroke-width="0.5" stroke-linejoin="round"/>
<path d="M547.93,747.07 L553.57,748.88 L549.46,747.06 L543.84,745.22 Z" fill="#d1f10c" stroke="#697806" stroke-width="0.5" stroke-linejoin="round"/>
<path d="M557.73,750.72 L563.30,752.61 L559.13,750.82 L553.57,748.88 Z" fill="#a5e112" stroke="#537109" stroke-width="0.5" stroke-linejoin="round"/>
<path d="M567.53,754.43 L573.05,756.42 L568.81,754.64 L563.30,752.61 Z" fill="#7dd312" stroke="#3e6909" stroke-width="0.5" stroke-linejoin="round"/>
<path d="M577.35,758.21 L582.82,760.29 L578.51,758.54 L573.05,756.42 Z" fill="#57c410" stroke="#2c6208" stroke-width="0.5" stroke-linejoin="round"/>
<path d="M542.23,745.41 L547.93,747.07 L543.84,745.22 L538.15,743.51 Z" fill="#eef50c" stroke="#777a06" stroke-width="0.5" stroke-linejoin="round"/>
<path d="M552.08,748.96 L557.73,750.72 L553.57,748.88 L547.93,747.07 Z" fill="#caef0c" stroke="#657706" stroke-width="0.5" stroke-linejoin="round"/>
<path d="M561.94,752.58 L567.53,754.43 L563.30,752.61 L557.73,750.72 Z" fill="#9ddf13" stroke="#4e6f09" stroke-width="0.5" stroke-linejoin="round"/>
<path d="M571.82,756.27 L577.35,758.21 L573.05,756.42 L567.53,754.43 Z" fill="#77d111" stroke="#3b6809" stroke-width="0.5" stroke-linejoin="round"/>
<path d="M581.70,760.03 L587.18,762.07 L582.82,760.29 L577.35,758.21 Z" fill="#52c210" stroke="#296108" stroke-width="0.5" stroke-linejoin="round"/>
<path d="M536.47,743.90 L542.23,745.41 L538.15,743.51 L532.40,741.94 Z" fill="#f6eb12" stroke="#7b7509" stroke-width="0.5" stroke-linejoin="round"/>
<path d="M546.37,747.35 L552.08,748.96 L547.93,747.07 L542.23,745.41 Z" fill="#e6f40c" stroke="#737a06" stroke-width="0.5" stroke-linejoin="round"/>
<path d="M556.29,750.87 L561.94,752.58 L557.73,750.72 L552.08,748.96 Z" fill="#c1ec0e" stroke="#607607" stroke-width="0.5" stroke-linejoin="round"/>
<path d="M566.22,754.46 L571.82,756.27 L567.53,754.43 L561.94,752.58 Z" fill="#95dc14" stroke="#4a6e0a" stroke-width="0.5" stroke-linejoin="round"/>
<path d="M576.16,758.13 L581.70,760.03 L577.35,758.21 L571.82,756.27 Z" fill="#71ce11" stroke="#386708" stroke-width="0.5" stroke-linejoin="round"/>
<path d="M586.12,761.88 L591.60,763.87 L587.18,762.07 L581.70,760.03 Z" fill="#4cbf11" stroke="#266008" stroke-width="0.5" stroke-linejoin="round"/>
<path d="M530.64,742.52 L536.47,743.90 L532.40,741.94 L526.58,740.52 Z" fill="#f8dd17" stroke="#7c6f0b" stroke-width="0.5" stroke-linejoin="round"/>
<path d="M540.59,745.88 L546.37,747.35 L542.23,745.41 L536.47,743.90 Z" fill="#f3ee10" stroke="#7a7708" stroke-width="0.5" stroke-linejoin="round"/>
<path d="M550.56,749.30 L556.29,750.87 L552.08,748.96 L546.37,747.35 Z" fill="#def30c" stroke="#6f7906" stroke-width="0.5" stroke-linejoin="round"/>
<path d="M560.55,752.80 L566.22,754.46 L561.94,752.58 L556.29,750.87 Z" fill="#b8e80f" stroke="#5c7408" stroke-width="0.5" stroke-linejoin="round"/>
<path d="M570.55,756.38 L576.16,758.13 L571.82,756.27 L566.22,754.46 Z" fill="#8ed913" stroke="#476d0a" stroke-width="0.5" stroke-linejoin="round"/>
<path d="M580.56,760.02 L586.12,761.88 L581.70,760.03 L576.16,758.13 Z" fill="#6bcc10" stroke="#356608" stroke-width="0.5" stroke-linejoin="round"/>
<path d="M590.59,763.75 L596.08,765.69 L591.60,763.87 L586.12,761.88 Z" fill="#47bd11" stroke="#235e09" stroke-width="0.5" stroke-linejoin="round"/>
<path d="M524.73,741.30 L530.64,742.52 L526.58,740.52 L520.70,739.25 Z" fill="#f8cd1a" stroke="#7c670d" stroke-width="0.5" stroke-linejoin="round"/>
<path d="M534.74,744.56 L540.59,745.88 L536.47,743.90 L530.64,742.52 Z" fill="#f8e315" stroke="#7c710b" stroke-width="0.5" stroke-linejoin="round"/>
<path d="M544.77,747.88 L550.56,749.30 L546.37,747.35 L540.59,745.88 Z" fill="#f1f10e" stroke="#787907" stroke-width="0.5" stroke-linejoin="round"/>
<path d="M554.81,751.29 L560.55,752.80 L556.29,750.87 L550.56,749.30 Z" fill="#d7f10c" stroke="#6b7906" stroke-width="0.5" stroke-linejoin="round"/>
<path d="M564.86,754.76 L570.55,756.38 L566.22,754.46 L560.55,752.80 Z" fill="#afe510" stroke="#587308" stroke-width="0.5" stroke-linejoin="round"/>
<path d="M574.93,758.32 L580.56,760.02 L576.16,758.13 L570.55,756.38 Z" fill="#88d713" stroke="#446b09" stroke-width="0.5" stroke-linejoin="round"/>
<path d="M585.02,761.94 L590.59,763.75 L586.12,761.88 L580.56,760.02 Z" fill="#65ca10" stroke="#326508" stroke-width="0.5" stroke-linejoin="round"/>
<path d="M595.12,765.64 L600.63,767.54 L596.08,765.69 L590.59,763.75 Z" fill="#41ba12" stroke="#205d09" stroke-width="0.5" stroke-linejoin="round"/>
<path d="M518.77,740.23 L524.73,741.30 L520.70,739.25 L514.74,738.12 Z" fill="#f7ba1d" stroke="#7c5d0f" stroke-width="0.5" stroke-linejoin="round"/>
<path d="M528.83,743.39 L534.74,744.56 L530.64,742.52 L524.73,741.30 Z" fill="#f8d519" stroke="#7c6a0c" stroke-width="0.5" stroke-linejoin="round"/>
<path d="M538.90,746.62 L544.77,747.88 L540.59,745.88 L534.74,744.56 Z" fill="#f8e814" stroke="#7c740a" stroke-width="0.5" stroke-linejoin="round"/>
<path d="M549.00,749.92 L554.81,751.29 L550.56,749.30 L544.77,747.88 Z" fill="#eff40c" stroke="#777a06" stroke-width="0.5" stroke-linejoin="round"/>
<path d="M559.11,753.30 L564.86,754.76 L560.55,752.80 L554.81,751.29 Z" fill="#cff00c" stroke="#687806" stroke-width="0.5" stroke-linejoin="round"/>
<path d="M569.24,756.75 L574.93,758.32 L570.55,756.38 L564.86,754.76 Z" fill="#a6e212" stroke="#537109" stroke-width="0.5" stroke-linejoin="round"/>
<path d="M579.38,760.28 L585.02,761.94 L580.56,760.02 L574.93,758.32 Z" fill="#81d412" stroke="#416a09" stroke-width="0.5" stroke-linejoin="round"/>
<path d="M589.54,763.88 L595.12,765.64 L590.59,763.75 L585.02,761.94 Z" fill="#5fc80f" stroke="#2f6408" stroke-width="0.5" stroke-linejoin="round"/>
<path d="M512.73,739.32 L518.77,740.23 L514.74,738.12 L508.72,737.15 Z" fill="#f6a320" stroke="#7b5110" stroke-width="0.5" stroke-linejoin="round"/>
<path d="M599.71,767.56 L605.23,769.41 L600.63,767.54 L595.12,765.64 Z" fill="#3bb812" stroke="#1e5c09" stroke-width="0.5" stroke-linejoin="round"/>
<path d="M522.84,742.37 L528.83,743.39 L524.73,741.30 L518.77,740.23 Z" fill="#f7c31c" stroke="#7c610e" stroke-width="0.5" stroke-linejoin="round"/>
<path d="M532.97,745.50 L538.90,746.62 L534.74,744.56 L528.83,743.39 Z" fill="#f8da17" stroke="#7c6d0c" stroke-width="0.5" stroke-linejoin="round"/>
<path d="M543.12,748.70 L549.00,749.92 L544.77,747.88 L538.90,746.62 Z" fill="#f6eb12" stroke="#7b7609" stroke-width="0.5" stroke-linejoin="round"/>
<path d="M553.29,751.98 L559.11,753.30 L554.81,751.29 L549.00,749.92 Z" fill="#e8f40c" stroke="#747a06" stroke-width="0.5" stroke-linejoin="round"/>
<path d="M563.47,755.34 L569.24,756.75 L564.86,754.76 L559.11,753.30 Z" fill="#c6ee0d" stroke="#637706" stroke-width="0.5" stroke-linejoin="round"/>
<path d="M573.68,758.77 L579.38,760.28 L574.93,758.32 L569.24,756.75 Z" fill="#9edf13" stroke="#4f6f09" stroke-width="0.5" stroke-linejoin="round"/>
<path d="M506.62,738.56 L512.73,739.32 L508.72,737.15 L502.64,736.34 Z" fill="#f48c22" stroke="#7a4611" stroke-width="0.5" stroke-linejoin="round"/>
<path d="M583.89,762.27 L589.54,763.88 L585.02,761.94 L579.38,760.28 Z" fill="#7bd212" stroke="#3d6909" stroke-width="0.5" stroke-linejoin="round"/>
<path d="M594.13,765.85 L599.71,767.56 L595.12,765.64 L589.54,763.88 Z" fill="#59c510" stroke="#2c6308" stroke-width="0.5" stroke-linejoin="round"/>
<path d="M516.79,741.51 L522.84,742.37 L518.77,740.23 L512.73,739.32 Z" fill="#f7b01f" stroke="#7b580f" stroke-width="0.5" stroke-linejoin="round"/>
<path d="M604.37,769.51 L609.90,771.31 L605.23,769.41 L599.71,767.56 Z" fill="#36b513" stroke="#1b5b09" stroke-width="0.5" stroke-linejoin="round"/>
<path d="M526.97,744.54 L532.97,745.50 L528.83,743.39 L522.84,742.37 Z" fill="#f8cb1a" stroke="#7c660d" stroke-width="0.5" stroke-linejoin="round"/>
<path d="M537.17,747.64 L543.12,748.70 L538.90,746.62 L532.97,745.50 Z" fill="#f8e016" stroke="#7c700b" stroke-width="0.5" stroke-linejoin="round"/>
<path d="M547.40,750.82 L553.29,751.98 L549.00,749.92 L543.12,748.70 Z" fill="#f3ef10" stroke="#797708" stroke-width="0.5" stroke-linejoin="round"/>
<path d="M557.64,754.07 L563.47,755.34 L559.11,753.30 L553.29,751.98 Z" fill="#e0f30c" stroke="#707906" stroke-width="0.5" stroke-linejoin="round"/>
<path d="M567.90,757.40 L573.68,758.77 L569.24,756.75 L563.47,755.34 Z" fill="#bdea0e" stroke="#5e7507" stroke-width="0.5" stroke-linejoin="round"/>
<path d="M500.45,737.96 L506.62,738.56 L502.64,736.34 L496.48,735.68 Z" fill="#f27723" stroke="#793b12" stroke-width="0.5" stroke-linejoin="round"/>
<path d="M578.17,760.81 L583.89,762.27 L579.38,760.28 L573.68,758.77 Z" fill="#95dc14" stroke="#4b6e0a" stroke-width="0.5" stroke-linejoin="round"/>
<path d="M510.66,740.81 L516.79,741.51 L512.73,739.32 L506.62,738.56 Z" fill="#f59921" stroke="#7a4d11" stroke-width="0.5" stroke-linejoin="round"/>
<path d="M588.46,764.29 L594.13,765.85 L589.54,763.88 L583.89,762.27 Z" fill="#74d011" stroke="#3a6808" stroke-width="0.5" stroke-linejoin="round"/>
<path d="M598.77,767.85 L604.37,769.51 L599.71,767.56 L594.13,765.85 Z" fill="#53c210" stroke="#296108" stroke-width="0.5" stroke-linejoin="round"/>
<path d="M520.90,743.73 L526.97,744.54 L522.84,742.37 L516.79,741.51 Z" fill="#f7bb1d" stroke="#7c5d0f" stroke-width="0.5" stroke-linejoin="round"/>
<path d="M609.10,771.48 L614.63,773.24 L609.90,771.31 L604.37,769.51 Z" fill="#30b313" stroke="#18590a" stroke-width="0.5" stroke-linejoin="round"/>
<path d="M531.16,746.73 L537.17,747.64 L532.97,745.50 L526.97,744.54 Z" fill="#f8d419" stroke="#7c6a0c" stroke-width="0.5" stroke-linejoin="round"/>
<path d="M541.44,749.81 L547.40,750.82 L543.12,748.70 L537.17,747.64 Z" fill="#f8e515" stroke="#7c730a" stroke-width="0.5" stroke-linejoin="round"/>
<path d="M551.73,752.96 L557.64,754.07 L553.29,751.98 L547.40,750.82 Z" fill="#f0f20e" stroke="#787907" stroke-width="0.5" stroke-linejoin="round"/>
<path d="M562.05,756.19 L567.90,757.40 L563.47,755.34 L557.64,754.07 Z" fill="#d8f20c" stroke="#6c7906" stroke-width="0.5" stroke-linejoin="round"/>
<path d="M494.21,737.53 L500.45,737.96 L496.48,735.68 L490.25,735.19 Z" fill="#f06421" stroke="#783210" stroke-width="0.5" stroke-linejoin="round"/>
<path d="M572.38,759.50 L578.17,760.81 L573.68,758.77 L567.90,757.40 Z" fill="#b4e710" stroke="#5a7308" stroke-width="0.5" stroke-linejoin="round"/>
<path d="M504.47,740.27 L510.66,740.81 L506.62,738.56 L500.45,737.96 Z" fill="#f48523" stroke="#7a4312" stroke-width="0.5" stroke-linejoin="round"/>
<path d="M582.73,762.88 L588.46,764.29 L583.89,762.27 L578.17,760.81 Z" fill="#8ed913" stroke="#476d0a" stroke-width="0.5" stroke-linejoin="round"/>
<path d="M514.76,743.09 L520.90,743.73 L516.79,741.51 L510.66,740.81 Z" fill="#f6a720" stroke="#7b5410" stroke-width="0.5" stroke-linejoin="round"/>
<path d="M593.10,766.34 L598.77,767.85 L594.13,765.85 L588.46,764.29 Z" fill="#6ecd10" stroke="#376708" stroke-width="0.5" stroke-linejoin="round"/>
<path d="M525.07,745.99 L531.16,746.73 L526.97,744.54 L520.90,743.73 Z" fill="#f7c41c" stroke="#7c620e" stroke-width="0.5" stroke-linejoin="round"/>
<path d="M603.49,769.87 L609.10,771.48 L604.37,769.51 L598.77,767.85 Z" fill="#4dc011" stroke="#266008" stroke-width="0.5" stroke-linejoin="round"/>
<path d="M613.88,773.49 L619.43,775.19 L614.63,773.24 L609.10,771.48 Z" fill="#2bb014" stroke="#15580a" stroke-width="0.5" stroke-linejoin="round"/>
<path d="M535.40,748.96 L541.44,749.81 L537.17,747.64 L531.16,746.73 Z" fill="#f8da18" stroke="#7c6d0c" stroke-width="0.5" stroke-linejoin="round"/>
<path d="M545.75,752.01 L551.73,752.96 L547.40,750.82 L541.44,749.81 Z" fill="#f7ea13" stroke="#7b7509" stroke-width="0.5" stroke-linejoin="round"/>
<path d="M487.89,737.26 L494.21,737.53 L490.25,735.19 L483.96,734.86 Z" fill="#ed541e" stroke="#772a0f" stroke-width="0.5" stroke-linejoin="round"/>
<path d="M556.13,755.14 L562.05,756.19 L557.64,754.07 L551.73,752.96 Z" fill="#edf50c" stroke="#777a06" stroke-width="0.5" stroke-linejoin="round"/>
<path d="M566.52,758.34 L572.38,759.50 L567.90,757.40 L562.05,756.19 Z" fill="#cff00c" stroke="#687806" stroke-width="0.5" stroke-linejoin="round"/>
<path d="M498.21,739.90 L504.47,740.27 L500.45,737.96 L494.21,737.53 Z" fill="#f27323" stroke="#793a11" stroke-width="0.5" stroke-linejoin="round"/>
<path d="M576.93,761.62 L582.73,762.88 L578.17,760.81 L572.38,759.50 Z" fill="#aae311" stroke="#557209" stroke-width="0.5" stroke-linejoin="round"/>
<path d="M508.55,742.61 L514.76,743.09 L510.66,740.81 L504.47,740.27 Z" fill="#f59422" stroke="#7a4a11" stroke-width="0.5" stroke-linejoin="round"/>
<path d="M587.36,764.98 L593.10,766.34 L588.46,764.29 L582.73,762.88 Z" fill="#87d713" stroke="#436b09" stroke-width="0.5" stroke-linejoin="round"/>
<path d="M518.91,745.40 L525.07,745.99 L520.90,743.73 L514.76,743.09 Z" fill="#f7b51e" stroke="#7b5a0f" stroke-width="0.5" stroke-linejoin="round"/>
<path d="M597.80,768.42 L603.49,769.87 L598.77,767.85 L593.10,766.34 Z" fill="#67cb10" stroke="#346508" stroke-width="0.5" stroke-linejoin="round"/>
<path d="M529.30,748.27 L535.40,748.96 L531.16,746.73 L525.07,745.99 Z" fill="#f8cd1a" stroke="#7c670d" stroke-width="0.5" stroke-linejoin="round"/>
<path d="M608.26,771.93 L613.88,773.49 L609.10,771.48 L603.49,769.87 Z" fill="#47bd11" stroke="#235e09" stroke-width="0.5" stroke-linejoin="round"/>
<path d="M539.71,751.22 L545.75,752.01 L541.44,749.81 L535.40,748.96 Z" fill="#f8e016" stroke="#7c700b" stroke-width="0.5" stroke-linejoin="round"/>
<path d="M618.74,775.52 L624.30,777.17 L619.43,775.19 L613.88,773.49 Z" fill="#27ae15" stroke="#14570a" stroke-width="0.5" stroke-linejoin="round"/>
<path d="M481.51,737.17 L487.89,737.26 L483.96,734.86 L477.60,734.70 Z" fill="#eb4b1d" stroke="#75250e" stroke-width="0.5" stroke-linejoin="round"/>
<path d="M550.13,754.24 L556.13,755.14 L551.73,752.96 L545.75,752.01 Z" fill="#f4ee11" stroke="#7a7708" stroke-width="0.5" stroke-linejoin="round"/>
<path d="M491.88,739.70 L498.21,739.90 L494.21,737.53 L487.89,737.26 Z" fill="#ef6420" stroke="#783210" stroke-width="0.5" stroke-linejoin="round"/>
<path d="M560.58,757.34 L566.52,758.34 L562.05,756.19 L556.13,755.14 Z" fill="#e5f40c" stroke="#727a06" stroke-width="0.5" stroke-linejoin="round"/>
<path d="M502.27,742.30 L508.55,742.61 L504.47,740.27 L498.21,739.90 Z" fill="#f38323" stroke="#7a4112" stroke-width="0.5" stroke-linejoin="round"/>
<path d="M571.05,760.52 L576.93,761.62 L572.38,759.50 L566.52,758.34 Z" fill="#c6ed0d" stroke="#637707" stroke-width="0.5" stroke-linejoin="round"/>
<path d="M581.54,763.78 L587.36,764.98 L582.73,762.88 L576.93,761.62 Z" fill="#a1e012" stroke="#507009" stroke-width="0.5" stroke-linejoin="round"/>
<path d="M512.68,744.99 L518.91,745.40 L514.76,743.09 L508.55,742.61 Z" fill="#f6a220" stroke="#7b5110" stroke-width="0.5" stroke-linejoin="round"/>
<path d="M592.05,767.11 L597.80,768.42 L593.10,766.34 L587.36,764.98 Z" fill="#80d412" stroke="#406a09" stroke-width="0.5" stroke-linejoin="round"/>
<path d="M523.12,747.75 L529.30,748.27 L525.07,745.99 L518.91,745.40 Z" fill="#f7bf1d" stroke="#7c5f0e" stroke-width="0.5" stroke-linejoin="round"/>
<path d="M602.57,770.52 L608.26,771.93 L603.49,769.87 L597.80,768.42 Z" fill="#61c90f" stroke="#306408" stroke-width="0.5" stroke-linejoin="round"/>
<path d="M533.58,750.59 L539.71,751.22 L535.40,748.96 L529.30,748.27 Z" fill="#f8d519" stroke="#7c6b0c" stroke-width="0.5" stroke-linejoin="round"/>
<path d="M475.06,737.24 L481.51,737.17 L477.60,734.70 L471.17,734.71 Z" fill="#e9441b" stroke="#75220e" stroke-width="0.5" stroke-linejoin="round"/>
<path d="M613.11,774.01 L618.74,775.52 L613.88,773.49 L608.26,771.93 Z" fill="#41ba12" stroke="#205d09" stroke-width="0.5" stroke-linejoin="round"/>
<path d="M544.07,753.51 L550.13,754.24 L545.75,752.01 L539.71,751.22 Z" fill="#f8e615" stroke="#7c730a" stroke-width="0.5" stroke-linejoin="round"/>
<path d="M623.67,777.57 L629.24,779.18 L624.30,777.17 L618.74,775.52 Z" fill="#25ad16" stroke="#13570b" stroke-width="0.5" stroke-linejoin="round"/>
<path d="M485.48,739.66 L491.88,739.70 L487.89,737.26 L481.51,737.17 Z" fill="#ee561f" stroke="#772b0f" stroke-width="0.5" stroke-linejoin="round"/>
<path d="M554.57,756.50 L560.58,757.34 L556.13,755.14 L550.13,754.24 Z" fill="#f1f10e" stroke="#797907" stroke-width="0.5" stroke-linejoin="round"/>
<path d="M495.92,742.16 L502.27,742.30 L498.21,739.90 L491.88,739.70 Z" fill="#f27423" stroke="#793a11" stroke-width="0.5" stroke-linejoin="round"/>
<path d="M565.10,759.58 L571.05,760.52 L566.52,758.34 L560.58,757.34 Z" fill="#dcf20c" stroke="#6e7906" stroke-width="0.5" stroke-linejoin="round"/>
<path d="M506.38,744.74 L512.68,744.99 L508.55,742.61 L502.27,742.30 Z" fill="#f49222" stroke="#7a4911" stroke-width="0.5" stroke-linejoin="round"/>
<path d="M575.65,762.73 L581.54,763.78 L576.93,761.62 L571.05,760.52 Z" fill="#bcea0e" stroke="#5e7507" stroke-width="0.5" stroke-linejoin="round"/>
<path d="M586.21,765.96 L592.05,767.11 L587.36,764.98 L581.54,763.78 Z" fill="#97dc14" stroke="#4c6e0a" stroke-width="0.5" stroke-linejoin="round"/>
<path d="M516.88,747.39 L523.12,747.75 L518.91,745.40 L512.68,744.99 Z" fill="#f7b01f" stroke="#7b580f" stroke-width="0.5" stroke-linejoin="round"/>
<path d="M596.80,769.27 L602.57,770.52 L597.80,768.42 L592.05,767.11 Z" fill="#79d111" stroke="#3c6909" stroke-width="0.5" stroke-linejoin="round"/>
<path d="M527.39,750.13 L533.58,750.59 L529.30,748.27 L523.12,747.75 Z" fill="#f8c81b" stroke="#7c640d" stroke-width="0.5" stroke-linejoin="round"/>
<path d="M468.54,737.49 L475.06,737.24 L471.17,734.71 L464.67,734.90 Z" fill="#e73f1a" stroke="#741f0d" stroke-width="0.5" stroke-linejoin="round"/>
<path d="M607.40,772.66 L613.11,774.01 L608.26,771.93 L602.57,770.52 Z" fill="#5ac60f" stroke="#2d6308" stroke-width="0.5" stroke-linejoin="round"/>
<path d="M537.93,752.94 L544.07,753.51 L539.71,751.22 L533.58,750.59 Z" fill="#f8dc17" stroke="#7c6e0c" stroke-width="0.5" stroke-linejoin="round"/>
<path d="M479.00,739.80 L485.48,739.66 L481.51,737.17 L475.06,737.24 Z" fill="#ec4e1d" stroke="#76270f" stroke-width="0.5" stroke-linejoin="round"/>
<path d="M618.03,776.12 L623.67,777.57 L618.74,775.52 L613.11,774.01 Z" fill="#3bb712" stroke="#1d5c09" stroke-width="0.5" stroke-linejoin="round"/>
<path d="M548.49,755.83 L554.57,756.50 L550.13,754.24 L544.07,753.51 Z" fill="#f6ea13" stroke="#7b7509" stroke-width="0.5" stroke-linejoin="round"/>
<path d="M628.66,779.66 L634.24,781.22 L629.24,779.18 L623.67,777.57 Z" fill="#24ac18" stroke="#12560c" stroke-width="0.5" stroke-linejoin="round"/>
<path d="M489.50,742.19 L495.92,742.16 L491.88,739.70 L485.48,739.66 Z" fill="#f06721" stroke="#783310" stroke-width="0.5" stroke-linejoin="round"/>
<path d="M559.08,758.80 L565.10,759.58 L560.58,757.34 L554.57,756.50 Z" fill="#eef50c" stroke="#777a06" stroke-width="0.5" stroke-linejoin="round"/>
<path d="M500.01,744.66 L506.38,744.74 L502.27,742.30 L495.92,742.16 Z" fill="#f38323" stroke="#7a4212" stroke-width="0.5" stroke-linejoin="round"/>
<path d="M569.68,761.85 L575.65,762.73 L571.05,760.52 L565.10,759.58 Z" fill="#d3f10c" stroke="#6a7806" stroke-width="0.5" stroke-linejoin="round"/>
<path d="M510.56,747.21 L516.88,747.39 L512.68,744.99 L506.38,744.74 Z" fill="#f5a120" stroke="#7b5010" stroke-width="0.5" stroke-linejoin="round"/>
<path d="M580.31,764.97 L586.21,765.96 L581.54,763.78 L575.65,762.73 Z" fill="#b2e610" stroke="#597308" stroke-width="0.5" stroke-linejoin="round"/>
<path d="M461.95,737.92 L468.54,737.49 L464.67,734.90 L458.10,735.26 Z" fill="#e63a19" stroke="#731d0d" stroke-width="0.5" stroke-linejoin="round"/>
<path d="M521.13,749.83 L527.39,750.13 L523.12,747.75 L516.88,747.39 Z" fill="#f7bc1d" stroke="#7c5e0e" stroke-width="0.5" stroke-linejoin="round"/>
<path d="M590.96,768.18 L596.80,769.27 L592.05,767.11 L586.21,765.96 Z" fill="#8fda13" stroke="#486d0a" stroke-width="0.5" stroke-linejoin="round"/>
<path d="M601.62,771.46 L607.40,772.66 L602.57,770.52 L596.80,769.27 Z" fill="#72cf11" stroke="#396708" stroke-width="0.5" stroke-linejoin="round"/>
<path d="M472.46,740.12 L479.00,739.80 L475.06,737.24 L468.54,737.49 Z" fill="#ea491c" stroke="#75240e" stroke-width="0.5" stroke-linejoin="round"/>
<path d="M531.72,752.54 L537.93,752.94 L533.58,750.59 L527.39,750.13 Z" fill="#f8d219" stroke="#7c690d" stroke-width="0.5" stroke-linejoin="round"/>
<path d="M612.31,774.82 L618.03,776.12 L613.11,774.01 L607.40,772.66 Z" fill="#54c310" stroke="#2a6108" stroke-width="0.5" stroke-linejoin="round"/>
<path d="M542.34,755.32 L548.49,755.83 L544.07,753.51 L537.93,752.94 Z" fill="#f8e216" stroke="#7c710b" stroke-width="0.5" stroke-linejoin="round"/>
<path d="M483.00,742.40 L489.50,742.19 L485.48,739.66 L479.00,739.80 Z" fill="#ee5c1f" stroke="#772e10" stroke-width="0.5" stroke-linejoin="round"/>
<path d="M623.01,778.26 L628.66,779.66 L623.67,777.57 L618.03,776.12 Z" fill="#34b513" stroke="#1a5a09" stroke-width="0.5" stroke-linejoin="round"/>
<path d="M552.98,758.18 L559.08,758.80 L554.57,756.50 L548.49,755.83 Z" fill="#f3ee10" stroke="#7a7708" stroke-width="0.5" stroke-linejoin="round"/>
<path d="M493.57,744.76 L500.01,744.66 L495.92,742.16 L489.50,742.19 Z" fill="#f27723" stroke="#793c12" stroke-width="0.5" stroke-linejoin="round"/>
<path d="M633.73,781.78 L639.32,783.28 L634.24,781.22 L628.66,779.66 Z" fill="#22ab19" stroke="#11560d" stroke-width="0.5" stroke-linejoin="round"/>
<path d="M563.64,761.13 L569.68,761.85 L565.10,759.58 L559.08,758.80 Z" fill="#e6f40c" stroke="#737a06" stroke-width="0.5" stroke-linejoin="round"/>
<path d="M504.17,747.20 L510.56,747.21 L506.38,744.74 L500.01,744.66 Z" fill="#f59322" stroke="#7a4a11" stroke-width="0.5" stroke-linejoin="round"/>
<path d="M574.33,764.15 L580.31,764.97 L575.65,762.73 L569.68,761.85 Z" fill="#caef0c" stroke="#657806" stroke-width="0.5" stroke-linejoin="round"/>
<path d="M455.29,738.53 L461.95,737.92 L458.10,735.26 L451.47,735.80 Z" fill="#e53719" stroke="#731c0c" stroke-width="0.5" stroke-linejoin="round"/>
<path d="M514.79,749.71 L521.13,749.83 L516.88,747.39 L510.56,747.21 Z" fill="#f7b01f" stroke="#7b580f" stroke-width="0.5" stroke-linejoin="round"/>
<path d="M585.04,767.25 L590.96,768.18 L586.21,765.96 L580.31,764.97 Z" fill="#a8e211" stroke="#547109" stroke-width="0.5" stroke-linejoin="round"/>
<path d="M465.85,740.62 L472.46,740.12 L468.54,737.49 L461.95,737.92 Z" fill="#e9451c" stroke="#75230e" stroke-width="0.5" stroke-linejoin="round"/>
<path d="M525.44,752.31 L531.72,752.54 L527.39,750.13 L521.13,749.83 Z" fill="#f8c61b" stroke="#7c630e" stroke-width="0.5" stroke-linejoin="round"/>
<path d="M595.77,770.42 L601.62,771.46 L596.80,769.27 L590.96,768.18 Z" fill="#88d713" stroke="#446b09" stroke-width="0.5" stroke-linejoin="round"/>
<path d="M476.44,742.79 L483.00,742.40 L479.00,739.80 L472.46,740.12 Z" fill="#ed541e" stroke="#772a0f" stroke-width="0.5" stroke-linejoin="round"/>
<path d="M536.11,754.98 L542.34,755.32 L537.93,752.94 L531.72,752.54 Z" fill="#f8d918" stroke="#7c6d0c" stroke-width="0.5" stroke-linejoin="round"/>
<path d="M606.52,773.68 L612.31,774.82 L607.40,772.66 L601.62,771.46 Z" fill="#6bcc10" stroke="#356608" stroke-width="0.5" stroke-linejoin="round"/>
<path d="M617.28,777.02 L623.01,778.26 L618.03,776.12 L612.31,774.82 Z" fill="#4dc011" stroke="#266008" stroke-width="0.5" stroke-linejoin="round"/>
<path d="M546.81,757.74 L552.98,758.18 L548.49,755.83 L542.34,755.32 Z" fill="#f8e814" stroke="#7c740a" stroke-width="0.5" stroke-linejoin="round"/>
<path d="M487.06,745.04 L493.57,744.76 L489.50,742.19 L483.00,742.40 Z" fill="#f16e22" stroke="#783711" stroke-width="0.5" stroke-linejoin="round"/>
<path d="M628.07,780.44 L633.73,781.78 L628.66,779.66 L623.01,778.26 Z" fill="#2eb213" stroke="#17590a" stroke-width="0.5" stroke-linejoin="round"/>
<path d="M557.53,760.57 L563.64,761.13 L559.08,758.80 L552.98,758.18 Z" fill="#f1f20e" stroke="#787907" stroke-width="0.5" stroke-linejoin="round"/>
<path d="M497.70,747.36 L504.17,747.20 L500.01,744.66 L493.57,744.76 Z" fill="#f48823" stroke="#7a4411" stroke-width="0.5" stroke-linejoin="round"/>
<path d="M638.87,783.93 L644.47,785.38 L639.32,783.28 L633.73,781.78 Z" fill="#20aa1a" stroke="#10550d" stroke-width="0.5" stroke-linejoin="round"/>
<path d="M448.56,739.33 L455.29,738.53 L451.47,735.80 L444.76,736.52 Z" fill="#e53619" stroke="#721b0c" stroke-width="0.5" stroke-linejoin="round"/>
<path d="M568.28,763.49 L574.33,764.15 L569.68,761.85 L563.64,761.13 Z" fill="#ddf20c" stroke="#6e7906" stroke-width="0.5" stroke-linejoin="round"/>
<path d="M508.38,749.77 L514.79,749.71 L510.56,747.21 L504.17,747.20 Z" fill="#f6a320" stroke="#7b5110" stroke-width="0.5" stroke-linejoin="round"/>
<path d="M459.17,741.30 L465.85,740.62 L461.95,737.92 L455.29,738.53 Z" fill="#e9431b" stroke="#74210e" stroke-width="0.5" stroke-linejoin="round"/>
<path d="M579.05,766.48 L585.04,767.25 L580.31,764.97 L574.33,764.15 Z" fill="#c0eb0e" stroke="#607607" stroke-width="0.5" stroke-linejoin="round"/>
<path d="M519.08,752.25 L525.44,752.31 L521.13,749.83 L514.79,749.71 Z" fill="#f7bc1d" stroke="#7c5e0e" stroke-width="0.5" stroke-linejoin="round"/>
<path d="M589.84,769.55 L595.77,770.42 L590.96,768.18 L585.04,767.25 Z" fill="#9edf13" stroke="#4f6f09" stroke-width="0.5" stroke-linejoin="round"/>
<path d="M469.80,743.36 L476.44,742.79 L472.46,740.12 L465.85,740.62 Z" fill="#ec501e" stroke="#76280f" stroke-width="0.5" stroke-linejoin="round"/>
<path d="M529.81,754.82 L536.11,754.98 L531.72,752.54 L525.44,752.31 Z" fill="#f8d01a" stroke="#7c680d" stroke-width="0.5" stroke-linejoin="round"/>
<path d="M600.65,772.70 L606.52,773.68 L601.62,771.46 L595.77,770.42 Z" fill="#80d412" stroke="#406a09" stroke-width="0.5" stroke-linejoin="round"/>
<path d="M480.47,745.49 L487.06,745.04 L483.00,742.40 L476.44,742.79 Z" fill="#f06621" stroke="#783310" stroke-width="0.5" stroke-linejoin="round"/>
<path d="M540.56,757.46 L546.81,757.74 L542.34,755.32 L536.11,754.98 Z" fill="#f8e016" stroke="#7c700b" stroke-width="0.5" stroke-linejoin="round"/>
<path d="M611.48,775.94 L617.28,777.02 L612.31,774.82 L606.52,773.68 Z" fill="#64ca0f" stroke="#326508" stroke-width="0.5" stroke-linejoin="round"/>
<path d="M491.17,747.71 L497.70,747.36 L493.57,744.76 L487.06,745.04 Z" fill="#f37f24" stroke="#7a3f12" stroke-width="0.5" stroke-linejoin="round"/>
<path d="M622.33,779.25 L628.07,780.44 L623.01,778.26 L617.28,777.02 Z" fill="#46bd11" stroke="#235e09" stroke-width="0.5" stroke-linejoin="round"/>
<path d="M551.34,760.19 L557.53,760.57 L552.98,758.18 L546.81,757.74 Z" fill="#f5ec12" stroke="#7b7609" stroke-width="0.5" stroke-linejoin="round"/>
<path d="M633.20,782.64 L638.87,783.93 L633.73,781.78 L628.07,780.44 Z" fill="#28af14" stroke="#14580a" stroke-width="0.5" stroke-linejoin="round"/>
<path d="M562.15,762.99 L568.28,763.49 L563.64,761.13 L557.53,760.57 Z" fill="#edf50c" stroke="#767a06" stroke-width="0.5" stroke-linejoin="round"/>
<path d="M501.90,750.00 L508.38,749.77 L504.17,747.20 L497.70,747.36 Z" fill="#f59821" stroke="#7a4c11" stroke-width="0.5" stroke-linejoin="round"/>
<path d="M452.41,742.17 L459.17,741.30 L455.29,738.53 L448.56,739.33 Z" fill="#e8411b" stroke="#74210d" stroke-width="0.5" stroke-linejoin="round"/>
<path d="M644.09,786.11 L649.70,787.51 L644.47,785.38 L638.87,783.93 Z" fill="#1ea91c" stroke="#0f550e" stroke-width="0.5" stroke-linejoin="round"/>
<path d="M572.98,765.88 L579.05,766.48 L574.33,764.15 L568.28,763.49 Z" fill="#d4f10c" stroke="#6a7906" stroke-width="0.5" stroke-linejoin="round"/>
<path d="M512.65,752.38 L519.08,752.25 L514.79,749.71 L508.38,749.77 Z" fill="#f7b21e" stroke="#7b590f" stroke-width="0.5" stroke-linejoin="round"/>
<path d="M463.10,744.11 L469.80,743.36 L465.85,740.62 L459.17,741.30 Z" fill="#ec4e1d" stroke="#76270f" stroke-width="0.5" stroke-linejoin="round"/>
<path d="M583.83,768.85 L589.84,769.55 L585.04,767.25 L579.05,766.48 Z" fill="#b5e710" stroke="#5a7408" stroke-width="0.5" stroke-linejoin="round"/>
<path d="M523.43,754.83 L529.81,754.82 L525.44,752.31 L519.08,752.25 Z" fill="#f8c71b" stroke="#7c630e" stroke-width="0.5" stroke-linejoin="round"/>
<path d="M594.70,771.89 L600.65,772.70 L595.77,770.42 L589.84,769.55 Z" fill="#94db14" stroke="#4a6e0a" stroke-width="0.5" stroke-linejoin="round"/>
<path d="M473.81,746.13 L480.47,745.49 L476.44,742.79 L469.80,743.36 Z" fill="#ef6120" stroke="#783010" stroke-width="0.5" stroke-linejoin="round"/>
<path d="M534.24,757.36 L540.56,757.46 L536.11,754.98 L529.81,754.82 Z" fill="#f8d818" stroke="#7c6c0c" stroke-width="0.5" stroke-linejoin="round"/>
<path d="M605.60,775.02 L611.48,775.94 L606.52,773.68 L600.65,772.70 Z" fill="#79d111" stroke="#3c6909" stroke-width="0.5" stroke-linejoin="round"/>
<path d="M484.56,748.23 L491.17,747.71 L487.06,745.04 L480.47,745.49 Z" fill="#f27823" stroke="#793c12" stroke-width="0.5" stroke-linejoin="round"/>
<path d="M545.08,759.98 L551.34,760.19 L546.81,757.74 L540.56,757.46 Z" fill="#f8e615" stroke="#7c730a" stroke-width="0.5" stroke-linejoin="round"/>
<path d="M616.51,778.22 L622.33,779.25 L617.28,777.02 L611.48,775.94 Z" fill="#5dc70f" stroke="#2e6308" stroke-width="0.5" stroke-linejoin="round"/>
<path d="M495.34,750.42 L501.90,750.00 L497.70,747.36 L491.17,747.71 Z" fill="#f49022" stroke="#7a4811" stroke-width="0.5" stroke-linejoin="round"/>
<path d="M555.94,762.68 L562.15,762.99 L557.53,760.57 L551.34,760.19 Z" fill="#f2f00f" stroke="#797808" stroke-width="0.5" stroke-linejoin="round"/>
<path d="M627.45,781.51 L633.20,782.64 L628.07,780.44 L622.33,779.25 Z" fill="#40ba12" stroke="#205d09" stroke-width="0.5" stroke-linejoin="round"/>
<path d="M638.41,784.88 L644.09,786.11 L638.87,783.93 L633.20,782.64 Z" fill="#26ae15" stroke="#13570b" stroke-width="0.5" stroke-linejoin="round"/>
<path d="M566.83,765.45 L572.98,765.88 L568.28,763.49 L562.15,762.99 Z" fill="#e3f30c" stroke="#727a06" stroke-width="0.5" stroke-linejoin="round"/>
<path d="M506.15,752.68 L512.65,752.38 L508.38,749.77 L501.90,750.00 Z" fill="#f6a81f" stroke="#7b5410" stroke-width="0.5" stroke-linejoin="round"/>
<path d="M456.32,745.05 L463.10,744.11 L459.17,741.30 L452.41,742.17 Z" fill="#ec4d1d" stroke="#76260f" stroke-width="0.5" stroke-linejoin="round"/>
<path d="M649.39,788.33 L655.00,789.66 L649.70,787.51 L644.09,786.11 Z" fill="#1ca81d" stroke="#0e540f" stroke-width="0.5" stroke-linejoin="round"/>
<path d="M577.74,768.31 L583.83,768.85 L579.05,766.48 L572.98,765.88 Z" fill="#caef0c" stroke="#657706" stroke-width="0.5" stroke-linejoin="round"/>
<path d="M516.98,755.02 L523.43,754.83 L519.08,752.25 L512.65,752.38 Z" fill="#f7bf1d" stroke="#7c5f0e" stroke-width="0.5" stroke-linejoin="round"/>
<path d="M467.08,746.96 L473.81,746.13 L469.80,743.36 L463.10,744.11 Z" fill="#ef5e20" stroke="#772f10" stroke-width="0.5" stroke-linejoin="round"/>
<path d="M588.68,771.25 L594.70,771.89 L589.84,769.55 L583.83,768.85 Z" fill="#aae311" stroke="#557209" stroke-width="0.5" stroke-linejoin="round"/>
<path d="M527.85,757.44 L534.24,757.36 L529.81,754.82 L523.43,754.83 Z" fill="#f8d119" stroke="#7c690d" stroke-width="0.5" stroke-linejoin="round"/>
<path d="M477.88,748.95 L484.56,748.23 L480.47,745.49 L473.81,746.13 Z" fill="#f27323" stroke="#793a11" stroke-width="0.5" stroke-linejoin="round"/>
<path d="M599.64,774.27 L605.60,775.02 L600.65,772.70 L594.70,771.89 Z" fill="#8cd813" stroke="#466c0a" stroke-width="0.5" stroke-linejoin="round"/>
<path d="M538.74,759.95 L545.08,759.98 L540.56,757.46 L534.24,757.36 Z" fill="#f8df16" stroke="#7c700b" stroke-width="0.5" stroke-linejoin="round"/>
<path d="M610.62,777.36 L616.51,778.22 L611.48,775.94 L605.60,775.02 Z" fill="#71cf11" stroke="#396708" stroke-width="0.5" stroke-linejoin="round"/>
<path d="M488.71,751.01 L495.34,750.42 L491.17,747.71 L484.56,748.23 Z" fill="#f48923" stroke="#7a4511" stroke-width="0.5" stroke-linejoin="round"/>
<path d="M549.66,762.53 L555.94,762.68 L551.34,760.19 L545.08,759.98 Z" fill="#f6eb12" stroke="#7b7509" stroke-width="0.5" stroke-linejoin="round"/>
<path d="M621.62,780.55 L627.45,781.51 L622.33,779.25 L616.51,778.22 Z" fill="#56c410" stroke="#2b6208" stroke-width="0.5" stroke-linejoin="round"/>
<path d="M499.57,753.16 L506.15,752.68 L501.90,750.00 L495.34,750.42 Z" fill="#f6a120" stroke="#7b5010" stroke-width="0.5" stroke-linejoin="round"/>
<path d="M560.61,765.20 L566.83,765.45 L562.15,762.99 L555.94,762.68 Z" fill="#eff40d" stroke="#777a06" stroke-width="0.5" stroke-linejoin="round"/>
<path d="M632.65,783.81 L638.41,784.88 L633.20,782.64 L627.45,781.51 Z" fill="#39b712" stroke="#1d5b09" stroke-width="0.5" stroke-linejoin="round"/>
<path d="M510.46,755.39 L516.98,755.02 L512.65,752.38 L506.15,752.68 Z" fill="#f7b81e" stroke="#7c5c0f" stroke-width="0.5" stroke-linejoin="round"/>
<path d="M571.58,767.95 L577.74,768.31 L572.98,765.88 L566.83,765.45 Z" fill="#daf20c" stroke="#6d7906" stroke-width="0.5" stroke-linejoin="round"/>
<path d="M643.69,787.15 L649.39,788.33 L644.09,786.11 L638.41,784.88 Z" fill="#24ad17" stroke="#12560c" stroke-width="0.5" stroke-linejoin="round"/>
<path d="M460.28,747.98 L467.08,746.96 L463.10,744.11 L456.32,745.05 Z" fill="#ef5d20" stroke="#772e10" stroke-width="0.5" stroke-linejoin="round"/>
<path d="M654.76,790.57 L660.38,791.85 L655.00,789.66 L649.39,788.33 Z" fill="#1ba71f" stroke="#0d530f" stroke-width="0.5" stroke-linejoin="round"/>
<path d="M582.58,770.77 L588.68,771.25 L583.83,768.85 L577.74,768.31 Z" fill="#bfeb0e" stroke="#5f7507" stroke-width="0.5" stroke-linejoin="round"/>
<path d="M521.38,757.70 L527.85,757.44 L523.43,754.83 L516.98,755.02 Z" fill="#f8ca1b" stroke="#7c650d" stroke-width="0.5" stroke-linejoin="round"/>
<path d="M471.13,749.85 L477.88,748.95 L473.81,746.13 L467.08,746.96 Z" fill="#f17122" stroke="#793811" stroke-width="0.5" stroke-linejoin="round"/>
<path d="M593.60,773.68 L599.64,774.27 L594.70,771.89 L588.68,771.25 Z" fill="#9fdf13" stroke="#507009" stroke-width="0.5" stroke-linejoin="round"/>
<path d="M532.33,760.09 L538.74,759.95 L534.24,757.36 L527.85,757.44 Z" fill="#f8d918" stroke="#7c6d0c" stroke-width="0.5" stroke-linejoin="round"/>
<path d="M482.01,751.80 L488.71,751.01 L484.56,748.23 L477.88,748.95 Z" fill="#f48623" stroke="#7a4312" stroke-width="0.5" stroke-linejoin="round"/>
<path d="M604.65,776.67 L610.62,777.36 L605.60,775.02 L599.64,774.27 Z" fill="#84d512" stroke="#426b09" stroke-width="0.5" stroke-linejoin="round"/>
<path d="M543.31,762.57 L549.66,762.53 L545.08,759.98 L538.74,759.95 Z" fill="#f8e615" stroke="#7c730a" stroke-width="0.5" stroke-linejoin="round"/>
<path d="M615.72,779.75 L621.62,780.55 L616.51,778.22 L610.62,777.36 Z" fill="#6acc10" stroke="#356608" stroke-width="0.5" stroke-linejoin="round"/>
<path d="M492.92,753.84 L499.57,753.16 L495.34,750.42 L488.71,751.01 Z" fill="#f59b21" stroke="#7b4e10" stroke-width="0.5" stroke-linejoin="round"/>
<path d="M554.31,765.12 L560.61,765.20 L555.94,762.68 L549.66,762.53 Z" fill="#f3ef10" stroke="#797808" stroke-width="0.5" stroke-linejoin="round"/>
<path d="M626.81,782.90 L632.65,783.81 L627.45,781.51 L621.62,780.55 Z" fill="#4fc110" stroke="#276008" stroke-width="0.5" stroke-linejoin="round"/>
<path d="M503.86,755.95 L510.46,755.39 L506.15,752.68 L499.57,753.16 Z" fill="#f7b21e" stroke="#7b590f" stroke-width="0.5" stroke-linejoin="round"/>
<path d="M565.34,767.76 L571.58,767.95 L566.83,765.45 L560.61,765.20 Z" fill="#e7f40c" stroke="#737a06" stroke-width="0.5" stroke-linejoin="round"/>
<path d="M637.92,786.14 L643.69,787.15 L638.41,784.88 L632.65,783.81 Z" fill="#33b413" stroke="#195a0a" stroke-width="0.5" stroke-linejoin="round"/>
<path d="M514.83,758.15 L521.38,757.70 L516.98,755.02 L510.46,755.39 Z" fill="#f7c31c" stroke="#7c620e" stroke-width="0.5" stroke-linejoin="round"/>
<path d="M576.40,770.47 L582.58,770.77 L577.74,768.31 L571.58,767.95 Z" fill="#d0f00c" stroke="#687806" stroke-width="0.5" stroke-linejoin="round"/>
<path d="M464.30,750.94 L471.13,749.85 L467.08,746.96 L460.28,747.98 Z" fill="#f17122" stroke="#793811" stroke-width="0.5" stroke-linejoin="round"/>
<path d="M649.06,789.45 L654.76,790.57 L649.39,788.33 L643.69,787.15 Z" fill="#22ac19" stroke="#11560c" stroke-width="0.5" stroke-linejoin="round"/>
<path d="M525.84,760.42 L532.33,760.09 L527.85,757.44 L521.38,757.70 Z" fill="#f8d419" stroke="#7c6a0c" stroke-width="0.5" stroke-linejoin="round"/>
<path d="M587.49,773.27 L593.60,773.68 L588.68,771.25 L582.58,770.77 Z" fill="#b3e710" stroke="#5a7308" stroke-width="0.5" stroke-linejoin="round"/>
<path d="M475.23,752.78 L482.01,751.80 L477.88,748.95 L471.13,749.85 Z" fill="#f38423" stroke="#7a4212" stroke-width="0.5" stroke-linejoin="round"/>
<path d="M598.60,776.16 L604.65,776.67 L599.64,774.27 L593.60,773.68 Z" fill="#95dc14" stroke="#4a6e0a" stroke-width="0.5" stroke-linejoin="round"/>
<path d="M536.87,762.78 L543.31,762.57 L538.74,759.95 L532.33,760.09 Z" fill="#f8e016" stroke="#7c700b" stroke-width="0.5" stroke-linejoin="round"/>
<path d="M486.19,754.70 L492.92,753.84 L488.71,751.01 L482.01,751.80 Z" fill="#f59821" stroke="#7a4c11" stroke-width="0.5" stroke-linejoin="round"/>
<path d="M609.73,779.12 L615.72,779.75 L610.62,777.36 L604.65,776.67 Z" fill="#7cd312" stroke="#3e6909" stroke-width="0.5" stroke-linejoin="round"/>
<path d="M547.94,765.23 L554.31,765.12 L549.66,762.53 L543.31,762.57 Z" fill="#f6eb12" stroke="#7b7509" stroke-width="0.5" stroke-linejoin="round"/>
<path d="M497.18,756.70 L503.86,755.95 L499.57,753.16 L492.92,753.84 Z" fill="#f6ad1f" stroke="#7b560f" stroke-width="0.5" stroke-linejoin="round"/>
<path d="M620.89,782.16 L626.81,782.90 L621.62,780.55 L615.72,779.75 Z" fill="#62c90f" stroke="#316508" stroke-width="0.5" stroke-linejoin="round"/>
<path d="M559.03,767.75 L565.34,767.76 L560.61,765.20 L554.31,765.12 Z" fill="#eff30d" stroke="#787a07" stroke-width="0.5" stroke-linejoin="round"/>
<path d="M632.07,785.29 L637.92,786.14 L632.65,783.81 L626.81,782.90 Z" fill="#48bd11" stroke="#245f09" stroke-width="0.5" stroke-linejoin="round"/>
<path d="M508.21,758.78 L514.83,758.15 L510.46,755.39 L503.86,755.95 Z" fill="#f7bf1d" stroke="#7c5f0e" stroke-width="0.5" stroke-linejoin="round"/>
<path d="M570.15,770.35 L576.40,770.47 L571.58,767.95 L565.34,767.76 Z" fill="#ddf20c" stroke="#6e7906" stroke-width="0.5" stroke-linejoin="round"/>
<path d="M643.28,788.50 L649.06,789.45 L643.69,787.15 L637.92,786.14 Z" fill="#2cb114" stroke="#16580a" stroke-width="0.5" stroke-linejoin="round"/>
<path d="M519.27,760.94 L525.84,760.42 L521.38,757.70 L514.83,758.15 Z" fill="#f8cf1a" stroke="#7c670d" stroke-width="0.5" stroke-linejoin="round"/>
<path d="M468.38,753.95 L475.23,752.78 L471.13,749.85 L464.30,750.94 Z" fill="#f48423" stroke="#7a4212" stroke-width="0.5" stroke-linejoin="round"/>
<path d="M581.30,773.04 L587.49,773.27 L582.58,770.77 L576.40,770.47 Z" fill="#c5ed0d" stroke="#627707" stroke-width="0.5" stroke-linejoin="round"/>
<path d="M530.36,763.19 L536.87,762.78 L532.33,760.09 L525.84,760.42 Z" fill="#f8dc17" stroke="#7c6e0c" stroke-width="0.5" stroke-linejoin="round"/>
<path d="M592.47,775.81 L598.60,776.16 L593.60,773.68 L587.49,773.27 Z" fill="#a8e311" stroke="#547109" stroke-width="0.5" stroke-linejoin="round"/>
<path d="M479.39,755.75 L486.19,754.70 L482.01,751.80 L475.23,752.78 Z" fill="#f59721" stroke="#7a4b11" stroke-width="0.5" stroke-linejoin="round"/>
<path d="M603.67,778.66 L609.73,779.12 L604.65,776.67 L598.60,776.16 Z" fill="#8cd913" stroke="#466c0a" stroke-width="0.5" stroke-linejoin="round"/>
<path d="M541.48,765.51 L547.94,765.23 L543.31,762.57 L536.87,762.78 Z" fill="#f8e714" stroke="#7c740a" stroke-width="0.5" stroke-linejoin="round"/>
<path d="M490.44,757.64 L497.18,756.70 L492.92,753.84 L486.19,754.70 Z" fill="#f6aa1f" stroke="#7b5510" stroke-width="0.5" stroke-linejoin="round"/>
<path d="M614.89,781.60 L620.89,782.16 L615.72,779.75 L609.73,779.12 Z" fill="#74d011" stroke="#3a6808" stroke-width="0.5" stroke-linejoin="round"/>
<path d="M552.64,767.92 L559.03,767.75 L554.31,765.12 L547.94,765.23 Z" fill="#f2ef10" stroke="#797808" stroke-width="0.5" stroke-linejoin="round"/>
<path d="M501.52,759.60 L508.21,758.78 L503.86,755.95 L497.18,756.70 Z" fill="#f7bc1d" stroke="#7c5e0f" stroke-width="0.5" stroke-linejoin="round"/>
<path d="M626.14,784.62 L632.07,785.29 L626.81,782.90 L620.89,782.16 Z" fill="#5bc60f" stroke="#2d6308" stroke-width="0.5" stroke-linejoin="round"/>
<path d="M563.82,770.41 L570.15,770.35 L565.34,767.76 L559.03,767.75 Z" fill="#e8f40c" stroke="#747a06" stroke-width="0.5" stroke-linejoin="round"/>
<path d="M512.63,761.65 L519.27,760.94 L514.83,758.15 L508.21,758.78 Z" fill="#f8cb1b" stroke="#7c650d" stroke-width="0.5" stroke-linejoin="round"/>
<path d="M637.42,787.72 L643.28,788.50 L637.92,786.14 L632.07,785.29 Z" fill="#40ba12" stroke="#205d09" stroke-width="0.5" stroke-linejoin="round"/>
<path d="M575.02,772.99 L581.30,773.04 L576.40,770.47 L570.15,770.35 Z" fill="#d3f10c" stroke="#697806" stroke-width="0.5" stroke-linejoin="round"/>
<path d="M523.78,763.78 L530.36,763.19 L525.84,760.42 L519.27,760.94 Z" fill="#f8d818" stroke="#7c6c0c" stroke-width="0.5" stroke-linejoin="round"/>
<path d="M472.51,757.01 L479.39,755.75 L475.23,752.78 L468.38,753.95 Z" fill="#f59821" stroke="#7a4c11" stroke-width="0.5" stroke-linejoin="round"/>
<path d="M586.26,775.65 L592.47,775.81 L587.49,773.27 L581.30,773.04 Z" fill="#b9e90f" stroke="#5c7407" stroke-width="0.5" stroke-linejoin="round"/>
<path d="M534.95,765.99 L541.48,765.51 L536.87,762.78 L530.36,763.19 Z" fill="#f8e315" stroke="#7c720b" stroke-width="0.5" stroke-linejoin="round"/>
<path d="M483.61,758.77 L490.44,757.64 L486.19,754.70 L479.39,755.75 Z" fill="#f6aa1f" stroke="#7b5510" stroke-width="0.5" stroke-linejoin="round"/>
<path d="M597.53,778.39 L603.67,778.66 L598.60,776.16 L592.47,775.81 Z" fill="#9dde13" stroke="#4e6f0a" stroke-width="0.5" stroke-linejoin="round"/>
<path d="M546.16,768.28 L552.64,767.92 L547.94,765.23 L541.48,765.51 Z" fill="#f5ec11" stroke="#7a7609" stroke-width="0.5" stroke-linejoin="round"/>
<path d="M608.82,781.21 L614.89,781.60 L609.73,779.12 L603.67,778.66 Z" fill="#84d512" stroke="#426b09" stroke-width="0.5" stroke-linejoin="round"/>
<path d="M494.74,760.62 L501.52,759.60 L497.18,756.70 L490.44,757.64 Z" fill="#f7bb1d" stroke="#7c5d0f" stroke-width="0.5" stroke-linejoin="round"/>
<path d="M620.13,784.12 L626.14,784.62 L620.89,782.16 L614.89,781.60 Z" fill="#6ccd10" stroke="#366608" stroke-width="0.5" stroke-linejoin="round"/>
<path d="M557.40,770.66 L563.82,770.41 L559.03,767.75 L552.64,767.92 Z" fill="#eff40d" stroke="#787a06" stroke-width="0.5" stroke-linejoin="round"/>
<path d="M505.91,762.55 L512.63,761.65 L508.21,758.78 L501.52,759.60 Z" fill="#f8c81b" stroke="#7c640d" stroke-width="0.5" stroke-linejoin="round"/>
<path d="M631.47,787.11 L637.42,787.72 L632.07,785.29 L626.14,784.62 Z" fill="#53c310" stroke="#296108" stroke-width="0.5" stroke-linejoin="round"/>
<path d="M568.67,773.12 L575.02,772.99 L570.15,770.35 L563.82,770.41 Z" fill="#ddf20c" stroke="#6f7906" stroke-width="0.5" stroke-linejoin="round"/>
<path d="M517.11,764.56 L523.78,763.78 L519.27,760.94 L512.63,761.65 Z" fill="#f8d619" stroke="#7c6b0c" stroke-width="0.5" stroke-linejoin="round"/>
<path d="M579.97,775.66 L586.26,775.65 L581.30,773.04 L575.02,772.99 Z" fill="#c8ee0d" stroke="#647706" stroke-width="0.5" stroke-linejoin="round"/>
<path d="M476.71,760.10 L483.61,758.77 L479.39,755.75 L472.51,757.01 Z" fill="#f6ac1f" stroke="#7b5610" stroke-width="0.5" stroke-linejoin="round"/>
<path d="M528.35,766.65 L534.95,765.99 L530.36,763.19 L523.78,763.78 Z" fill="#f8e016" stroke="#7c700b" stroke-width="0.5" stroke-linejoin="round"/>
<path d="M591.30,778.29 L597.53,778.39 L592.47,775.81 L586.26,775.65 Z" fill="#ade411" stroke="#567208" stroke-width="0.5" stroke-linejoin="round"/>
<path d="M539.61,768.83 L546.16,768.28 L541.48,765.51 L534.95,765.99 Z" fill="#f7ea13" stroke="#7b750a" stroke-width="0.5" stroke-linejoin="round"/>
<path d="M487.89,761.83 L494.74,760.62 L490.44,757.64 L483.61,758.77 Z" fill="#f7bb1d" stroke="#7c5d0f" stroke-width="0.5" stroke-linejoin="round"/>
<path d="M602.66,781.00 L608.82,781.21 L603.67,778.66 L597.53,778.39 Z" fill="#92db14" stroke="#496d0a" stroke-width="0.5" stroke-linejoin="round"/>
<path d="M550.91,771.09 L557.40,770.66 L552.64,767.92 L546.16,768.28 Z" fill="#f1f10f" stroke="#797807" stroke-width="0.5" stroke-linejoin="round"/>
<path d="M614.04,783.80 L620.13,784.12 L614.89,781.60 L608.82,781.21 Z" fill="#7bd212" stroke="#3e6909" stroke-width="0.5" stroke-linejoin="round"/>
<path d="M499.11,763.64 L505.91,762.55 L501.52,759.60 L494.74,760.62 Z" fill="#f8c71b" stroke="#7c640e" stroke-width="0.5" stroke-linejoin="round"/>
<path d="M562.24,773.44 L568.67,773.12 L563.82,770.41 L557.40,770.66 Z" fill="#e6f40c" stroke="#737a06" stroke-width="0.5" stroke-linejoin="round"/>
<path d="M625.45,786.67 L631.47,787.11 L626.14,784.62 L620.13,784.12 Z" fill="#64ca0f" stroke="#326508" stroke-width="0.5" stroke-linejoin="round"/>
<path d="M510.37,765.54 L517.11,764.56 L512.63,761.65 L505.91,762.55 Z" fill="#f8d419" stroke="#7c6a0c" stroke-width="0.5" stroke-linejoin="round"/>
<path d="M573.60,775.87 L579.97,775.66 L575.02,772.99 L568.67,773.12 Z" fill="#d3f10c" stroke="#697806" stroke-width="0.5" stroke-linejoin="round"/>
<path d="M521.66,767.51 L528.35,766.65 L523.78,763.78 L517.11,764.56 Z" fill="#f8de17" stroke="#7c6f0b" stroke-width="0.5" stroke-linejoin="round"/>
<path d="M585.00,778.38 L591.30,778.29 L586.26,775.65 L579.97,775.66 Z" fill="#bbe90f" stroke="#5e7507" stroke-width="0.5" stroke-linejoin="round"/>
<path d="M480.97,763.25 L487.89,761.83 L483.61,758.77 L476.71,760.10 Z" fill="#f7bd1d" stroke="#7c5e0e" stroke-width="0.5" stroke-linejoin="round"/>
<path d="M532.98,769.57 L539.61,768.83 L534.95,765.99 L528.35,766.65 Z" fill="#f8e814" stroke="#7c740a" stroke-width="0.5" stroke-linejoin="round"/>
<path d="M596.42,780.98 L602.66,781.00 L597.53,778.39 L591.30,778.29 Z" fill="#a1e012" stroke="#507009" stroke-width="0.5" stroke-linejoin="round"/>
<path d="M544.34,771.72 L550.91,771.09 L546.16,768.28 L539.61,768.83 Z" fill="#f3ee10" stroke="#7a7708" stroke-width="0.5" stroke-linejoin="round"/>
<path d="M492.24,764.94 L499.11,763.64 L494.74,760.62 L487.89,761.83 Z" fill="#f8c81b" stroke="#7c640d" stroke-width="0.5" stroke-linejoin="round"/>
<path d="M607.87,783.66 L614.04,783.80 L608.82,781.21 L602.66,781.00 Z" fill="#89d713" stroke="#456c09" stroke-width="0.5" stroke-linejoin="round"/>
<path d="M555.73,773.95 L562.24,773.44 L557.40,770.66 L550.91,771.09 Z" fill="#edf50c" stroke="#777a06" stroke-width="0.5" stroke-linejoin="round"/>
<path d="M503.55,766.71 L510.37,765.54 L505.91,762.55 L499.11,763.64 Z" fill="#f8d419" stroke="#7c6a0c" stroke-width="0.5" stroke-linejoin="round"/>
<path d="M619.34,786.42 L625.45,786.67 L620.13,784.12 L614.04,783.80 Z" fill="#73cf11" stroke="#396808" stroke-width="0.5" stroke-linejoin="round"/>
<path d="M567.16,776.26 L573.60,775.87 L568.67,773.12 L562.24,773.44 Z" fill="#dbf20c" stroke="#6e7906" stroke-width="0.5" stroke-linejoin="round"/>
<path d="M514.89,768.57 L521.66,767.51 L517.11,764.56 L510.37,765.54 Z" fill="#f8dd17" stroke="#7c6e0b" stroke-width="0.5" stroke-linejoin="round"/>
<path d="M578.61,778.66 L585.00,778.38 L579.97,775.66 L573.60,775.87 Z" fill="#c7ee0d" stroke="#647706" stroke-width="0.5" stroke-linejoin="round"/>
<path d="M526.28,770.51 L532.98,769.57 L528.35,766.65 L521.66,767.51 Z" fill="#f8e615" stroke="#7c730a" stroke-width="0.5" stroke-linejoin="round"/>
<path d="M590.10,781.14 L596.42,780.98 L591.30,778.29 L585.00,778.38 Z" fill="#aee510" stroke="#577208" stroke-width="0.5" stroke-linejoin="round"/>
<path d="M485.29,766.43 L492.24,764.94 L487.89,761.83 L480.97,763.25 Z" fill="#f8ca1b" stroke="#7c650d" stroke-width="0.5" stroke-linejoin="round"/>
<path d="M537.69,772.54 L544.34,771.72 L539.61,768.83 L532.98,769.57 Z" fill="#f4ed11" stroke="#7a7609" stroke-width="0.5" stroke-linejoin="round"/>
<path d="M601.61,783.70 L607.87,783.66 L602.66,781.00 L596.42,780.98 Z" fill="#95dc14" stroke="#4b6e0a" stroke-width="0.5" stroke-linejoin="round"/>
<path d="M496.65,768.09 L503.55,766.71 L499.11,763.64 L492.24,764.94 Z" fill="#f8d519" stroke="#7c6a0c" stroke-width="0.5" stroke-linejoin="round"/>
<path d="M549.14,774.65 L555.73,773.95 L550.91,771.09 L544.34,771.72 Z" fill="#eff30d" stroke="#787a07" stroke-width="0.5" stroke-linejoin="round"/>
<path d="M613.16,786.35 L619.34,786.42 L614.04,783.80 L607.87,783.66 Z" fill="#80d412" stroke="#406a09" stroke-width="0.5" stroke-linejoin="round"/>
<path d="M560.63,776.84 L567.16,776.26 L562.24,773.44 L555.73,773.95 Z" fill="#e2f30c" stroke="#717a06" stroke-width="0.5" stroke-linejoin="round"/>
<path d="M508.05,769.83 L514.89,768.57 L510.37,765.54 L503.55,766.71 Z" fill="#f8dd17" stroke="#7c6e0b" stroke-width="0.5" stroke-linejoin="round"/>
<path d="M572.14,779.12 L578.61,778.66 L573.60,775.87 L567.16,776.26 Z" fill="#d0f00c" stroke="#687806" stroke-width="0.5" stroke-linejoin="round"/>
<path d="M519.49,771.65 L526.28,770.51 L521.66,767.51 L514.89,768.57 Z" fill="#f8e515" stroke="#7c720a" stroke-width="0.5" stroke-linejoin="round"/>
<path d="M583.69,781.49 L590.10,781.14 L585.00,778.38 L578.61,778.66 Z" fill="#bae90f" stroke="#5d7507" stroke-width="0.5" stroke-linejoin="round"/>
<path d="M530.96,773.56 L537.69,772.54 L532.98,769.57 L526.28,770.51 Z" fill="#f5ec12" stroke="#7b7609" stroke-width="0.5" stroke-linejoin="round"/>
<path d="M595.27,783.93 L601.61,783.70 L596.42,780.98 L590.10,781.14 Z" fill="#a2e012" stroke="#517009" stroke-width="0.5" stroke-linejoin="round"/>
<path d="M489.68,769.67 L496.65,768.09 L492.24,764.94 L485.29,766.43 Z" fill="#f8d718" stroke="#7c6b0c" stroke-width="0.5" stroke-linejoin="round"/>
<path d="M542.47,775.55 L549.14,774.65 L544.34,771.72 L537.69,772.54 Z" fill="#f1f20e" stroke="#787907" stroke-width="0.5" stroke-linejoin="round"/>
<path d="M606.88,786.47 L613.16,786.35 L607.87,783.66 L601.61,783.70 Z" fill="#8cd813" stroke="#466c0a" stroke-width="0.5" stroke-linejoin="round"/>
<path d="M501.13,771.29 L508.05,769.83 L503.55,766.71 L496.65,768.09 Z" fill="#f8de17" stroke="#7c6f0b" stroke-width="0.5" stroke-linejoin="round"/>
<path d="M554.01,777.62 L560.63,776.84 L555.73,773.95 L549.14,774.65 Z" fill="#e7f40c" stroke="#737a06" stroke-width="0.5" stroke-linejoin="round"/>
<path d="M512.62,772.99 L519.49,771.65 L514.89,768.57 L508.05,769.83 Z" fill="#f8e515" stroke="#7c730a" stroke-width="0.5" stroke-linejoin="round"/>
<path d="M565.59,779.78 L572.14,779.12 L567.16,776.26 L560.63,776.84 Z" fill="#d6f10c" stroke="#6b7906" stroke-width="0.5" stroke-linejoin="round"/>
<path d="M577.21,782.03 L583.69,781.49 L578.61,778.66 L572.14,779.12 Z" fill="#c3ec0d" stroke="#627607" stroke-width="0.5" stroke-linejoin="round"/>
<path d="M524.15,774.78 L530.96,773.56 L526.28,770.51 L519.49,771.65 Z" fill="#f5eb12" stroke="#7b7609" stroke-width="0.5" stroke-linejoin="round"/>
<path d="M588.85,784.36 L595.27,783.93 L590.10,781.14 L583.69,781.49 Z" fill="#ade411" stroke="#567208" stroke-width="0.5" stroke-linejoin="round"/>
<path d="M535.72,776.65 L542.47,775.55 L537.69,772.54 L530.96,773.56 Z" fill="#f1f10f" stroke="#797807" stroke-width="0.5" stroke-linejoin="round"/>
<path d="M600.53,786.78 L606.88,786.47 L601.61,783.70 L595.27,783.93 Z" fill="#95dc14" stroke="#4b6e0a" stroke-width="0.5" stroke-linejoin="round"/>
<path d="M494.13,772.96 L501.13,771.29 L496.65,768.09 L489.68,769.67 Z" fill="#f8e016" stroke="#7c700b" stroke-width="0.5" stroke-linejoin="round"/>
<path d="M547.32,778.60 L554.01,777.62 L549.14,774.65 L542.47,775.55 Z" fill="#eaf40c" stroke="#757a06" stroke-width="0.5" stroke-linejoin="round"/>
<path d="M505.67,774.54 L512.62,772.99 L508.05,769.83 L501.13,771.29 Z" fill="#f8e714" stroke="#7c730a" stroke-width="0.5" stroke-linejoin="round"/>
<path d="M558.96,780.64 L565.59,779.78 L560.63,776.84 L554.01,777.62 Z" fill="#dbf20c" stroke="#6d7906" stroke-width="0.5" stroke-linejoin="round"/>
<path d="M517.26,776.20 L524.15,774.78 L519.49,771.65 L512.62,772.99 Z" fill="#f5ec12" stroke="#7b7609" stroke-width="0.5" stroke-linejoin="round"/>
<path d="M570.64,782.77 L577.21,782.03 L572.14,779.12 L565.59,779.78 Z" fill="#caef0c" stroke="#657706" stroke-width="0.5" stroke-linejoin="round"/>
<path d="M582.35,784.98 L588.85,784.36 L583.69,781.49 L577.21,782.03 Z" fill="#b5e70f" stroke="#5b7408" stroke-width="0.5" stroke-linejoin="round"/>
<path d="M528.88,777.95 L535.72,776.65 L530.96,773.56 L524.15,774.78 Z" fill="#f1f10f" stroke="#797807" stroke-width="0.5" stroke-linejoin="round"/>
<path d="M594.09,787.28 L600.53,786.78 L595.27,783.93 L588.85,784.36 Z" fill="#9fdf13" stroke="#507009" stroke-width="0.5" stroke-linejoin="round"/>
<path d="M540.55,779.78 L547.32,778.60 L542.47,775.55 L535.72,776.65 Z" fill="#ebf50c" stroke="#767a06" stroke-width="0.5" stroke-linejoin="round"/>
<path d="M498.65,776.29 L505.67,774.54 L501.13,771.29 L494.13,772.96 Z" fill="#f7e914" stroke="#7c740a" stroke-width="0.5" stroke-linejoin="round"/>
<path d="M552.25,781.70 L558.96,780.64 L554.01,777.62 L547.32,778.60 Z" fill="#ddf20c" stroke="#6f7906" stroke-width="0.5" stroke-linejoin="round"/>
<path d="M510.29,777.83 L517.26,776.20 L512.62,772.99 L505.67,774.54 Z" fill="#f4ed11" stroke="#7a7608" stroke-width="0.5" stroke-linejoin="round"/>
<path d="M563.99,783.71 L570.64,782.77 L565.59,779.78 L558.96,780.64 Z" fill="#cff00c" stroke="#677806" stroke-width="0.5" stroke-linejoin="round"/>
<path d="M521.97,779.46 L528.88,777.95 L524.15,774.78 L517.26,776.20 Z" fill="#f1f10e" stroke="#787907" stroke-width="0.5" stroke-linejoin="round"/>
<path d="M575.76,785.80 L582.35,784.98 L577.21,782.03 L570.64,782.77 Z" fill="#bcea0f" stroke="#5e7507" stroke-width="0.5" stroke-linejoin="round"/>
<path d="M533.69,781.17 L540.55,779.78 L535.72,776.65 L528.88,777.95 Z" fill="#ebf50c" stroke="#767a06" stroke-width="0.5" stroke-linejoin="round"/>
<path d="M587.57,787.98 L594.09,787.28 L588.85,784.36 L582.35,784.98 Z" fill="#a7e211" stroke="#547109" stroke-width="0.5" stroke-linejoin="round"/>
<path d="M545.45,782.97 L552.25,781.70 L547.32,778.60 L540.55,779.78 Z" fill="#def30c" stroke="#6f7906" stroke-width="0.5" stroke-linejoin="round"/>
<path d="M503.24,779.68 L510.29,777.83 L505.67,774.54 L498.65,776.29 Z" fill="#f3ef10" stroke="#797708" stroke-width="0.5" stroke-linejoin="round"/>
<path d="M557.25,784.85 L563.99,783.71 L558.96,780.64 L552.25,781.70 Z" fill="#d1f10c" stroke="#687806" stroke-width="0.5" stroke-linejoin="round"/>
<path d="M514.97,781.18 L521.97,779.46 L517.26,776.20 L510.29,777.83 Z" fill="#f0f30d" stroke="#787907" stroke-width="0.5" stroke-linejoin="round"/>
<path d="M569.09,786.82 L575.76,785.80 L570.64,782.77 L563.99,783.71 Z" fill="#c0eb0e" stroke="#607607" stroke-width="0.5" stroke-linejoin="round"/>
<path d="M526.75,782.77 L533.69,781.17 L528.88,777.95 L521.97,779.46 Z" fill="#e9f40c" stroke="#757a06" stroke-width="0.5" stroke-linejoin="round"/>
<path d="M580.96,788.88 L587.57,787.98 L582.35,784.98 L575.76,785.80 Z" fill="#ade411" stroke="#577208" stroke-width="0.5" stroke-linejoin="round"/>
<path d="M538.57,784.45 L545.45,782.97 L540.55,779.78 L533.69,781.17 Z" fill="#ddf20c" stroke="#6f7906" stroke-width="0.5" stroke-linejoin="round"/>
<path d="M550.43,786.21 L557.25,784.85 L552.25,781.70 L545.45,782.97 Z" fill="#d1f10c" stroke="#697806" stroke-width="0.5" stroke-linejoin="round"/>
<path d="M507.90,783.12 L514.97,781.18 L510.29,777.83 L503.24,779.68 Z" fill="#eef50c" stroke="#777a06" stroke-width="0.5" stroke-linejoin="round"/>
<path d="M562.33,788.05 L569.09,786.82 L563.99,783.71 L557.25,784.85 Z" fill="#c2ec0e" stroke="#617607" stroke-width="0.5" stroke-linejoin="round"/>
<path d="M519.73,784.58 L526.75,782.77 L521.97,779.46 L514.97,781.18 Z" fill="#e5f40c" stroke="#737a06" stroke-width="0.5" stroke-linejoin="round"/>
<path d="M574.27,789.99 L580.96,788.88 L575.76,785.80 L569.09,786.82 Z" fill="#b1e610" stroke="#587308" stroke-width="0.5" stroke-linejoin="round"/>
<path d="M531.61,786.13 L538.57,784.45 L533.69,781.17 L526.75,782.77 Z" fill="#dbf20c" stroke="#6d7906" stroke-width="0.5" stroke-linejoin="round"/>
<path d="M543.53,787.77 L550.43,786.21 L545.45,782.97 L538.57,784.45 Z" fill="#d0f00c" stroke="#687806" stroke-width="0.5" stroke-linejoin="round"/>
<path d="M555.49,789.49 L562.33,788.05 L557.25,784.85 L550.43,786.21 Z" fill="#c2ec0e" stroke="#617607" stroke-width="0.5" stroke-linejoin="round"/>
<path d="M512.63,786.61 L519.73,784.58 L514.97,781.18 L507.90,783.12 Z" fill="#e0f30c" stroke="#707906" stroke-width="0.5" stroke-linejoin="round"/>
<path d="M567.49,791.30 L574.27,789.99 L569.09,786.82 L562.33,788.05 Z" fill="#b2e610" stroke="#597308" stroke-width="0.5" stroke-linejoin="round"/>
<path d="M524.56,788.04 L531.61,786.13 L526.75,782.77 L519.73,784.58 Z" fill="#d7f10c" stroke="#6b7906" stroke-width="0.5" stroke-linejoin="round"/>
<path d="M536.54,789.55 L543.53,787.77 L538.57,784.45 L531.61,786.13 Z" fill="#cdf00c" stroke="#667806" stroke-width="0.5" stroke-linejoin="round"/>
<path d="M548.56,791.14 L555.49,789.49 L550.43,786.21 L543.53,787.77 Z" fill="#bfeb0e" stroke="#607607" stroke-width="0.5" stroke-linejoin="round"/>
<path d="M560.63,792.83 L567.49,791.30 L562.33,788.05 L555.49,789.49 Z" fill="#b1e610" stroke="#597308" stroke-width="0.5" stroke-linejoin="round"/>
<path d="M517.43,790.16 L524.56,788.04 L519.73,784.58 L512.63,786.61 Z" fill="#d1f10c" stroke="#687806" stroke-width="0.5" stroke-linejoin="round"/>
<path d="M529.47,791.54 L536.54,789.55 L531.61,786.13 L524.56,788.04 Z" fill="#c7ee0d" stroke="#637706" stroke-width="0.5" stroke-linejoin="round"/>
<path d="M541.55,793.01 L548.56,791.14 L543.53,787.77 L536.54,789.55 Z" fill="#bbe90f" stroke="#5e7507" stroke-width="0.5" stroke-linejoin="round"/>
<path d="M553.68,794.57 L560.63,792.83 L555.49,789.49 L548.56,791.14 Z" fill="#aee510" stroke="#577208" stroke-width="0.5" stroke-linejoin="round"/>
<path d="M522.31,793.76 L529.47,791.54 L524.56,788.04 L517.43,790.16 Z" fill="#bfeb0e" stroke="#5f7507" stroke-width="0.5" stroke-linejoin="round"/>
<path d="M534.46,795.10 L541.55,793.01 L536.54,789.55 L529.47,791.54 Z" fill="#b4e710" stroke="#5a7408" stroke-width="0.5" stroke-linejoin="round"/>
<path d="M546.64,796.54 L553.68,794.57 L548.56,791.14 L541.55,793.01 Z" fill="#a9e311" stroke="#557209" stroke-width="0.5" stroke-linejoin="round"/>
<path d="M527.27,797.42 L534.46,795.10 L529.47,791.54 L522.31,793.76 Z" fill="#ace411" stroke="#567208" stroke-width="0.5" stroke-linejoin="round"/>
<path d="M539.52,798.72 L546.64,796.54 L541.55,793.01 L534.46,795.10 Z" fill="#a2e012" stroke="#517009" stroke-width="0.5" stroke-linejoin="round"/>
<path d="M532.31,801.14 L539.52,798.72 L534.46,795.10 L527.27,797.42 Z" fill="#99dd14" stroke="#4c6f0a" stroke-width="0.5" stroke-linejoin="round"/>
<circle cx="532.00" cy="799.90" r="2.6" fill="#c00000" stroke="#700" stroke-width="0.4"/>
<circle cx="660.30" cy="788.30" r="2.6" fill="#c00000" stroke="#700" stroke-width="0.4"/>
<text x="391.50" y="710.70" font-size="16" class="pl" textLength="16.00" lengthAdjust="spacingAndGlyphs">(f)</text>
</svg></body></html>
